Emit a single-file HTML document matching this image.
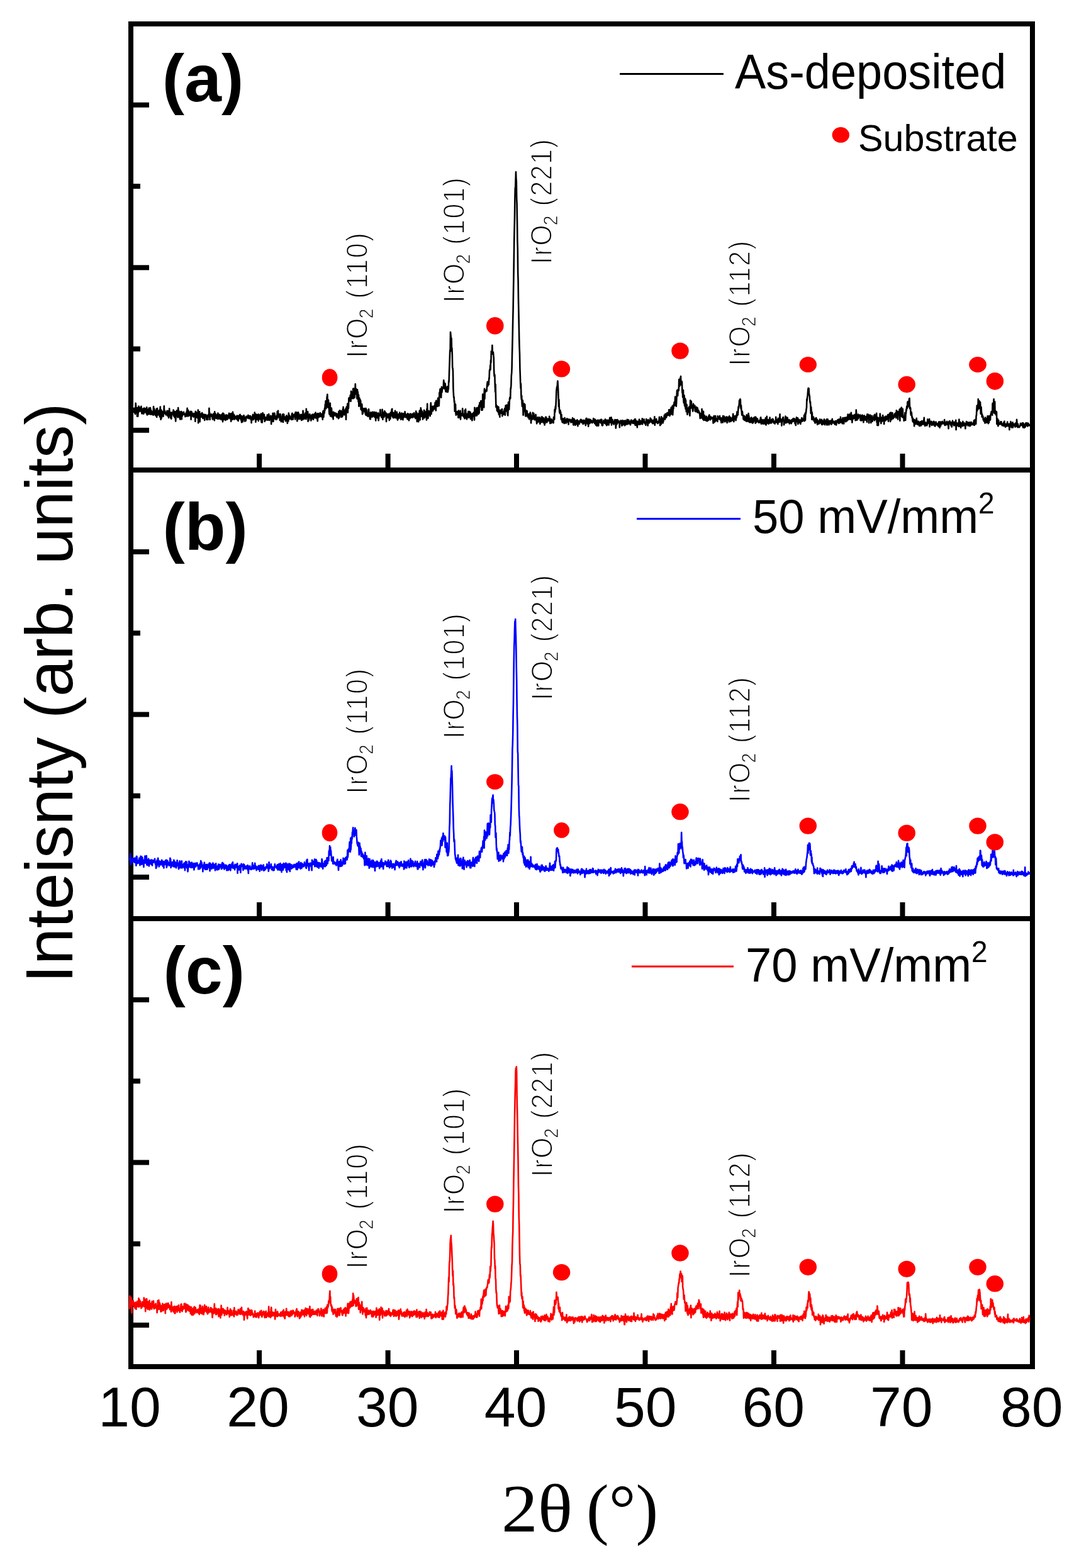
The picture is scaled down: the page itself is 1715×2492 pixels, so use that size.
<!DOCTYPE html>
<html><head><meta charset="utf-8"><title>XRD patterns</title>
<style>html,body{margin:0;padding:0;background:#fff;overflow:hidden;}svg{display:block;}</style>
</head><body>
<svg width="1715" height="2492" viewBox="0 0 1715 2492">
<rect width="100%" height="100%" fill="#fff"/>
<rect x="208" y="38" width="1433" height="2134" fill="none" stroke="#000" stroke-width="8"/>
<line x1="204" y1="747" x2="1645" y2="747" stroke="#000" stroke-width="8"/>
<line x1="204" y1="1460" x2="1645" y2="1460" stroke="#000" stroke-width="8"/>
<line x1="212" y1="166.8" x2="237" y2="166.8" stroke="#000" stroke-width="8"/>
<line x1="212" y1="425.3" x2="237" y2="425.3" stroke="#000" stroke-width="8"/>
<line x1="212" y1="683.8" x2="237" y2="683.8" stroke="#000" stroke-width="8"/>
<line x1="212" y1="296.0" x2="223" y2="296.0" stroke="#000" stroke-width="8"/>
<line x1="212" y1="554.5" x2="223" y2="554.5" stroke="#000" stroke-width="8"/>
<line x1="212" y1="877.0" x2="237" y2="877.0" stroke="#000" stroke-width="8"/>
<line x1="212" y1="1135.5" x2="237" y2="1135.5" stroke="#000" stroke-width="8"/>
<line x1="212" y1="1394.0" x2="237" y2="1394.0" stroke="#000" stroke-width="8"/>
<line x1="212" y1="1006.2" x2="223" y2="1006.2" stroke="#000" stroke-width="8"/>
<line x1="212" y1="1264.8" x2="223" y2="1264.8" stroke="#000" stroke-width="8"/>
<line x1="212" y1="1589.0" x2="237" y2="1589.0" stroke="#000" stroke-width="8"/>
<line x1="212" y1="1847.5" x2="237" y2="1847.5" stroke="#000" stroke-width="8"/>
<line x1="212" y1="2106.0" x2="237" y2="2106.0" stroke="#000" stroke-width="8"/>
<line x1="212" y1="1718.2" x2="223" y2="1718.2" stroke="#000" stroke-width="8"/>
<line x1="212" y1="1976.8" x2="223" y2="1976.8" stroke="#000" stroke-width="8"/>
<line x1="412.1" y1="721" x2="412.1" y2="743" stroke="#000" stroke-width="8"/>
<line x1="616.6" y1="721" x2="616.6" y2="743" stroke="#000" stroke-width="8"/>
<line x1="821.0" y1="721" x2="821.0" y2="743" stroke="#000" stroke-width="8"/>
<line x1="1025.5" y1="721" x2="1025.5" y2="743" stroke="#000" stroke-width="8"/>
<line x1="1230.0" y1="721" x2="1230.0" y2="743" stroke="#000" stroke-width="8"/>
<line x1="1434.5" y1="721" x2="1434.5" y2="743" stroke="#000" stroke-width="8"/>
<line x1="412.1" y1="1434" x2="412.1" y2="1456" stroke="#000" stroke-width="8"/>
<line x1="616.6" y1="1434" x2="616.6" y2="1456" stroke="#000" stroke-width="8"/>
<line x1="821.0" y1="1434" x2="821.0" y2="1456" stroke="#000" stroke-width="8"/>
<line x1="1025.5" y1="1434" x2="1025.5" y2="1456" stroke="#000" stroke-width="8"/>
<line x1="1230.0" y1="1434" x2="1230.0" y2="1456" stroke="#000" stroke-width="8"/>
<line x1="1434.5" y1="1434" x2="1434.5" y2="1456" stroke="#000" stroke-width="8"/>
<line x1="412.1" y1="2146" x2="412.1" y2="2168" stroke="#000" stroke-width="8"/>
<line x1="616.6" y1="2146" x2="616.6" y2="2168" stroke="#000" stroke-width="8"/>
<line x1="821.0" y1="2146" x2="821.0" y2="2168" stroke="#000" stroke-width="8"/>
<line x1="1025.5" y1="2146" x2="1025.5" y2="2168" stroke="#000" stroke-width="8"/>
<line x1="1230.0" y1="2146" x2="1230.0" y2="2168" stroke="#000" stroke-width="8"/>
<line x1="1434.5" y1="2146" x2="1434.5" y2="2168" stroke="#000" stroke-width="8"/>
<defs><filter id="bl" x="-1%" y="-5%" width="102%" height="110%"><feGaussianBlur stdDeviation="1"/></filter></defs>
<g>
<polyline points="206.0,653.2 206.4,655.3 206.8,657.8 207.2,646.0 207.6,655.7 208.0,653.7 208.4,649.5 208.8,654.4 209.2,653.5 209.6,653.2 210.0,652.1 210.4,654.4 210.8,648.8 211.2,651.4 211.6,650.0 212.0,654.7 212.4,652.4 212.8,651.0 213.2,648.9 213.6,651.2 214.0,655.8 214.4,651.2 214.8,658.0 215.2,656.8 215.6,640.8 216.0,644.4 216.4,651.8 216.8,650.8 217.2,653.6 217.6,653.6 218.0,661.8 218.4,648.0 218.8,651.2 219.2,661.6 219.6,655.7 220.0,655.8 220.4,645.5 220.8,646.0 221.2,653.8 221.6,653.6 222.0,647.9 222.4,650.3 222.8,652.9 223.2,649.3 223.6,652.9 224.0,653.8 224.4,645.7 224.8,651.3 225.2,656.0 225.6,657.3 226.0,654.9 226.4,650.1 226.8,656.7 227.2,651.6 227.6,657.4 228.0,649.2 228.4,657.7 228.8,653.7 229.2,648.6 229.6,652.6 230.0,654.2 230.4,655.1 230.8,649.9 231.2,649.4 231.6,655.0 232.0,652.2 232.4,655.2 232.8,657.4 233.2,647.4 233.6,655.4 234.0,659.5 234.4,653.2 234.8,651.0 235.2,657.6 235.6,655.6 236.0,658.3 236.4,653.2 236.8,648.5 237.2,654.2 237.6,652.9 238.0,658.0 238.4,655.6 238.8,648.1 239.2,649.9 239.6,658.6 240.0,657.8 240.4,652.3 240.8,655.0 241.2,656.9 241.6,657.0 242.0,658.8 242.4,656.3 242.8,654.8 243.2,654.2 243.6,659.7 244.0,646.1 244.4,654.8 244.8,655.6 245.2,649.6 245.6,656.9 246.0,652.9 246.4,659.1 246.8,655.1 247.2,658.4 247.6,660.7 248.0,657.3 248.4,652.2 248.8,649.7 249.2,663.0 249.6,655.5 250.0,649.0 250.4,656.6 250.8,655.3 251.2,659.5 251.6,656.3 252.0,656.2 252.4,653.3 252.8,658.1 253.2,652.1 253.6,659.0 254.0,662.5 254.4,650.2 254.8,646.5 255.2,659.0 255.6,666.8 256.0,652.5 256.4,651.6 256.8,664.5 257.2,653.3 257.6,654.7 258.0,655.4 258.4,658.9 258.8,655.2 259.2,658.0 259.6,661.8 260.0,653.6 260.4,655.7 260.8,645.3 261.2,657.1 261.6,652.6 262.0,652.7 262.4,655.8 262.8,656.9 263.2,657.0 263.6,659.2 264.0,655.6 264.4,656.3 264.8,659.0 265.2,658.4 265.6,652.7 266.0,660.7 266.4,655.1 266.8,653.2 267.2,653.9 267.6,655.9 268.0,663.9 268.4,652.9 268.8,658.2 269.2,649.2 269.6,657.6 270.0,661.2 270.4,656.7 270.8,655.2 271.2,664.3 271.6,660.5 272.0,660.4 272.4,665.6 272.8,658.7 273.2,655.5 273.6,657.4 274.0,657.6 274.4,658.4 274.8,657.8 275.2,658.7 275.6,651.5 276.0,661.3 276.4,655.8 276.8,653.5 277.2,660.6 277.6,663.3 278.0,660.1 278.4,664.2 278.8,654.6 279.2,669.4 279.6,661.7 280.0,653.9 280.4,655.3 280.8,658.7 281.2,652.4 281.6,659.1 282.0,656.7 282.4,663.2 282.8,662.2 283.2,648.0 283.6,658.7 284.0,652.3 284.4,662.9 284.8,659.3 285.2,660.8 285.6,654.6 286.0,665.8 286.4,666.5 286.8,654.7 287.2,660.2 287.6,656.2 288.0,658.8 288.4,654.0 288.8,666.1 289.2,655.2 289.6,657.8 290.0,660.9 290.4,656.5 290.8,658.1 291.2,656.9 291.6,658.6 292.0,654.7 292.4,657.5 292.8,658.4 293.2,657.9 293.6,659.5 294.0,658.2 294.4,662.2 294.8,658.1 295.2,658.8 295.6,656.9 296.0,657.4 296.4,654.6 296.8,661.4 297.2,655.2 297.6,648.8 298.0,660.9 298.4,661.1 298.8,658.1 299.2,652.0 299.6,661.2 300.0,660.7 300.4,654.4 300.8,654.7 301.2,657.1 301.6,655.5 302.0,660.2 302.4,659.2 302.8,660.6 303.2,653.9 303.6,666.8 304.0,657.7 304.4,654.2 304.8,655.0 305.2,658.7 305.6,661.3 306.0,658.8 306.4,659.9 306.8,661.1 307.2,657.4 307.6,662.7 308.0,658.5 308.4,657.0 308.8,660.6 309.2,662.0 309.6,659.5 310.0,657.1 310.4,669.7 310.8,653.9 311.2,656.6 311.6,660.6 312.0,655.4 312.4,660.6 312.8,660.4 313.2,663.9 313.6,657.2 314.0,658.3 314.4,661.9 314.8,651.6 315.2,672.2 315.6,658.2 316.0,658.1 316.4,664.0 316.8,660.7 317.2,654.3 317.6,670.3 318.0,664.1 318.4,659.3 318.8,659.9 319.2,662.8 319.6,657.7 320.0,662.7 320.4,661.8 320.8,658.6 321.2,656.0 321.6,660.3 322.0,658.0 322.4,664.9 322.8,661.8 323.2,664.1 323.6,661.8 324.0,662.3 324.4,658.5 324.8,663.8 325.2,667.9 325.6,660.3 326.0,659.3 326.4,660.9 326.8,659.8 327.2,659.0 327.6,662.1 328.0,660.5 328.4,666.8 328.8,661.6 329.2,662.8 329.6,665.2 330.0,660.6 330.4,667.0 330.8,659.5 331.2,658.9 331.6,660.5 332.0,661.5 332.4,648.9 332.8,661.8 333.2,655.9 333.6,667.0 334.0,661.7 334.4,659.7 334.8,658.8 335.2,660.7 335.6,661.3 336.0,658.4 336.4,658.9 336.8,661.5 337.2,660.4 337.6,665.6 338.0,666.3 338.4,662.4 338.8,664.0 339.2,657.6 339.6,664.7 340.0,662.3 340.4,664.1 340.8,668.1 341.2,654.3 341.6,663.4 342.0,658.5 342.4,664.5 342.8,657.8 343.2,660.7 343.6,663.2 344.0,664.6 344.4,662.7 344.8,659.6 345.2,660.5 345.6,665.6 346.0,662.5 346.4,656.5 346.8,665.5 347.2,664.0 347.6,665.6 348.0,661.3 348.4,665.4 348.8,658.7 349.2,664.5 349.6,660.8 350.0,664.9 350.4,666.1 350.8,659.9 351.2,662.3 351.6,662.7 352.0,666.8 352.4,665.1 352.8,658.2 353.2,664.2 353.6,665.2 354.0,670.1 354.4,656.6 354.8,660.7 355.2,667.3 355.6,657.8 356.0,658.3 356.4,664.4 356.8,666.2 357.2,660.2 357.6,664.5 358.0,663.0 358.4,668.0 358.8,662.6 359.2,666.1 359.6,659.4 360.0,662.0 360.4,662.3 360.8,666.7 361.2,664.7 361.6,660.0 362.0,665.1 362.4,665.4 362.8,662.3 363.2,661.7 363.6,662.0 364.0,656.7 364.4,663.3 364.8,663.5 365.2,659.6 365.6,665.3 366.0,657.8 366.4,660.7 366.8,661.0 367.2,669.7 367.6,657.0 368.0,664.7 368.4,666.1 368.8,664.1 369.2,666.9 369.6,659.2 370.0,654.7 370.4,665.5 370.8,658.5 371.2,661.6 371.6,658.6 372.0,666.5 372.4,665.8 372.8,660.2 373.2,666.0 373.6,663.2 374.0,662.3 374.4,663.0 374.8,662.1 375.2,665.0 375.6,663.9 376.0,661.6 376.4,666.4 376.8,660.6 377.2,663.8 377.6,664.3 378.0,668.0 378.4,661.0 378.8,669.0 379.2,663.5 379.6,662.2 380.0,660.5 380.4,664.9 380.8,663.0 381.2,659.0 381.6,658.9 382.0,660.9 382.4,660.5 382.8,666.7 383.2,667.7 383.6,665.9 384.0,671.1 384.4,661.4 384.8,663.1 385.2,666.0 385.6,670.4 386.0,666.1 386.4,661.9 386.8,663.0 387.2,661.2 387.6,660.2 388.0,662.3 388.4,663.6 388.8,669.4 389.2,663.1 389.6,667.7 390.0,669.2 390.4,663.2 390.8,668.6 391.2,665.5 391.6,661.5 392.0,663.9 392.4,663.1 392.8,662.2 393.2,662.3 393.6,663.5 394.0,664.5 394.4,659.9 394.8,663.0 395.2,661.0 395.6,663.9 396.0,665.2 396.4,663.6 396.8,664.0 397.2,665.1 397.6,660.7 398.0,662.2 398.4,664.8 398.8,666.6 399.2,664.4 399.6,672.0 400.0,662.7 400.4,666.6 400.8,667.5 401.2,662.6 401.6,660.2 402.0,658.9 402.4,663.6 402.8,667.0 403.2,664.0 403.6,663.7 404.0,661.8 404.4,665.1 404.8,655.6 405.2,663.9 405.6,663.2 406.0,658.3 406.4,670.8 406.8,658.3 407.2,659.4 407.6,658.9 408.0,667.0 408.4,660.0 408.8,665.5 409.2,665.2 409.6,664.1 410.0,658.6 410.4,661.0 410.8,669.0 411.2,658.6 411.6,660.3 412.0,662.6 412.4,666.0 412.8,664.1 413.2,665.8 413.6,659.5 414.0,666.5 414.4,665.2 414.8,657.6 415.2,668.6 415.6,671.2 416.0,660.5 416.4,663.4 416.8,671.4 417.2,658.0 417.6,656.3 418.0,658.7 418.4,661.3 418.8,661.2 419.2,665.4 419.6,664.2 420.0,658.9 420.4,665.2 420.8,669.8 421.2,667.5 421.6,666.7 422.0,663.3 422.4,666.7 422.8,667.4 423.2,665.9 423.6,663.0 424.0,667.2 424.4,664.9 424.8,659.5 425.2,663.8 425.6,667.6 426.0,659.4 426.4,661.4 426.8,660.6 427.2,658.1 427.6,666.7 428.0,667.9 428.4,666.1 428.8,664.2 429.2,663.2 429.6,664.2 430.0,660.8 430.4,666.5 430.8,667.0 431.2,673.9 431.6,661.5 432.0,663.7 432.4,662.8 432.8,669.6 433.2,664.0 433.6,656.8 434.0,664.8 434.4,670.0 434.8,665.8 435.2,666.5 435.6,663.5 436.0,656.6 436.4,657.1 436.8,659.1 437.2,663.0 437.6,664.5 438.0,665.8 438.4,662.3 438.8,666.8 439.2,662.5 439.6,661.0 440.0,666.4 440.4,660.3 440.8,654.0 441.2,659.8 441.6,663.8 442.0,652.8 442.4,662.2 442.8,662.3 443.2,658.5 443.6,658.3 444.0,661.9 444.4,661.6 444.8,667.9 445.2,664.8 445.6,658.0 446.0,660.5 446.4,665.9 446.8,670.1 447.2,664.8 447.6,664.5 448.0,669.9 448.4,663.3 448.8,662.3 449.2,658.5 449.6,661.6 450.0,671.0 450.4,658.4 450.8,663.4 451.2,658.5 451.6,663.8 452.0,666.4 452.4,662.5 452.8,665.9 453.2,665.8 453.6,664.9 454.0,669.3 454.4,666.0 454.8,662.2 455.2,660.9 455.6,660.3 456.0,664.9 456.4,662.1 456.8,672.8 457.2,669.7 457.6,662.5 458.0,662.1 458.4,669.1 458.8,656.6 459.2,661.6 459.6,666.5 460.0,660.0 460.4,661.5 460.8,661.9 461.2,665.5 461.6,663.6 462.0,664.5 462.4,665.2 462.8,663.2 463.2,667.0 463.6,660.5 464.0,658.0 464.4,656.8 464.8,657.4 465.2,661.1 465.6,666.7 466.0,663.6 466.4,660.9 466.8,659.2 467.2,661.1 467.6,661.6 468.0,661.0 468.4,657.9 468.8,661.3 469.2,666.5 469.6,655.3 470.0,662.1 470.4,655.4 470.8,663.6 471.2,660.3 471.6,655.5 472.0,663.2 472.4,669.3 472.8,663.2 473.2,667.0 473.6,662.6 474.0,655.2 474.4,664.6 474.8,661.3 475.2,657.6 475.6,665.6 476.0,663.8 476.4,660.9 476.8,665.8 477.2,659.7 477.6,665.0 478.0,659.4 478.4,664.6 478.8,658.8 479.2,668.0 479.6,663.6 480.0,667.8 480.4,659.8 480.8,661.0 481.2,665.6 481.6,652.9 482.0,658.8 482.4,666.3 482.8,664.3 483.2,666.1 483.6,661.5 484.0,664.6 484.4,660.0 484.8,657.7 485.2,656.5 485.6,660.6 486.0,660.6 486.4,666.2 486.8,649.9 487.2,655.4 487.6,660.6 488.0,663.5 488.4,660.4 488.8,659.3 489.2,654.2 489.6,669.6 490.0,658.5 490.4,668.4 490.8,667.9 491.2,663.3 491.6,660.3 492.0,662.8 492.4,658.2 492.8,663.2 493.2,662.3 493.6,664.2 494.0,665.7 494.4,668.5 494.8,660.8 495.2,666.0 495.6,659.4 496.0,659.0 496.4,660.0 496.8,658.6 497.2,665.7 497.6,665.4 498.0,666.7 498.4,662.0 498.8,663.1 499.2,660.0 499.6,657.9 500.0,663.6 500.4,663.0 500.8,658.0 501.2,664.1 501.6,655.6 502.0,661.3 502.4,659.6 502.8,659.9 503.2,657.9 503.6,665.2 504.0,663.8 504.4,666.0 504.8,669.3 505.2,657.0 505.6,660.3 506.0,657.3 506.4,663.2 506.8,658.2 507.2,662.6 507.6,659.2 508.0,660.0 508.4,662.0 508.8,656.0 509.2,661.7 509.6,661.9 510.0,659.1 510.4,659.5 510.8,661.5 511.2,657.8 511.6,657.7 512.0,663.5 512.4,661.3 512.8,666.6 513.2,656.5 513.6,653.2 514.0,663.2 514.4,662.8 514.8,655.8 515.2,652.1 515.6,656.7 516.0,648.5 516.4,652.6 516.8,642.7 517.2,648.7 517.6,637.4 518.0,643.3 518.4,649.1 518.8,637.4 519.2,640.6 519.6,631.5 520.0,629.6 520.4,626.7 520.8,647.0 521.2,637.1 521.6,647.8 522.0,635.9 522.4,643.0 522.8,646.8 523.2,655.0 523.6,658.6 524.0,649.5 524.4,649.0 524.8,640.7 525.2,661.4 525.6,656.5 526.0,654.9 526.4,657.8 526.8,648.5 527.2,652.0 527.6,662.4 528.0,660.5 528.4,659.7 528.8,655.4 529.2,661.5 529.6,666.1 530.0,654.7 530.4,659.5 530.8,657.8 531.2,660.8 531.6,659.5 532.0,658.9 532.4,656.1 532.8,659.4 533.2,657.1 533.6,658.8 534.0,659.1 534.4,661.8 534.8,657.1 535.2,658.0 535.6,663.3 536.0,658.4 536.4,658.1 536.8,662.4 537.2,660.1 537.6,659.3 538.0,665.2 538.4,654.1 538.8,660.5 539.2,663.8 539.6,660.8 540.0,652.4 540.4,659.5 540.8,654.7 541.2,657.2 541.6,658.5 542.0,653.1 542.4,662.9 542.8,657.2 543.2,660.4 543.6,659.6 544.0,662.2 544.4,661.3 544.8,650.3 545.2,656.1 545.6,646.9 546.0,653.4 546.4,657.8 546.8,658.3 547.2,659.4 547.6,651.9 548.0,654.4 548.4,652.9 548.8,657.4 549.2,658.2 549.6,649.0 550.0,666.8 550.4,649.1 550.8,646.6 551.2,650.3 551.6,650.2 552.0,648.3 552.4,641.6 552.8,655.8 553.2,643.0 553.6,649.4 554.0,647.6 554.4,633.0 554.8,633.3 555.2,631.9 555.6,637.3 556.0,635.1 556.4,635.0 556.8,628.1 557.2,633.5 557.6,637.6 558.0,621.8 558.4,626.8 558.8,628.0 559.2,625.0 559.6,623.7 560.0,633.3 560.4,629.9 560.8,626.9 561.2,617.7 561.6,633.2 562.0,622.8 562.4,617.6 562.8,618.7 563.2,617.9 563.6,632.0 564.0,622.0 564.4,621.6 564.8,610.3 565.2,626.3 565.6,617.5 566.0,617.9 566.4,623.1 566.8,621.1 567.2,631.2 567.6,633.8 568.0,619.4 568.4,629.4 568.8,622.9 569.2,632.1 569.6,638.5 570.0,627.6 570.4,645.6 570.8,635.6 571.2,632.2 571.6,638.9 572.0,644.6 572.4,634.8 572.8,642.7 573.2,637.1 573.6,650.5 574.0,646.4 574.4,644.6 574.8,652.2 575.2,642.4 575.6,647.3 576.0,658.1 576.4,649.9 576.8,657.1 577.2,652.6 577.6,649.3 578.0,651.9 578.4,653.8 578.8,652.2 579.2,650.9 579.6,651.5 580.0,649.0 580.4,655.9 580.8,657.4 581.2,659.1 581.6,649.1 582.0,659.9 582.4,656.8 582.8,651.4 583.2,657.7 583.6,660.7 584.0,659.7 584.4,660.7 584.8,661.7 585.2,661.6 585.6,658.1 586.0,650.2 586.4,655.5 586.8,659.9 587.2,656.8 587.6,661.3 588.0,666.0 588.4,659.0 588.8,666.1 589.2,655.2 589.6,662.6 590.0,657.3 590.4,656.2 590.8,661.4 591.2,656.9 591.6,662.6 592.0,654.9 592.4,659.5 592.8,656.2 593.2,658.6 593.6,658.1 594.0,655.2 594.4,662.0 594.8,654.9 595.2,655.9 595.6,663.0 596.0,663.4 596.4,662.2 596.8,661.0 597.2,668.4 597.6,655.2 598.0,657.0 598.4,656.1 598.8,663.2 599.2,661.0 599.6,664.1 600.0,663.6 600.4,659.1 600.8,656.9 601.2,656.3 601.6,668.3 602.0,663.7 602.4,662.3 602.8,658.8 603.2,659.3 603.6,658.8 604.0,658.9 604.4,651.1 604.8,659.9 605.2,658.7 605.6,661.2 606.0,661.0 606.4,663.4 606.8,660.2 607.2,663.2 607.6,650.7 608.0,656.1 608.4,666.7 608.8,655.7 609.2,659.2 609.6,662.9 610.0,657.0 610.4,663.0 610.8,655.0 611.2,653.2 611.6,655.4 612.0,654.2 612.4,660.3 612.8,659.2 613.2,661.6 613.6,656.5 614.0,669.9 614.4,660.1 614.8,660.2 615.2,662.1 615.6,659.5 616.0,658.1 616.4,660.8 616.8,663.9 617.2,662.9 617.6,664.0 618.0,658.4 618.4,657.6 618.8,667.9 619.2,659.6 619.6,662.3 620.0,663.3 620.4,665.8 620.8,655.5 621.2,658.7 621.6,658.9 622.0,659.4 622.4,651.6 622.8,660.2 623.2,649.8 623.6,661.7 624.0,662.6 624.4,662.8 624.8,656.1 625.2,664.1 625.6,657.4 626.0,656.0 626.4,657.0 626.8,657.5 627.2,661.3 627.6,663.7 628.0,652.8 628.4,658.6 628.8,664.0 629.2,661.4 629.6,662.5 630.0,655.1 630.4,664.2 630.8,654.9 631.2,661.4 631.6,665.7 632.0,667.6 632.4,662.6 632.8,663.9 633.2,658.4 633.6,658.9 634.0,665.0 634.4,660.7 634.8,660.2 635.2,655.5 635.6,661.3 636.0,663.1 636.4,657.8 636.8,658.8 637.2,666.6 637.6,661.4 638.0,659.6 638.4,656.5 638.8,658.4 639.2,659.8 639.6,665.8 640.0,658.4 640.4,667.3 640.8,657.3 641.2,659.4 641.6,663.8 642.0,659.8 642.4,657.6 642.8,660.2 643.2,662.4 643.6,654.3 644.0,659.8 644.4,660.3 644.8,659.2 645.2,663.4 645.6,658.6 646.0,659.3 646.4,660.8 646.8,663.4 647.2,659.9 647.6,666.3 648.0,657.3 648.4,665.4 648.8,657.5 649.2,660.1 649.6,662.0 650.0,668.3 650.4,664.0 650.8,659.1 651.2,665.4 651.6,659.8 652.0,657.6 652.4,658.5 652.8,660.8 653.2,664.0 653.6,658.4 654.0,661.8 654.4,662.7 654.8,661.4 655.2,660.2 655.6,657.7 656.0,663.6 656.4,660.7 656.8,662.0 657.2,658.8 657.6,660.2 658.0,656.2 658.4,660.4 658.8,662.9 659.2,660.3 659.6,663.2 660.0,661.1 660.4,665.0 660.8,659.1 661.2,653.6 661.6,661.4 662.0,659.1 662.4,656.0 662.8,669.9 663.2,660.7 663.6,661.3 664.0,658.3 664.4,660.3 664.8,660.5 665.2,670.2 665.6,656.8 666.0,659.3 666.4,660.7 666.8,652.7 667.2,653.1 667.6,667.5 668.0,652.4 668.4,661.3 668.8,648.4 669.2,656.1 669.6,651.4 670.0,655.5 670.4,661.9 670.8,653.5 671.2,661.1 671.6,659.9 672.0,666.5 672.4,656.8 672.8,663.5 673.2,661.9 673.6,657.3 674.0,651.9 674.4,664.2 674.8,652.9 675.2,656.3 675.6,661.5 676.0,662.3 676.4,654.6 676.8,657.7 677.2,656.7 677.6,658.3 678.0,667.4 678.4,650.1 678.8,660.9 679.2,641.9 679.6,657.0 680.0,652.4 680.4,664.6 680.8,657.1 681.2,653.3 681.6,654.1 682.0,653.6 682.4,656.5 682.8,654.8 683.2,657.9 683.6,661.3 684.0,657.6 684.4,644.2 684.8,640.3 685.2,650.6 685.6,657.9 686.0,651.6 686.4,649.8 686.8,652.9 687.2,645.7 687.6,646.4 688.0,653.2 688.4,649.1 688.8,647.8 689.2,650.8 689.6,646.1 690.0,645.0 690.4,645.4 690.8,649.7 691.2,646.5 691.6,639.9 692.0,643.4 692.4,647.3 692.8,652.5 693.2,636.9 693.6,643.5 694.0,639.6 694.4,644.3 694.8,641.5 695.2,645.9 695.6,640.0 696.0,633.5 696.4,632.5 696.8,636.6 697.2,635.5 697.6,645.2 698.0,640.3 698.4,624.0 698.8,631.1 699.2,621.1 699.6,618.3 700.0,630.1 700.4,628.1 700.8,618.5 701.2,631.8 701.6,616.9 702.0,614.9 702.4,623.6 702.8,620.4 703.2,617.5 703.6,617.1 704.0,617.9 704.4,615.2 704.8,614.3 705.2,604.4 705.6,606.7 706.0,616.6 706.4,609.0 706.8,615.2 707.2,618.5 707.6,609.6 708.0,612.7 708.4,622.2 708.8,615.5 709.2,622.7 709.6,622.6 710.0,620.1 710.4,617.2 710.8,614.8 711.2,614.4 711.6,623.2 712.0,622.4 712.4,616.9 712.8,618.7 713.2,605.5 713.6,607.3 714.0,592.3 714.4,581.1 714.8,569.3 715.2,556.5 715.6,558.9 716.0,527.8 716.4,531.8 716.8,536.7 717.2,537.1 717.6,538.0 718.0,557.8 718.4,553.2 718.8,563.3 719.2,584.7 719.6,585.0 720.0,590.4 720.4,617.2 720.8,624.7 721.2,631.6 721.6,630.9 722.0,639.3 722.4,637.5 722.8,653.6 723.2,651.4 723.6,653.0 724.0,642.6 724.4,655.8 724.8,659.6 725.2,659.1 725.6,657.8 726.0,655.0 726.4,654.1 726.8,658.3 727.2,657.7 727.6,657.4 728.0,655.5 728.4,663.7 728.8,652.6 729.2,657.3 729.6,655.3 730.0,661.8 730.4,663.5 730.8,662.9 731.2,661.1 731.6,652.9 732.0,666.5 732.4,660.5 732.8,658.2 733.2,658.8 733.6,657.5 734.0,660.5 734.4,660.2 734.8,657.7 735.2,649.3 735.6,659.0 736.0,661.1 736.4,661.3 736.8,658.8 737.2,661.1 737.6,663.3 738.0,657.7 738.4,665.1 738.8,652.1 739.2,654.8 739.6,656.2 740.0,650.4 740.4,655.9 740.8,664.4 741.2,664.4 741.6,660.1 742.0,666.3 742.4,660.7 742.8,657.9 743.2,660.7 743.6,659.3 744.0,662.6 744.4,654.1 744.8,663.6 745.2,658.1 745.6,663.0 746.0,654.0 746.4,658.2 746.8,660.1 747.2,663.2 747.6,655.1 748.0,666.0 748.4,661.5 748.8,657.6 749.2,664.2 749.6,659.9 750.0,663.9 750.4,668.3 750.8,662.3 751.2,657.3 751.6,657.6 752.0,661.3 752.4,660.1 752.8,655.6 753.2,656.1 753.6,661.1 754.0,667.5 754.4,647.9 754.8,660.8 755.2,656.9 755.6,660.6 756.0,660.7 756.4,657.2 756.8,652.6 757.2,650.6 757.6,648.3 758.0,660.5 758.4,654.2 758.8,652.4 759.2,653.0 759.6,647.9 760.0,654.3 760.4,658.1 760.8,656.7 761.2,644.2 761.6,656.4 762.0,646.2 762.4,640.1 762.8,642.3 763.2,642.6 763.6,646.2 764.0,640.3 764.4,637.0 764.8,641.9 765.2,651.7 765.6,637.6 766.0,642.4 766.4,639.3 766.8,651.6 767.2,626.5 767.6,641.2 768.0,627.2 768.4,629.7 768.8,631.1 769.2,647.4 769.6,625.1 770.0,617.8 770.4,633.6 770.8,621.0 771.2,623.0 771.6,622.9 772.0,622.4 772.4,619.7 772.8,620.8 773.2,620.2 773.6,621.4 774.0,613.2 774.4,610.0 774.8,606.8 775.2,613.8 775.6,608.5 776.0,609.4 776.4,607.1 776.8,611.1 777.2,601.1 777.6,601.9 778.0,589.2 778.4,587.4 778.8,588.6 779.2,580.6 779.6,587.3 780.0,572.6 780.4,576.0 780.8,558.4 781.2,561.5 781.6,561.9 782.0,559.2 782.4,548.8 782.8,557.9 783.2,562.8 783.6,563.0 784.0,559.8 784.4,565.5 784.8,568.8 785.2,589.9 785.6,597.8 786.0,595.0 786.4,596.3 786.8,613.7 787.2,623.0 787.6,610.8 788.0,631.4 788.4,646.9 788.8,643.6 789.2,645.5 789.6,647.5 790.0,652.8 790.4,645.5 790.8,647.5 791.2,654.2 791.6,650.4 792.0,655.2 792.4,646.7 792.8,658.3 793.2,659.0 793.6,656.0 794.0,656.7 794.4,662.7 794.8,651.9 795.2,652.7 795.6,652.1 796.0,654.8 796.4,652.4 796.8,656.7 797.2,653.9 797.6,650.6 798.0,650.1 798.4,661.2 798.8,655.9 799.2,655.1 799.6,656.0 800.0,655.4 800.4,658.6 800.8,657.6 801.2,652.6 801.6,651.4 802.0,650.0 802.4,649.0 802.8,659.8 803.2,649.6 803.6,644.5 804.0,649.0 804.4,648.7 804.8,653.1 805.2,643.9 805.6,652.8 806.0,643.8 806.4,654.7 806.8,658.0 807.2,660.4 807.6,652.4 808.0,639.3 808.4,641.5 808.8,643.1 809.2,650.6 809.6,641.4 810.0,634.0 810.4,631.5 810.8,632.0 811.2,633.5 811.6,617.1 812.0,617.6 812.4,612.0 812.8,597.0 813.2,593.4 813.6,585.2 814.0,563.4 814.4,547.9 814.8,529.1 815.2,508.5 815.6,491.7 816.0,466.1 816.4,442.6 816.8,415.0 817.2,385.3 817.6,363.1 818.0,345.4 818.4,315.1 818.8,299.1 819.2,296.9 819.6,285.4 820.0,273.3 820.4,284.3 820.8,288.0 821.2,315.8 821.6,324.0 822.0,350.5 822.4,382.3 822.8,396.1 823.2,433.2 823.6,446.8 824.0,476.2 824.4,495.6 824.8,517.3 825.2,537.2 825.6,552.7 826.0,562.4 826.4,585.4 826.8,595.9 827.2,608.6 827.6,617.3 828.0,609.7 828.4,629.6 828.8,634.6 829.2,629.0 829.6,640.9 830.0,645.9 830.4,638.1 830.8,636.2 831.2,643.1 831.6,659.6 832.0,648.9 832.4,643.6 832.8,649.1 833.2,641.5 833.6,650.5 834.0,653.5 834.4,643.1 834.8,656.1 835.2,661.1 835.6,655.1 836.0,655.0 836.4,661.4 836.8,652.6 837.2,653.2 837.6,653.1 838.0,658.4 838.4,660.9 838.8,659.4 839.2,662.2 839.6,663.6 840.0,662.6 840.4,658.1 840.8,660.4 841.2,666.2 841.6,658.2 842.0,661.3 842.4,661.0 842.8,655.5 843.2,659.1 843.6,658.4 844.0,672.3 844.4,666.8 844.8,661.3 845.2,663.7 845.6,666.4 846.0,663.1 846.4,666.5 846.8,655.8 847.2,663.6 847.6,664.6 848.0,663.5 848.4,657.0 848.8,665.4 849.2,666.3 849.6,667.2 850.0,662.5 850.4,666.9 850.8,666.6 851.2,660.2 851.6,658.9 852.0,667.7 852.4,663.1 852.8,669.5 853.2,673.3 853.6,664.6 854.0,664.3 854.4,666.5 854.8,668.8 855.2,663.1 855.6,670.7 856.0,670.0 856.4,669.0 856.8,665.2 857.2,669.9 857.6,669.7 858.0,663.3 858.4,673.7 858.8,666.2 859.2,668.3 859.6,665.6 860.0,668.5 860.4,670.9 860.8,671.0 861.2,662.2 861.6,666.0 862.0,663.4 862.4,665.1 862.8,667.1 863.2,667.3 863.6,671.6 864.0,664.4 864.4,668.7 864.8,666.1 865.2,671.9 865.6,675.5 866.0,668.6 866.4,672.9 866.8,666.1 867.2,662.8 867.6,663.8 868.0,662.9 868.4,664.8 868.8,667.0 869.2,671.3 869.6,670.0 870.0,669.2 870.4,666.5 870.8,665.6 871.2,667.9 871.6,668.2 872.0,668.6 872.4,668.9 872.8,667.4 873.2,661.8 873.6,664.2 874.0,665.1 874.4,672.9 874.8,666.2 875.2,669.6 875.6,672.0 876.0,668.4 876.4,672.3 876.8,666.3 877.2,669.5 877.6,667.9 878.0,670.4 878.4,668.4 878.8,668.9 879.2,668.4 879.6,672.2 880.0,663.0 880.4,664.9 880.8,665.7 881.2,666.4 881.6,650.8 882.0,655.4 882.4,653.5 882.8,646.0 883.2,650.1 883.6,642.1 884.0,633.4 884.4,621.1 884.8,617.4 885.2,614.6 885.6,619.3 886.0,609.2 886.4,605.6 886.8,611.4 887.2,619.8 887.6,632.0 888.0,645.9 888.4,635.1 888.8,647.2 889.2,653.5 889.6,656.7 890.0,653.9 890.4,652.1 890.8,657.8 891.2,654.7 891.6,663.8 892.0,666.8 892.4,658.7 892.8,665.5 893.2,667.1 893.6,670.6 894.0,671.3 894.4,669.7 894.8,665.2 895.2,666.4 895.6,671.4 896.0,666.0 896.4,667.8 896.8,672.9 897.2,668.6 897.6,664.1 898.0,667.4 898.4,670.4 898.8,667.9 899.2,672.1 899.6,672.5 900.0,666.7 900.4,667.2 900.8,668.5 901.2,665.2 901.6,670.0 902.0,668.4 902.4,671.3 902.8,667.2 903.2,666.4 903.6,674.5 904.0,666.5 904.4,667.4 904.8,667.0 905.2,668.3 905.6,666.5 906.0,669.1 906.4,667.2 906.8,668.1 907.2,670.4 907.6,671.4 908.0,670.7 908.4,667.2 908.8,670.6 909.2,669.1 909.6,669.1 910.0,664.4 910.4,671.4 910.8,669.1 911.2,674.5 911.6,675.5 912.0,666.3 912.4,665.6 912.8,672.9 913.2,667.0 913.6,671.6 914.0,668.7 914.4,675.8 914.8,669.9 915.2,674.1 915.6,673.6 916.0,668.4 916.4,668.8 916.8,674.0 917.2,669.7 917.6,667.2 918.0,673.3 918.4,677.2 918.8,669.7 919.2,673.9 919.6,669.4 920.0,673.8 920.4,669.2 920.8,673.8 921.2,671.5 921.6,669.4 922.0,670.7 922.4,668.4 922.8,666.8 923.2,667.0 923.6,669.9 924.0,667.0 924.4,671.3 924.8,671.6 925.2,671.5 925.6,668.7 926.0,670.3 926.4,670.1 926.8,674.0 927.2,667.9 927.6,669.1 928.0,669.5 928.4,669.8 928.8,668.1 929.2,668.4 929.6,673.2 930.0,668.4 930.4,672.9 930.8,676.1 931.2,673.9 931.6,665.1 932.0,672.5 932.4,664.7 932.8,671.9 933.2,665.7 933.6,672.5 934.0,667.2 934.4,674.0 934.8,673.4 935.2,677.6 935.6,669.3 936.0,666.0 936.4,673.4 936.8,672.9 937.2,669.3 937.6,668.2 938.0,672.4 938.4,666.7 938.8,669.4 939.2,669.2 939.6,670.1 940.0,671.0 940.4,668.5 940.8,669.9 941.2,672.1 941.6,670.3 942.0,669.7 942.4,669.6 942.8,670.2 943.2,665.1 943.6,671.0 944.0,667.6 944.4,670.8 944.8,666.3 945.2,673.1 945.6,671.2 946.0,666.7 946.4,671.2 946.8,668.4 947.2,675.7 947.6,672.0 948.0,668.3 948.4,671.2 948.8,676.9 949.2,674.0 949.6,671.6 950.0,672.1 950.4,667.5 950.8,672.9 951.2,676.6 951.6,672.5 952.0,670.5 952.4,671.1 952.8,668.0 953.2,671.2 953.6,667.6 954.0,670.8 954.4,669.6 954.8,668.4 955.2,672.4 955.6,666.5 956.0,670.6 956.4,667.0 956.8,675.9 957.2,676.3 957.6,673.1 958.0,676.1 958.4,672.4 958.8,672.3 959.2,669.6 959.6,668.3 960.0,671.2 960.4,669.3 960.8,669.6 961.2,672.9 961.6,670.5 962.0,666.4 962.4,670.2 962.8,668.7 963.2,674.3 963.6,667.8 964.0,674.2 964.4,676.2 964.8,667.7 965.2,672.7 965.6,672.5 966.0,667.9 966.4,671.2 966.8,674.8 967.2,673.3 967.6,675.4 968.0,667.6 968.4,668.8 968.8,671.7 969.2,663.9 969.6,671.0 970.0,669.8 970.4,669.8 970.8,669.2 971.2,672.2 971.6,663.2 972.0,675.4 972.4,669.5 972.8,666.9 973.2,672.5 973.6,667.0 974.0,672.0 974.4,669.8 974.8,672.6 975.2,673.1 975.6,674.5 976.0,669.6 976.4,670.1 976.8,670.9 977.2,667.0 977.6,672.6 978.0,671.3 978.4,667.2 978.8,680.4 979.2,674.7 979.6,667.2 980.0,672.5 980.4,674.4 980.8,673.2 981.2,668.2 981.6,667.0 982.0,670.6 982.4,669.5 982.8,670.9 983.2,670.6 983.6,672.3 984.0,669.3 984.4,670.4 984.8,679.1 985.2,670.5 985.6,672.9 986.0,671.7 986.4,671.5 986.8,668.3 987.2,672.3 987.6,670.7 988.0,673.1 988.4,676.6 988.8,671.3 989.2,672.9 989.6,668.0 990.0,671.1 990.4,675.1 990.8,670.6 991.2,669.0 991.6,671.4 992.0,670.3 992.4,670.1 992.8,669.7 993.2,676.3 993.6,668.3 994.0,669.6 994.4,669.2 994.8,674.2 995.2,670.0 995.6,674.4 996.0,671.2 996.4,670.7 996.8,666.7 997.2,674.1 997.6,672.3 998.0,671.9 998.4,670.4 998.8,669.6 999.2,667.2 999.6,673.4 1000.0,671.5 1000.4,669.7 1000.8,672.0 1001.2,671.1 1001.6,670.5 1002.0,675.3 1002.4,672.9 1002.8,669.0 1003.2,667.6 1003.6,670.0 1004.0,668.1 1004.4,670.9 1004.8,671.8 1005.2,672.5 1005.6,671.9 1006.0,670.2 1006.4,672.4 1006.8,668.2 1007.2,670.5 1007.6,673.0 1008.0,671.5 1008.4,667.1 1008.8,667.4 1009.2,666.1 1009.6,675.7 1010.0,666.3 1010.4,670.3 1010.8,675.8 1011.2,673.7 1011.6,674.4 1012.0,669.2 1012.4,672.7 1012.8,679.2 1013.2,670.5 1013.6,671.8 1014.0,669.7 1014.4,670.6 1014.8,671.7 1015.2,674.5 1015.6,674.2 1016.0,666.6 1016.4,670.7 1016.8,671.2 1017.2,674.6 1017.6,672.6 1018.0,668.8 1018.4,672.2 1018.8,673.7 1019.2,671.4 1019.6,669.6 1020.0,672.5 1020.4,669.5 1020.8,665.3 1021.2,674.3 1021.6,666.9 1022.0,669.6 1022.4,669.6 1022.8,669.5 1023.2,669.7 1023.6,666.4 1024.0,672.0 1024.4,670.5 1024.8,670.6 1025.2,673.5 1025.6,673.5 1026.0,674.2 1026.4,675.7 1026.8,671.7 1027.2,666.0 1027.6,671.0 1028.0,670.4 1028.4,670.6 1028.8,668.6 1029.2,667.8 1029.6,676.5 1030.0,673.1 1030.4,667.1 1030.8,671.8 1031.2,669.8 1031.6,669.2 1032.0,672.2 1032.4,670.1 1032.8,668.7 1033.2,670.4 1033.6,664.5 1034.0,668.5 1034.4,668.9 1034.8,666.1 1035.2,670.6 1035.6,670.9 1036.0,668.4 1036.4,669.6 1036.8,672.0 1037.2,673.1 1037.6,667.8 1038.0,671.0 1038.4,672.9 1038.8,669.8 1039.2,667.7 1039.6,667.7 1040.0,668.9 1040.4,662.2 1040.8,675.6 1041.2,668.1 1041.6,670.8 1042.0,670.2 1042.4,671.5 1042.8,668.4 1043.2,665.7 1043.6,669.2 1044.0,669.2 1044.4,669.7 1044.8,669.9 1045.2,673.0 1045.6,671.4 1046.0,672.6 1046.4,671.5 1046.8,669.4 1047.2,669.6 1047.6,666.6 1048.0,662.9 1048.4,667.9 1048.8,665.2 1049.2,676.2 1049.6,673.0 1050.0,671.7 1050.4,666.3 1050.8,674.1 1051.2,662.3 1051.6,663.7 1052.0,664.8 1052.4,664.0 1052.8,667.3 1053.2,667.2 1053.6,672.5 1054.0,666.2 1054.4,669.9 1054.8,667.0 1055.2,664.9 1055.6,662.8 1056.0,659.7 1056.4,661.6 1056.8,662.9 1057.2,666.5 1057.6,657.7 1058.0,658.5 1058.4,663.7 1058.8,658.8 1059.2,663.4 1059.6,660.3 1060.0,658.7 1060.4,656.1 1060.8,660.3 1061.2,657.5 1061.6,657.5 1062.0,657.0 1062.4,659.7 1062.8,659.1 1063.2,651.4 1063.6,657.0 1064.0,658.8 1064.4,660.9 1064.8,659.4 1065.2,656.6 1065.6,650.6 1066.0,651.6 1066.4,658.1 1066.8,647.6 1067.2,657.6 1067.6,658.2 1068.0,647.5 1068.4,653.5 1068.8,645.0 1069.2,659.3 1069.6,653.3 1070.0,646.4 1070.4,649.7 1070.8,642.7 1071.2,645.3 1071.6,639.3 1072.0,644.5 1072.4,644.1 1072.8,636.7 1073.2,630.6 1073.6,636.8 1074.0,632.6 1074.4,632.0 1074.8,645.6 1075.2,638.8 1075.6,629.9 1076.0,621.4 1076.4,620.2 1076.8,627.1 1077.2,628.9 1077.6,619.6 1078.0,619.8 1078.4,618.4 1078.8,620.7 1079.2,603.1 1079.6,612.2 1080.0,611.9 1080.4,613.5 1080.8,609.4 1081.2,600.7 1081.6,603.1 1082.0,598.0 1082.4,607.6 1082.8,608.6 1083.2,611.9 1083.6,606.0 1084.0,607.4 1084.4,624.3 1084.8,619.9 1085.2,631.2 1085.6,627.2 1086.0,620.1 1086.4,635.1 1086.8,640.1 1087.2,633.8 1087.6,628.6 1088.0,644.2 1088.4,642.2 1088.8,646.0 1089.2,633.5 1089.6,649.7 1090.0,636.1 1090.4,645.7 1090.8,654.3 1091.2,642.8 1091.6,643.0 1092.0,649.5 1092.4,658.7 1092.8,658.6 1093.2,648.7 1093.6,655.6 1094.0,653.4 1094.4,651.7 1094.8,651.7 1095.2,646.5 1095.6,652.9 1096.0,653.7 1096.4,660.8 1096.8,652.3 1097.2,636.3 1097.6,641.7 1098.0,648.6 1098.4,647.1 1098.8,637.8 1099.2,645.8 1099.6,644.7 1100.0,646.2 1100.4,645.9 1100.8,650.9 1101.2,653.6 1101.6,650.1 1102.0,641.9 1102.4,643.2 1102.8,644.4 1103.2,647.5 1103.6,646.1 1104.0,646.8 1104.4,644.5 1104.8,653.4 1105.2,653.3 1105.6,654.1 1106.0,649.9 1106.4,652.7 1106.8,647.1 1107.2,647.1 1107.6,649.6 1108.0,655.0 1108.4,652.3 1108.8,648.5 1109.2,654.2 1109.6,656.0 1110.0,655.4 1110.4,652.4 1110.8,655.9 1111.2,654.3 1111.6,655.2 1112.0,656.6 1112.4,660.3 1112.8,664.9 1113.2,664.2 1113.6,661.0 1114.0,657.4 1114.4,658.1 1114.8,658.6 1115.2,664.3 1115.6,650.0 1116.0,661.6 1116.4,653.6 1116.8,661.2 1117.2,666.3 1117.6,658.5 1118.0,653.8 1118.4,666.9 1118.8,667.9 1119.2,664.5 1119.6,667.4 1120.0,660.3 1120.4,667.4 1120.8,663.8 1121.2,665.9 1121.6,664.8 1122.0,668.4 1122.4,668.0 1122.8,661.7 1123.2,669.0 1123.6,667.0 1124.0,665.1 1124.4,669.1 1124.8,667.9 1125.2,667.3 1125.6,663.2 1126.0,667.8 1126.4,661.3 1126.8,664.7 1127.2,659.5 1127.6,659.5 1128.0,666.7 1128.4,665.0 1128.8,665.6 1129.2,667.3 1129.6,662.6 1130.0,662.5 1130.4,665.7 1130.8,665.3 1131.2,663.8 1131.6,665.2 1132.0,664.4 1132.4,663.5 1132.8,664.6 1133.2,666.5 1133.6,672.5 1134.0,663.1 1134.4,667.5 1134.8,661.1 1135.2,671.1 1135.6,664.8 1136.0,666.4 1136.4,670.1 1136.8,669.2 1137.2,661.1 1137.6,667.8 1138.0,665.3 1138.4,668.1 1138.8,666.6 1139.2,668.5 1139.6,667.1 1140.0,665.7 1140.4,670.0 1140.8,661.2 1141.2,664.8 1141.6,663.1 1142.0,665.8 1142.4,664.9 1142.8,665.8 1143.2,664.7 1143.6,664.8 1144.0,661.0 1144.4,666.2 1144.8,667.3 1145.2,664.4 1145.6,664.2 1146.0,664.3 1146.4,671.8 1146.8,667.0 1147.2,667.7 1147.6,668.7 1148.0,664.8 1148.4,663.6 1148.8,671.4 1149.2,661.0 1149.6,667.4 1150.0,666.4 1150.4,665.7 1150.8,661.5 1151.2,662.6 1151.6,669.7 1152.0,670.4 1152.4,669.4 1152.8,668.7 1153.2,668.4 1153.6,669.0 1154.0,662.7 1154.4,665.1 1154.8,668.8 1155.2,662.5 1155.6,671.9 1156.0,664.8 1156.4,666.4 1156.8,663.3 1157.2,667.8 1157.6,664.2 1158.0,665.8 1158.4,662.9 1158.8,670.4 1159.2,661.4 1159.6,668.0 1160.0,667.3 1160.4,668.0 1160.8,663.3 1161.2,669.9 1161.6,669.6 1162.0,667.0 1162.4,667.5 1162.8,666.0 1163.2,668.5 1163.6,663.8 1164.0,668.2 1164.4,667.7 1164.8,661.8 1165.2,657.8 1165.6,665.9 1166.0,665.7 1166.4,670.1 1166.8,666.2 1167.2,664.3 1167.6,661.4 1168.0,665.4 1168.4,663.6 1168.8,661.6 1169.2,664.5 1169.6,668.1 1170.0,664.3 1170.4,659.7 1170.8,663.6 1171.2,657.4 1171.6,654.2 1172.0,660.5 1172.4,654.5 1172.8,659.3 1173.2,653.8 1173.6,646.5 1174.0,648.7 1174.4,645.5 1174.8,642.3 1175.2,636.2 1175.6,637.0 1176.0,635.9 1176.4,634.3 1176.8,634.6 1177.2,644.5 1177.6,649.5 1178.0,644.4 1178.4,651.7 1178.8,654.3 1179.2,659.6 1179.6,653.5 1180.0,654.7 1180.4,659.4 1180.8,659.6 1181.2,661.6 1181.6,666.3 1182.0,661.1 1182.4,664.1 1182.8,660.7 1183.2,667.9 1183.6,662.7 1184.0,662.8 1184.4,664.9 1184.8,664.4 1185.2,667.3 1185.6,668.8 1186.0,661.5 1186.4,669.7 1186.8,659.4 1187.2,667.4 1187.6,669.0 1188.0,664.7 1188.4,666.1 1188.8,664.4 1189.2,669.8 1189.6,657.0 1190.0,664.0 1190.4,661.0 1190.8,667.7 1191.2,671.2 1191.6,670.9 1192.0,669.3 1192.4,668.0 1192.8,664.9 1193.2,671.1 1193.6,669.3 1194.0,664.7 1194.4,663.4 1194.8,665.5 1195.2,670.8 1195.6,671.4 1196.0,672.5 1196.4,665.1 1196.8,666.4 1197.2,671.8 1197.6,668.2 1198.0,670.0 1198.4,663.5 1198.8,666.5 1199.2,667.6 1199.6,666.5 1200.0,666.4 1200.4,662.6 1200.8,672.7 1201.2,668.2 1201.6,663.2 1202.0,671.1 1202.4,668.0 1202.8,670.0 1203.2,667.2 1203.6,665.4 1204.0,665.5 1204.4,668.9 1204.8,670.3 1205.2,669.4 1205.6,669.9 1206.0,671.6 1206.4,668.8 1206.8,671.0 1207.2,671.4 1207.6,668.9 1208.0,667.8 1208.4,666.7 1208.8,664.3 1209.2,663.3 1209.6,672.1 1210.0,673.8 1210.4,666.4 1210.8,673.0 1211.2,671.1 1211.6,668.3 1212.0,671.2 1212.4,667.6 1212.8,669.3 1213.2,673.8 1213.6,671.5 1214.0,667.4 1214.4,670.4 1214.8,671.9 1215.2,667.9 1215.6,667.0 1216.0,674.0 1216.4,667.4 1216.8,664.3 1217.2,668.8 1217.6,675.4 1218.0,670.3 1218.4,671.4 1218.8,661.9 1219.2,666.8 1219.6,672.2 1220.0,667.3 1220.4,672.6 1220.8,670.0 1221.2,669.8 1221.6,673.7 1222.0,667.1 1222.4,667.2 1222.8,669.0 1223.2,669.4 1223.6,663.5 1224.0,672.4 1224.4,669.4 1224.8,668.2 1225.2,670.6 1225.6,667.5 1226.0,672.4 1226.4,669.0 1226.8,671.0 1227.2,666.1 1227.6,667.9 1228.0,669.9 1228.4,665.9 1228.8,666.8 1229.2,668.6 1229.6,672.2 1230.0,671.1 1230.4,671.6 1230.8,669.7 1231.2,671.6 1231.6,673.5 1232.0,669.4 1232.4,670.2 1232.8,670.6 1233.2,662.8 1233.6,668.6 1234.0,670.1 1234.4,671.2 1234.8,667.9 1235.2,671.8 1235.6,667.0 1236.0,668.4 1236.4,674.0 1236.8,664.8 1237.2,668.7 1237.6,668.5 1238.0,668.6 1238.4,667.3 1238.8,670.9 1239.2,665.7 1239.6,658.3 1240.0,670.3 1240.4,665.3 1240.8,670.0 1241.2,669.0 1241.6,666.8 1242.0,667.9 1242.4,676.5 1242.8,670.2 1243.2,667.0 1243.6,668.3 1244.0,664.6 1244.4,668.1 1244.8,663.1 1245.2,668.8 1245.6,667.5 1246.0,675.2 1246.4,672.7 1246.8,668.4 1247.2,671.7 1247.6,669.7 1248.0,665.4 1248.4,661.6 1248.8,672.2 1249.2,670.0 1249.6,663.0 1250.0,663.4 1250.4,671.6 1250.8,666.8 1251.2,671.3 1251.6,663.8 1252.0,668.3 1252.4,669.0 1252.8,671.3 1253.2,670.1 1253.6,669.6 1254.0,670.6 1254.4,667.0 1254.8,673.4 1255.2,668.0 1255.6,671.4 1256.0,669.0 1256.4,668.3 1256.8,670.8 1257.2,670.4 1257.6,673.1 1258.0,672.3 1258.4,667.4 1258.8,670.6 1259.2,669.4 1259.6,666.8 1260.0,665.9 1260.4,669.9 1260.8,667.6 1261.2,665.1 1261.6,668.9 1262.0,666.3 1262.4,669.5 1262.8,665.6 1263.2,667.5 1263.6,673.2 1264.0,666.9 1264.4,668.2 1264.8,676.0 1265.2,670.2 1265.6,667.7 1266.0,663.4 1266.4,670.1 1266.8,665.1 1267.2,669.1 1267.6,666.6 1268.0,664.2 1268.4,674.0 1268.8,668.8 1269.2,671.8 1269.6,671.3 1270.0,666.9 1270.4,669.3 1270.8,667.9 1271.2,671.8 1271.6,670.2 1272.0,667.8 1272.4,673.8 1272.8,670.3 1273.2,670.1 1273.6,666.3 1274.0,669.8 1274.4,664.1 1274.8,669.8 1275.2,665.5 1275.6,668.7 1276.0,667.2 1276.4,668.5 1276.8,668.7 1277.2,667.1 1277.6,666.7 1278.0,661.6 1278.4,659.5 1278.8,669.1 1279.2,665.7 1279.6,657.1 1280.0,667.7 1280.4,655.7 1280.8,657.9 1281.2,654.6 1281.6,649.8 1282.0,648.3 1282.4,634.2 1282.8,636.6 1283.2,631.0 1283.6,628.7 1284.0,623.2 1284.4,618.7 1284.8,616.8 1285.2,625.4 1285.6,617.2 1286.0,625.7 1286.4,628.4 1286.8,629.3 1287.2,635.7 1287.6,640.1 1288.0,638.4 1288.4,646.4 1288.8,657.0 1289.2,646.7 1289.6,653.0 1290.0,653.8 1290.4,666.7 1290.8,655.8 1291.2,662.5 1291.6,667.0 1292.0,662.0 1292.4,665.3 1292.8,664.2 1293.2,662.9 1293.6,667.3 1294.0,669.4 1294.4,667.0 1294.8,669.0 1295.2,670.8 1295.6,672.5 1296.0,665.4 1296.4,671.0 1296.8,667.5 1297.2,664.0 1297.6,667.3 1298.0,671.5 1298.4,670.7 1298.8,666.7 1299.2,674.6 1299.6,671.2 1300.0,669.9 1300.4,668.6 1300.8,671.4 1301.2,669.2 1301.6,673.6 1302.0,671.3 1302.4,672.2 1302.8,669.6 1303.2,666.4 1303.6,672.1 1304.0,667.8 1304.4,670.4 1304.8,670.7 1305.2,668.6 1305.6,673.3 1306.0,666.9 1306.4,675.0 1306.8,669.3 1307.2,673.6 1307.6,674.6 1308.0,668.7 1308.4,669.0 1308.8,673.7 1309.2,671.6 1309.6,671.4 1310.0,666.2 1310.4,666.7 1310.8,672.7 1311.2,675.2 1311.6,669.4 1312.0,669.0 1312.4,671.9 1312.8,672.6 1313.2,672.9 1313.6,670.2 1314.0,666.2 1314.4,675.4 1314.8,670.2 1315.2,674.9 1315.6,666.2 1316.0,672.6 1316.4,670.3 1316.8,668.7 1317.2,674.3 1317.6,675.1 1318.0,670.1 1318.4,673.4 1318.8,668.9 1319.2,670.1 1319.6,671.1 1320.0,670.9 1320.4,673.5 1320.8,668.6 1321.2,674.4 1321.6,674.5 1322.0,671.3 1322.4,668.8 1322.8,665.7 1323.2,671.8 1323.6,670.1 1324.0,672.3 1324.4,669.3 1324.8,672.1 1325.2,671.9 1325.6,672.0 1326.0,672.7 1326.4,672.6 1326.8,674.4 1327.2,669.6 1327.6,673.6 1328.0,672.0 1328.4,670.4 1328.8,668.8 1329.2,675.4 1329.6,672.0 1330.0,669.9 1330.4,671.4 1330.8,671.0 1331.2,669.5 1331.6,667.0 1332.0,671.1 1332.4,670.0 1332.8,669.6 1333.2,673.0 1333.6,666.4 1334.0,667.2 1334.4,670.3 1334.8,672.1 1335.2,671.3 1335.6,671.5 1336.0,662.9 1336.4,670.6 1336.8,670.2 1337.2,670.9 1337.6,666.7 1338.0,670.1 1338.4,671.5 1338.8,673.2 1339.2,669.0 1339.6,664.1 1340.0,668.1 1340.4,669.8 1340.8,669.3 1341.2,673.4 1341.6,666.8 1342.0,664.1 1342.4,665.2 1342.8,669.1 1343.2,664.4 1343.6,663.5 1344.0,664.0 1344.4,670.3 1344.8,667.1 1345.2,665.1 1345.6,668.8 1346.0,668.1 1346.4,662.6 1346.8,668.4 1347.2,666.3 1347.6,658.6 1348.0,661.4 1348.4,666.0 1348.8,666.6 1349.2,663.9 1349.6,661.4 1350.0,665.4 1350.4,658.3 1350.8,666.2 1351.2,663.7 1351.6,663.9 1352.0,661.7 1352.4,666.6 1352.8,655.7 1353.2,660.5 1353.6,665.4 1354.0,660.8 1354.4,671.5 1354.8,664.4 1355.2,660.2 1355.6,666.6 1356.0,662.3 1356.4,664.5 1356.8,660.1 1357.2,660.1 1357.6,664.7 1358.0,662.5 1358.4,659.4 1358.8,658.9 1359.2,664.3 1359.6,668.2 1360.0,658.8 1360.4,664.3 1360.8,651.6 1361.2,657.0 1361.6,664.5 1362.0,667.8 1362.4,662.4 1362.8,664.1 1363.2,663.2 1363.6,665.9 1364.0,658.5 1364.4,664.6 1364.8,660.9 1365.2,661.3 1365.6,662.5 1366.0,661.9 1366.4,659.9 1366.8,661.8 1367.2,659.4 1367.6,668.0 1368.0,665.3 1368.4,661.4 1368.8,668.5 1369.2,667.4 1369.6,664.7 1370.0,661.2 1370.4,659.5 1370.8,665.1 1371.2,668.0 1371.6,662.6 1372.0,661.3 1372.4,671.3 1372.8,668.2 1373.2,664.5 1373.6,660.3 1374.0,665.2 1374.4,667.4 1374.8,666.2 1375.2,666.5 1375.6,663.8 1376.0,667.6 1376.4,661.7 1376.8,662.3 1377.2,662.1 1377.6,661.7 1378.0,670.6 1378.4,658.2 1378.8,664.8 1379.2,660.7 1379.6,659.9 1380.0,664.5 1380.4,658.9 1380.8,663.9 1381.2,672.1 1381.6,663.9 1382.0,665.9 1382.4,661.5 1382.8,666.1 1383.2,659.5 1383.6,665.2 1384.0,664.1 1384.4,671.9 1384.8,664.3 1385.2,663.4 1385.6,662.8 1386.0,660.7 1386.4,667.3 1386.8,669.7 1387.2,663.6 1387.6,667.2 1388.0,663.7 1388.4,666.3 1388.8,666.5 1389.2,660.3 1389.6,662.5 1390.0,668.2 1390.4,658.8 1390.8,665.2 1391.2,664.1 1391.6,662.2 1392.0,665.4 1392.4,666.3 1392.8,667.1 1393.2,656.7 1393.6,670.9 1394.0,663.9 1394.4,675.9 1394.8,665.1 1395.2,663.6 1395.6,665.3 1396.0,676.0 1396.4,670.7 1396.8,664.5 1397.2,666.4 1397.6,669.3 1398.0,667.6 1398.4,665.9 1398.8,657.5 1399.2,662.2 1399.6,668.2 1400.0,669.3 1400.4,673.0 1400.8,663.9 1401.2,667.8 1401.6,665.5 1402.0,669.8 1402.4,665.3 1402.8,663.5 1403.2,660.0 1403.6,667.9 1404.0,666.0 1404.4,669.2 1404.8,663.6 1405.2,674.0 1405.6,663.0 1406.0,667.0 1406.4,666.6 1406.8,668.8 1407.2,664.5 1407.6,661.9 1408.0,661.6 1408.4,667.6 1408.8,665.1 1409.2,665.8 1409.6,661.8 1410.0,664.9 1410.4,665.1 1410.8,666.4 1411.2,659.1 1411.6,661.4 1412.0,669.8 1412.4,662.4 1412.8,663.3 1413.2,662.1 1413.6,658.1 1414.0,659.4 1414.4,656.6 1414.8,660.5 1415.2,669.9 1415.6,657.2 1416.0,655.5 1416.4,660.8 1416.8,657.7 1417.2,666.9 1417.6,660.1 1418.0,663.4 1418.4,656.1 1418.8,663.6 1419.2,663.3 1419.6,665.3 1420.0,661.4 1420.4,662.3 1420.8,660.8 1421.2,663.4 1421.6,658.2 1422.0,661.6 1422.4,657.2 1422.8,661.9 1423.2,658.0 1423.6,656.4 1424.0,656.1 1424.4,664.2 1424.8,652.3 1425.2,652.4 1425.6,660.5 1426.0,654.0 1426.4,655.9 1426.8,655.7 1427.2,666.5 1427.6,654.7 1428.0,654.4 1428.4,655.6 1428.8,658.0 1429.2,659.0 1429.6,651.0 1430.0,658.6 1430.4,668.7 1430.8,649.6 1431.2,659.0 1431.6,659.8 1432.0,657.3 1432.4,656.0 1432.8,647.5 1433.2,661.9 1433.6,656.2 1434.0,657.1 1434.4,663.1 1434.8,649.9 1435.2,659.2 1435.6,662.2 1436.0,663.1 1436.4,663.2 1436.8,668.8 1437.2,662.6 1437.6,665.4 1438.0,664.5 1438.4,656.1 1438.8,658.2 1439.2,668.0 1439.6,658.1 1440.0,657.4 1440.4,650.6 1440.8,652.4 1441.2,645.8 1441.6,646.2 1442.0,649.0 1442.4,639.7 1442.8,638.4 1443.2,646.4 1443.6,640.9 1444.0,640.8 1444.4,643.7 1444.8,636.7 1445.2,633.6 1445.6,633.1 1446.0,649.0 1446.4,647.0 1446.8,650.4 1447.2,648.2 1447.6,657.8 1448.0,659.9 1448.4,660.1 1448.8,655.3 1449.2,659.7 1449.6,663.9 1450.0,662.4 1450.4,667.4 1450.8,670.1 1451.2,665.2 1451.6,667.6 1452.0,666.5 1452.4,672.0 1452.8,671.9 1453.2,677.3 1453.6,669.7 1454.0,667.2 1454.4,671.2 1454.8,669.5 1455.2,670.8 1455.6,673.9 1456.0,669.7 1456.4,672.6 1456.8,664.8 1457.2,673.7 1457.6,671.3 1458.0,670.3 1458.4,669.7 1458.8,675.0 1459.2,669.8 1459.6,674.7 1460.0,669.9 1460.4,671.5 1460.8,672.4 1461.2,677.0 1461.6,672.3 1462.0,672.3 1462.4,671.5 1462.8,671.0 1463.2,670.2 1463.6,676.7 1464.0,675.9 1464.4,670.1 1464.8,672.5 1465.2,669.0 1465.6,674.6 1466.0,674.0 1466.4,672.5 1466.8,670.2 1467.2,674.3 1467.6,674.0 1468.0,667.9 1468.4,674.4 1468.8,663.8 1469.2,671.0 1469.6,670.1 1470.0,672.9 1470.4,677.0 1470.8,672.8 1471.2,675.6 1471.6,672.6 1472.0,671.7 1472.4,675.3 1472.8,674.1 1473.2,676.4 1473.6,675.3 1474.0,670.7 1474.4,666.2 1474.8,673.2 1475.2,669.8 1475.6,669.2 1476.0,669.0 1476.4,671.2 1476.8,672.4 1477.2,666.1 1477.6,678.1 1478.0,669.8 1478.4,672.9 1478.8,669.8 1479.2,670.4 1479.6,673.1 1480.0,674.0 1480.4,669.7 1480.8,675.9 1481.2,670.6 1481.6,675.5 1482.0,672.9 1482.4,675.3 1482.8,674.5 1483.2,672.3 1483.6,674.3 1484.0,669.7 1484.4,669.8 1484.8,672.2 1485.2,676.6 1485.6,671.2 1486.0,671.6 1486.4,677.4 1486.8,673.3 1487.2,673.2 1487.6,670.5 1488.0,673.3 1488.4,674.7 1488.8,673.1 1489.2,675.1 1489.6,674.1 1490.0,675.9 1490.4,675.3 1490.8,672.9 1491.2,675.5 1491.6,677.8 1492.0,674.1 1492.4,670.2 1492.8,673.8 1493.2,672.8 1493.6,679.8 1494.0,675.2 1494.4,670.6 1494.8,672.9 1495.2,677.0 1495.6,670.5 1496.0,672.1 1496.4,673.4 1496.8,673.0 1497.2,671.9 1497.6,673.7 1498.0,669.9 1498.4,672.0 1498.8,671.9 1499.2,672.7 1499.6,672.7 1500.0,673.4 1500.4,672.6 1500.8,672.4 1501.2,667.1 1501.6,675.7 1502.0,675.9 1502.4,670.6 1502.8,674.1 1503.2,675.3 1503.6,672.8 1504.0,674.7 1504.4,673.0 1504.8,674.4 1505.2,669.7 1505.6,674.7 1506.0,672.3 1506.4,671.7 1506.8,672.8 1507.2,676.0 1507.6,681.1 1508.0,674.2 1508.4,669.8 1508.8,672.6 1509.2,670.5 1509.6,669.0 1510.0,673.5 1510.4,673.2 1510.8,673.7 1511.2,673.8 1511.6,676.6 1512.0,671.4 1512.4,671.7 1512.8,678.4 1513.2,675.5 1513.6,672.9 1514.0,668.6 1514.4,671.6 1514.8,672.8 1515.2,673.5 1515.6,674.1 1516.0,673.1 1516.4,676.5 1516.8,670.8 1517.2,673.0 1517.6,672.0 1518.0,675.6 1518.4,674.1 1518.8,675.6 1519.2,667.9 1519.6,682.9 1520.0,675.5 1520.4,671.9 1520.8,673.7 1521.2,672.8 1521.6,675.6 1522.0,676.1 1522.4,674.7 1522.8,673.3 1523.2,672.1 1523.6,677.7 1524.0,676.5 1524.4,666.6 1524.8,674.0 1525.2,671.8 1525.6,672.9 1526.0,678.0 1526.4,671.0 1526.8,671.3 1527.2,679.8 1527.6,672.7 1528.0,673.3 1528.4,676.6 1528.8,672.6 1529.2,673.9 1529.6,674.4 1530.0,677.3 1530.4,669.9 1530.8,671.8 1531.2,673.5 1531.6,676.1 1532.0,672.3 1532.4,675.0 1532.8,672.6 1533.2,672.9 1533.6,676.9 1534.0,673.2 1534.4,681.1 1534.8,674.7 1535.2,676.6 1535.6,675.6 1536.0,670.0 1536.4,670.0 1536.8,674.9 1537.2,671.0 1537.6,672.4 1538.0,672.9 1538.4,671.4 1538.8,676.6 1539.2,675.5 1539.6,674.0 1540.0,675.0 1540.4,671.3 1540.8,675.7 1541.2,671.3 1541.6,677.3 1542.0,671.7 1542.4,671.9 1542.8,676.2 1543.2,674.8 1543.6,670.7 1544.0,674.6 1544.4,672.9 1544.8,672.9 1545.2,674.3 1545.6,674.1 1546.0,675.0 1546.4,673.4 1546.8,672.7 1547.2,671.2 1547.6,675.2 1548.0,668.3 1548.4,675.4 1548.8,675.7 1549.2,675.0 1549.6,667.0 1550.0,673.1 1550.4,668.8 1550.8,667.2 1551.2,673.7 1551.6,660.8 1552.0,660.3 1552.4,650.9 1552.8,644.5 1553.2,653.0 1553.6,651.5 1554.0,650.8 1554.4,647.0 1554.8,634.3 1555.2,644.6 1555.6,647.5 1556.0,649.4 1556.4,637.0 1556.8,638.0 1557.2,640.1 1557.6,641.9 1558.0,639.1 1558.4,645.5 1558.8,657.7 1559.2,648.1 1559.6,646.9 1560.0,655.5 1560.4,656.4 1560.8,662.6 1561.2,658.9 1561.6,662.3 1562.0,661.2 1562.4,661.9 1562.8,667.2 1563.2,667.1 1563.6,667.2 1564.0,669.4 1564.4,665.7 1564.8,668.6 1565.2,669.4 1565.6,672.5 1566.0,663.6 1566.4,668.3 1566.8,670.7 1567.2,667.8 1567.6,669.8 1568.0,671.6 1568.4,671.0 1568.8,664.6 1569.2,666.1 1569.6,661.4 1570.0,671.4 1570.4,670.0 1570.8,673.2 1571.2,661.4 1571.6,665.3 1572.0,671.5 1572.4,663.6 1572.8,667.0 1573.2,661.0 1573.6,667.7 1574.0,666.9 1574.4,660.8 1574.8,657.9 1575.2,658.5 1575.6,654.3 1576.0,658.4 1576.4,653.7 1576.8,656.0 1577.2,659.7 1577.6,641.4 1578.0,640.9 1578.4,645.1 1578.8,644.1 1579.2,640.5 1579.6,634.3 1580.0,656.3 1580.4,645.7 1580.8,641.6 1581.2,638.2 1581.6,657.4 1582.0,654.8 1582.4,655.6 1582.8,653.6 1583.2,659.4 1583.6,660.2 1584.0,654.6 1584.4,674.0 1584.8,667.8 1585.2,666.5 1585.6,665.7 1586.0,667.8 1586.4,677.3 1586.8,672.2 1587.2,668.0 1587.6,674.5 1588.0,673.8 1588.4,674.2 1588.8,672.8 1589.2,672.9 1589.6,674.1 1590.0,673.2 1590.4,670.4 1590.8,671.5 1591.2,674.1 1591.6,670.3 1592.0,673.9 1592.4,673.6 1592.8,676.2 1593.2,674.9 1593.6,673.8 1594.0,673.9 1594.4,675.7 1594.8,676.9 1595.2,672.2 1595.6,671.2 1596.0,673.1 1596.4,669.5 1596.8,673.1 1597.2,676.9 1597.6,677.3 1598.0,678.6 1598.4,675.2 1598.8,675.5 1599.2,673.8 1599.6,674.0 1600.0,675.8 1600.4,677.3 1600.8,676.2 1601.2,670.6 1601.6,676.4 1602.0,675.3 1602.4,674.0 1602.8,675.7 1603.2,677.4 1603.6,675.7 1604.0,673.8 1604.4,683.0 1604.8,674.0 1605.2,676.5 1605.6,678.3 1606.0,673.6 1606.4,670.1 1606.8,673.6 1607.2,675.0 1607.6,673.9 1608.0,679.5 1608.4,672.5 1608.8,676.8 1609.2,675.7 1609.6,671.2 1610.0,679.5 1610.4,674.4 1610.8,675.1 1611.2,676.2 1611.6,673.7 1612.0,674.0 1612.4,675.7 1612.8,673.8 1613.2,676.0 1613.6,678.6 1614.0,673.6 1614.4,672.3 1614.8,675.6 1615.2,676.7 1615.6,677.3 1616.0,666.9 1616.4,670.7 1616.8,677.8 1617.2,677.5 1617.6,679.2 1618.0,673.8 1618.4,677.2 1618.8,678.2 1619.2,677.4 1619.6,678.3 1620.0,679.1 1620.4,677.3 1620.8,677.2 1621.2,677.6 1621.6,675.5 1622.0,672.9 1622.4,674.0 1622.8,675.7 1623.2,674.2 1623.6,674.7 1624.0,675.2 1624.4,675.8 1624.8,672.2 1625.2,676.9 1625.6,674.5 1626.0,679.3 1626.4,672.4 1626.8,676.8 1627.2,675.2 1627.6,675.3 1628.0,679.8 1628.4,678.2 1628.8,674.3 1629.2,679.1 1629.6,674.7 1630.0,677.8 1630.4,672.4 1630.8,675.4 1631.2,675.5 1631.6,675.4 1632.0,672.7 1632.4,672.1 1632.8,676.1 1633.2,677.5 1633.6,676.2 1634.0,675.4 1634.4,672.9 1634.8,675.6 1635.2,675.0 1635.6,674.6 1636.0,676.6 1636.4,676.6 1636.8,677.1" fill="none" stroke="#000" stroke-width="2.6" stroke-linejoin="round"/>
<polyline points="206.0,1367.4 206.4,1364.6 206.8,1365.0 207.2,1356.9 207.6,1373.9 208.0,1366.6 208.4,1365.5 208.8,1369.9 209.2,1368.0 209.6,1364.7 210.0,1370.8 210.4,1365.7 210.8,1365.7 211.2,1363.9 211.6,1368.9 212.0,1366.7 212.4,1369.3 212.8,1364.8 213.2,1367.8 213.6,1363.8 214.0,1370.7 214.4,1368.1 214.8,1368.7 215.2,1369.1 215.6,1363.5 216.0,1370.6 216.4,1375.7 216.8,1361.2 217.2,1360.9 217.6,1361.8 218.0,1371.1 218.4,1368.3 218.8,1372.1 219.2,1370.7 219.6,1368.7 220.0,1369.1 220.4,1367.3 220.8,1371.4 221.2,1363.7 221.6,1366.5 222.0,1369.1 222.4,1375.2 222.8,1365.3 223.2,1364.1 223.6,1360.7 224.0,1372.1 224.4,1367.5 224.8,1373.6 225.2,1361.2 225.6,1372.9 226.0,1372.6 226.4,1363.1 226.8,1369.2 227.2,1373.4 227.6,1369.1 228.0,1372.6 228.4,1378.0 228.8,1369.9 229.2,1367.8 229.6,1366.0 230.0,1371.5 230.4,1360.6 230.8,1368.4 231.2,1368.7 231.6,1371.6 232.0,1365.1 232.4,1363.4 232.8,1360.0 233.2,1373.9 233.6,1369.6 234.0,1375.1 234.4,1369.4 234.8,1366.6 235.2,1371.3 235.6,1369.3 236.0,1364.8 236.4,1366.3 236.8,1376.4 237.2,1367.8 237.6,1371.3 238.0,1368.7 238.4,1367.2 238.8,1373.2 239.2,1369.5 239.6,1367.1 240.0,1369.5 240.4,1366.6 240.8,1370.8 241.2,1374.4 241.6,1367.0 242.0,1375.5 242.4,1367.7 242.8,1370.9 243.2,1367.2 243.6,1369.5 244.0,1370.6 244.4,1368.8 244.8,1367.9 245.2,1368.0 245.6,1367.5 246.0,1364.8 246.4,1369.7 246.8,1372.2 247.2,1374.1 247.6,1373.2 248.0,1379.9 248.4,1372.0 248.8,1369.2 249.2,1377.8 249.6,1367.1 250.0,1374.6 250.4,1367.5 250.8,1366.1 251.2,1363.9 251.6,1374.5 252.0,1370.6 252.4,1367.7 252.8,1377.4 253.2,1374.1 253.6,1371.5 254.0,1368.7 254.4,1371.3 254.8,1370.9 255.2,1374.2 255.6,1374.5 256.0,1369.2 256.4,1369.7 256.8,1369.8 257.2,1366.9 257.6,1369.7 258.0,1371.5 258.4,1374.4 258.8,1376.7 259.2,1369.0 259.6,1374.0 260.0,1370.4 260.4,1379.5 260.8,1371.9 261.2,1374.0 261.6,1368.8 262.0,1369.3 262.4,1373.0 262.8,1370.9 263.2,1373.6 263.6,1366.8 264.0,1374.8 264.4,1369.3 264.8,1378.7 265.2,1367.0 265.6,1376.5 266.0,1367.7 266.4,1374.2 266.8,1369.6 267.2,1371.0 267.6,1372.9 268.0,1371.7 268.4,1373.8 268.8,1375.6 269.2,1375.3 269.6,1372.7 270.0,1368.3 270.4,1363.9 270.8,1372.5 271.2,1365.7 271.6,1378.9 272.0,1372.4 272.4,1372.4 272.8,1376.7 273.2,1375.7 273.6,1374.2 274.0,1370.0 274.4,1374.6 274.8,1374.7 275.2,1370.5 275.6,1377.2 276.0,1375.4 276.4,1366.9 276.8,1374.2 277.2,1369.4 277.6,1377.7 278.0,1376.7 278.4,1370.1 278.8,1370.9 279.2,1374.3 279.6,1373.2 280.0,1379.3 280.4,1376.7 280.8,1373.2 281.2,1376.2 281.6,1367.3 282.0,1375.3 282.4,1372.1 282.8,1373.8 283.2,1372.0 283.6,1376.4 284.0,1381.1 284.4,1375.2 284.8,1370.8 285.2,1379.5 285.6,1368.3 286.0,1376.4 286.4,1372.8 286.8,1377.9 287.2,1372.0 287.6,1379.3 288.0,1375.9 288.4,1369.1 288.8,1368.4 289.2,1374.0 289.6,1379.4 290.0,1375.5 290.4,1375.4 290.8,1374.4 291.2,1377.7 291.6,1376.5 292.0,1376.2 292.4,1372.1 292.8,1379.3 293.2,1379.9 293.6,1371.2 294.0,1383.1 294.4,1377.9 294.8,1374.0 295.2,1369.4 295.6,1377.8 296.0,1377.5 296.4,1373.8 296.8,1369.9 297.2,1379.5 297.6,1374.0 298.0,1374.4 298.4,1385.2 298.8,1382.9 299.2,1379.1 299.6,1374.6 300.0,1378.2 300.4,1368.7 300.8,1376.5 301.2,1373.7 301.6,1372.0 302.0,1371.0 302.4,1377.9 302.8,1376.5 303.2,1376.7 303.6,1378.9 304.0,1373.5 304.4,1372.2 304.8,1370.5 305.2,1375.2 305.6,1378.7 306.0,1375.8 306.4,1378.4 306.8,1372.5 307.2,1374.8 307.6,1373.9 308.0,1372.3 308.4,1382.4 308.8,1379.1 309.2,1373.9 309.6,1373.9 310.0,1376.2 310.4,1371.8 310.8,1377.8 311.2,1372.3 311.6,1375.3 312.0,1373.2 312.4,1374.9 312.8,1375.8 313.2,1371.4 313.6,1373.4 314.0,1374.3 314.4,1375.6 314.8,1376.8 315.2,1381.4 315.6,1376.0 316.0,1375.8 316.4,1378.9 316.8,1374.4 317.2,1381.2 317.6,1378.4 318.0,1372.3 318.4,1379.1 318.8,1379.3 319.2,1368.1 319.6,1374.3 320.0,1375.2 320.4,1370.5 320.8,1373.3 321.2,1373.7 321.6,1378.3 322.0,1377.7 322.4,1385.1 322.8,1375.5 323.2,1380.4 323.6,1377.0 324.0,1377.7 324.4,1373.1 324.8,1370.7 325.2,1374.4 325.6,1379.3 326.0,1381.9 326.4,1378.8 326.8,1378.5 327.2,1374.2 327.6,1381.8 328.0,1381.2 328.4,1375.2 328.8,1376.8 329.2,1373.8 329.6,1381.6 330.0,1378.3 330.4,1376.7 330.8,1378.3 331.2,1378.4 331.6,1375.7 332.0,1373.1 332.4,1373.0 332.8,1371.5 333.2,1378.5 333.6,1384.1 334.0,1371.7 334.4,1377.5 334.8,1378.4 335.2,1374.0 335.6,1377.8 336.0,1373.7 336.4,1380.9 336.8,1375.3 337.2,1377.5 337.6,1379.3 338.0,1375.8 338.4,1371.6 338.8,1375.5 339.2,1379.6 339.6,1377.0 340.0,1378.0 340.4,1373.9 340.8,1377.7 341.2,1379.6 341.6,1377.4 342.0,1383.3 342.4,1376.7 342.8,1374.1 343.2,1372.3 343.6,1381.0 344.0,1377.2 344.4,1380.5 344.8,1378.8 345.2,1382.5 345.6,1381.4 346.0,1376.2 346.4,1378.3 346.8,1380.8 347.2,1373.6 347.6,1382.0 348.0,1381.2 348.4,1380.5 348.8,1376.9 349.2,1378.4 349.6,1374.0 350.0,1377.7 350.4,1375.7 350.8,1377.8 351.2,1376.0 351.6,1378.5 352.0,1381.2 352.4,1373.5 352.8,1380.5 353.2,1371.4 353.6,1370.9 354.0,1377.3 354.4,1377.7 354.8,1379.0 355.2,1372.6 355.6,1377.5 356.0,1378.1 356.4,1381.6 356.8,1377.4 357.2,1379.4 357.6,1374.7 358.0,1377.2 358.4,1376.4 358.8,1379.9 359.2,1374.7 359.6,1375.2 360.0,1379.6 360.4,1383.3 360.8,1379.0 361.2,1378.8 361.6,1376.8 362.0,1381.2 362.4,1379.5 362.8,1383.2 363.2,1378.9 363.6,1375.0 364.0,1376.2 364.4,1374.9 364.8,1374.1 365.2,1381.8 365.6,1380.4 366.0,1374.2 366.4,1383.5 366.8,1378.7 367.2,1375.1 367.6,1379.2 368.0,1377.8 368.4,1375.7 368.8,1372.1 369.2,1378.2 369.6,1372.6 370.0,1370.2 370.4,1379.8 370.8,1380.0 371.2,1376.7 371.6,1378.5 372.0,1377.3 372.4,1375.6 372.8,1377.1 373.2,1382.3 373.6,1373.8 374.0,1378.9 374.4,1378.8 374.8,1376.1 375.2,1376.9 375.6,1374.0 376.0,1375.7 376.4,1378.3 376.8,1379.3 377.2,1372.4 377.6,1387.6 378.0,1376.6 378.4,1378.7 378.8,1377.6 379.2,1377.1 379.6,1382.3 380.0,1376.9 380.4,1382.4 380.8,1381.8 381.2,1375.2 381.6,1381.5 382.0,1376.4 382.4,1386.7 382.8,1377.3 383.2,1375.6 383.6,1372.7 384.0,1374.6 384.4,1376.7 384.8,1375.5 385.2,1374.8 385.6,1376.4 386.0,1377.9 386.4,1382.9 386.8,1373.4 387.2,1376.9 387.6,1375.7 388.0,1374.0 388.4,1374.8 388.8,1375.9 389.2,1380.8 389.6,1378.0 390.0,1377.0 390.4,1380.5 390.8,1379.5 391.2,1378.0 391.6,1379.8 392.0,1376.2 392.4,1380.6 392.8,1380.1 393.2,1377.5 393.6,1375.1 394.0,1383.3 394.4,1379.0 394.8,1387.9 395.2,1376.8 395.6,1381.3 396.0,1377.5 396.4,1379.6 396.8,1381.3 397.2,1376.4 397.6,1378.5 398.0,1379.3 398.4,1379.2 398.8,1380.7 399.2,1382.0 399.6,1381.4 400.0,1379.7 400.4,1377.9 400.8,1375.6 401.2,1371.4 401.6,1377.4 402.0,1381.0 402.4,1377.9 402.8,1375.3 403.2,1380.9 403.6,1376.6 404.0,1376.8 404.4,1378.4 404.8,1380.5 405.2,1371.9 405.6,1375.7 406.0,1379.6 406.4,1378.0 406.8,1376.5 407.2,1377.5 407.6,1383.2 408.0,1377.8 408.4,1381.3 408.8,1381.5 409.2,1377.8 409.6,1380.5 410.0,1377.9 410.4,1377.4 410.8,1375.9 411.2,1381.8 411.6,1378.1 412.0,1377.6 412.4,1375.9 412.8,1384.6 413.2,1381.5 413.6,1378.9 414.0,1377.3 414.4,1374.8 414.8,1380.2 415.2,1380.2 415.6,1375.2 416.0,1382.8 416.4,1381.6 416.8,1376.6 417.2,1377.8 417.6,1378.1 418.0,1379.9 418.4,1379.0 418.8,1374.6 419.2,1383.8 419.6,1380.4 420.0,1383.2 420.4,1383.1 420.8,1378.8 421.2,1380.4 421.6,1381.5 422.0,1381.6 422.4,1378.8 422.8,1377.5 423.2,1379.4 423.6,1376.9 424.0,1377.6 424.4,1373.2 424.8,1379.4 425.2,1376.1 425.6,1377.5 426.0,1378.9 426.4,1380.0 426.8,1384.7 427.2,1379.6 427.6,1370.2 428.0,1379.4 428.4,1377.2 428.8,1380.1 429.2,1376.9 429.6,1376.8 430.0,1377.3 430.4,1377.0 430.8,1373.4 431.2,1376.8 431.6,1378.7 432.0,1382.3 432.4,1377.8 432.8,1377.6 433.2,1380.4 433.6,1380.3 434.0,1383.4 434.4,1380.4 434.8,1378.5 435.2,1382.6 435.6,1383.1 436.0,1377.1 436.4,1379.0 436.8,1373.4 437.2,1377.3 437.6,1375.7 438.0,1377.7 438.4,1376.9 438.8,1377.8 439.2,1378.0 439.6,1379.8 440.0,1379.0 440.4,1376.5 440.8,1374.3 441.2,1382.0 441.6,1382.5 442.0,1376.7 442.4,1379.8 442.8,1373.4 443.2,1373.3 443.6,1377.2 444.0,1382.5 444.4,1374.8 444.8,1375.4 445.2,1382.9 445.6,1372.1 446.0,1379.9 446.4,1379.4 446.8,1377.2 447.2,1378.4 447.6,1385.9 448.0,1374.3 448.4,1376.8 448.8,1377.0 449.2,1375.6 449.6,1373.5 450.0,1382.6 450.4,1378.3 450.8,1372.1 451.2,1375.4 451.6,1378.8 452.0,1378.8 452.4,1373.0 452.8,1377.1 453.2,1378.2 453.6,1378.6 454.0,1378.6 454.4,1371.6 454.8,1383.1 455.2,1377.9 455.6,1382.9 456.0,1386.2 456.4,1376.6 456.8,1373.2 457.2,1379.8 457.6,1376.5 458.0,1375.6 458.4,1373.7 458.8,1382.3 459.2,1375.5 459.6,1372.5 460.0,1375.4 460.4,1373.2 460.8,1385.0 461.2,1375.4 461.6,1373.4 462.0,1378.6 462.4,1374.6 462.8,1379.0 463.2,1380.7 463.6,1375.4 464.0,1374.5 464.4,1377.2 464.8,1379.4 465.2,1376.5 465.6,1376.9 466.0,1376.3 466.4,1377.4 466.8,1378.4 467.2,1374.0 467.6,1374.7 468.0,1376.4 468.4,1374.1 468.8,1376.6 469.2,1377.9 469.6,1376.0 470.0,1374.1 470.4,1373.5 470.8,1381.7 471.2,1378.8 471.6,1372.3 472.0,1373.2 472.4,1382.0 472.8,1380.8 473.2,1376.2 473.6,1379.6 474.0,1370.9 474.4,1375.7 474.8,1378.1 475.2,1369.6 475.6,1373.1 476.0,1378.2 476.4,1379.3 476.8,1373.6 477.2,1372.8 477.6,1380.8 478.0,1374.2 478.4,1371.0 478.8,1375.2 479.2,1374.0 479.6,1379.6 480.0,1375.8 480.4,1372.6 480.8,1376.0 481.2,1373.5 481.6,1376.7 482.0,1377.4 482.4,1374.3 482.8,1375.6 483.2,1377.0 483.6,1374.8 484.0,1370.2 484.4,1374.2 484.8,1374.2 485.2,1374.3 485.6,1375.3 486.0,1372.7 486.4,1379.2 486.8,1380.0 487.2,1367.3 487.6,1374.7 488.0,1372.2 488.4,1365.8 488.8,1375.9 489.2,1372.4 489.6,1373.2 490.0,1372.2 490.4,1378.1 490.8,1378.6 491.2,1383.2 491.6,1376.7 492.0,1373.9 492.4,1374.7 492.8,1371.7 493.2,1374.3 493.6,1371.7 494.0,1375.4 494.4,1376.9 494.8,1375.1 495.2,1378.1 495.6,1383.2 496.0,1366.7 496.4,1374.0 496.8,1371.9 497.2,1372.3 497.6,1369.1 498.0,1374.0 498.4,1372.8 498.8,1371.5 499.2,1372.8 499.6,1371.6 500.0,1365.5 500.4,1377.3 500.8,1372.5 501.2,1370.3 501.6,1374.6 502.0,1371.3 502.4,1366.0 502.8,1376.6 503.2,1367.7 503.6,1372.8 504.0,1374.0 504.4,1378.2 504.8,1377.7 505.2,1374.1 505.6,1370.9 506.0,1372.1 506.4,1377.3 506.8,1379.7 507.2,1375.4 507.6,1371.3 508.0,1377.1 508.4,1372.2 508.8,1372.0 509.2,1372.5 509.6,1375.5 510.0,1374.4 510.4,1376.9 510.8,1377.9 511.2,1375.2 511.6,1365.2 512.0,1367.4 512.4,1373.9 512.8,1373.1 513.2,1380.8 513.6,1373.1 514.0,1372.7 514.4,1376.5 514.8,1376.9 515.2,1372.3 515.6,1374.7 516.0,1369.0 516.4,1369.6 516.8,1377.2 517.2,1367.8 517.6,1375.9 518.0,1374.9 518.4,1375.1 518.8,1375.3 519.2,1373.7 519.6,1363.4 520.0,1366.9 520.4,1367.5 520.8,1372.3 521.2,1363.0 521.6,1363.0 522.0,1362.5 522.4,1367.7 522.8,1353.5 523.2,1351.6 523.6,1358.9 524.0,1344.2 524.4,1355.3 524.8,1351.4 525.2,1346.5 525.6,1358.7 526.0,1351.9 526.4,1359.0 526.8,1361.6 527.2,1368.2 527.6,1363.4 528.0,1365.4 528.4,1364.0 528.8,1367.5 529.2,1372.6 529.6,1362.1 530.0,1372.6 530.4,1368.7 530.8,1371.4 531.2,1372.6 531.6,1370.4 532.0,1372.7 532.4,1370.6 532.8,1373.2 533.2,1372.2 533.6,1371.5 534.0,1373.0 534.4,1375.4 534.8,1372.8 535.2,1372.9 535.6,1367.8 536.0,1371.9 536.4,1365.7 536.8,1374.9 537.2,1369.0 537.6,1376.9 538.0,1383.0 538.4,1370.8 538.8,1377.0 539.2,1373.6 539.6,1370.1 540.0,1369.1 540.4,1374.1 540.8,1377.0 541.2,1373.2 541.6,1366.4 542.0,1368.0 542.4,1370.8 542.8,1376.5 543.2,1372.5 543.6,1372.5 544.0,1375.6 544.4,1370.3 544.8,1370.5 545.2,1370.0 545.6,1363.8 546.0,1371.9 546.4,1371.4 546.8,1373.3 547.2,1364.7 547.6,1365.7 548.0,1372.0 548.4,1369.2 548.8,1372.8 549.2,1363.3 549.6,1366.9 550.0,1362.6 550.4,1365.9 550.8,1361.7 551.2,1365.0 551.6,1366.4 552.0,1363.6 552.4,1351.2 552.8,1362.4 553.2,1358.8 553.6,1350.2 554.0,1349.4 554.4,1352.1 554.8,1353.2 555.2,1346.2 555.6,1338.2 556.0,1346.3 556.4,1343.8 556.8,1354.0 557.2,1332.1 557.6,1350.5 558.0,1344.4 558.4,1330.7 558.8,1340.3 559.2,1330.3 559.6,1333.4 560.0,1322.8 560.4,1325.9 560.8,1319.1 561.2,1315.3 561.6,1321.7 562.0,1319.4 562.4,1326.0 562.8,1329.8 563.2,1322.4 563.6,1324.0 564.0,1325.2 564.4,1315.9 564.8,1327.1 565.2,1326.5 565.6,1327.2 566.0,1322.6 566.4,1319.0 566.8,1329.4 567.2,1333.7 567.6,1340.4 568.0,1340.6 568.4,1343.7 568.8,1339.2 569.2,1344.8 569.6,1338.9 570.0,1344.7 570.4,1347.7 570.8,1358.5 571.2,1346.8 571.6,1340.1 572.0,1355.3 572.4,1345.3 572.8,1350.3 573.2,1350.4 573.6,1348.5 574.0,1360.6 574.4,1358.1 574.8,1353.4 575.2,1357.6 575.6,1356.3 576.0,1362.0 576.4,1358.4 576.8,1357.5 577.2,1358.9 577.6,1360.6 578.0,1364.4 578.4,1360.0 578.8,1364.1 579.2,1366.9 579.6,1375.2 580.0,1369.7 580.4,1354.7 580.8,1365.1 581.2,1366.0 581.6,1369.2 582.0,1374.5 582.4,1371.6 582.8,1360.2 583.2,1370.5 583.6,1370.0 584.0,1371.4 584.4,1375.2 584.8,1366.3 585.2,1374.7 585.6,1364.6 586.0,1371.1 586.4,1372.5 586.8,1379.6 587.2,1368.8 587.6,1365.4 588.0,1374.1 588.4,1369.4 588.8,1377.5 589.2,1369.4 589.6,1368.9 590.0,1376.6 590.4,1372.5 590.8,1375.9 591.2,1367.3 591.6,1378.3 592.0,1370.4 592.4,1375.5 592.8,1369.1 593.2,1367.2 593.6,1371.9 594.0,1369.4 594.4,1378.4 594.8,1374.1 595.2,1375.5 595.6,1375.3 596.0,1384.0 596.4,1370.2 596.8,1377.5 597.2,1372.6 597.6,1374.1 598.0,1371.3 598.4,1377.3 598.8,1368.9 599.2,1368.7 599.6,1372.6 600.0,1369.4 600.4,1375.9 600.8,1376.7 601.2,1370.9 601.6,1376.2 602.0,1371.2 602.4,1373.4 602.8,1373.6 603.2,1380.1 603.6,1373.6 604.0,1370.5 604.4,1370.5 604.8,1377.8 605.2,1367.9 605.6,1372.1 606.0,1372.4 606.4,1365.3 606.8,1372.2 607.2,1377.3 607.6,1374.6 608.0,1370.8 608.4,1376.3 608.8,1375.7 609.2,1380.9 609.6,1371.4 610.0,1372.6 610.4,1374.1 610.8,1373.5 611.2,1374.3 611.6,1373.6 612.0,1371.6 612.4,1368.5 612.8,1372.1 613.2,1369.3 613.6,1370.5 614.0,1372.2 614.4,1375.8 614.8,1377.0 615.2,1370.6 615.6,1375.2 616.0,1376.9 616.4,1374.0 616.8,1368.5 617.2,1366.8 617.6,1376.9 618.0,1377.3 618.4,1375.1 618.8,1370.6 619.2,1379.1 619.6,1378.3 620.0,1374.0 620.4,1373.4 620.8,1367.5 621.2,1376.8 621.6,1368.7 622.0,1376.5 622.4,1376.7 622.8,1374.6 623.2,1379.6 623.6,1373.2 624.0,1376.3 624.4,1377.0 624.8,1375.1 625.2,1372.9 625.6,1378.5 626.0,1375.7 626.4,1373.7 626.8,1373.8 627.2,1374.8 627.6,1382.1 628.0,1374.7 628.4,1373.5 628.8,1370.7 629.2,1370.2 629.6,1367.9 630.0,1375.2 630.4,1374.5 630.8,1370.9 631.2,1369.4 631.6,1373.3 632.0,1372.6 632.4,1369.9 632.8,1375.4 633.2,1374.9 633.6,1374.3 634.0,1377.0 634.4,1372.2 634.8,1379.0 635.2,1371.0 635.6,1376.2 636.0,1376.6 636.4,1373.6 636.8,1375.6 637.2,1370.1 637.6,1369.4 638.0,1373.8 638.4,1372.0 638.8,1376.5 639.2,1374.6 639.6,1376.6 640.0,1375.6 640.4,1375.2 640.8,1374.8 641.2,1373.2 641.6,1372.9 642.0,1381.4 642.4,1368.6 642.8,1373.9 643.2,1377.9 643.6,1375.9 644.0,1379.3 644.4,1376.4 644.8,1370.3 645.2,1373.4 645.6,1369.8 646.0,1377.8 646.4,1379.4 646.8,1373.0 647.2,1376.3 647.6,1373.1 648.0,1369.6 648.4,1373.0 648.8,1369.1 649.2,1367.2 649.6,1375.2 650.0,1376.9 650.4,1378.8 650.8,1373.3 651.2,1375.2 651.6,1375.9 652.0,1376.3 652.4,1364.8 652.8,1371.8 653.2,1377.1 653.6,1370.6 654.0,1375.2 654.4,1377.2 654.8,1367.9 655.2,1373.7 655.6,1375.2 656.0,1374.4 656.4,1369.2 656.8,1375.5 657.2,1372.4 657.6,1377.1 658.0,1375.8 658.4,1372.4 658.8,1374.9 659.2,1371.9 659.6,1371.9 660.0,1368.9 660.4,1373.4 660.8,1376.9 661.2,1374.6 661.6,1374.1 662.0,1372.0 662.4,1372.3 662.8,1376.6 663.2,1369.0 663.6,1381.1 664.0,1373.8 664.4,1381.4 664.8,1378.0 665.2,1372.6 665.6,1376.5 666.0,1374.9 666.4,1375.5 666.8,1376.6 667.2,1378.6 667.6,1371.8 668.0,1372.5 668.4,1369.2 668.8,1372.9 669.2,1374.6 669.6,1369.2 670.0,1374.4 670.4,1372.4 670.8,1376.4 671.2,1366.7 671.6,1372.3 672.0,1372.5 672.4,1382.1 672.8,1375.9 673.2,1376.3 673.6,1373.6 674.0,1376.8 674.4,1370.1 674.8,1369.2 675.2,1366.2 675.6,1379.3 676.0,1378.9 676.4,1371.3 676.8,1370.4 677.2,1366.0 677.6,1368.0 678.0,1373.6 678.4,1372.6 678.8,1368.0 679.2,1371.4 679.6,1370.8 680.0,1374.7 680.4,1375.5 680.8,1372.2 681.2,1373.3 681.6,1372.8 682.0,1365.5 682.4,1373.4 682.8,1372.5 683.2,1375.3 683.6,1366.1 684.0,1375.2 684.4,1370.1 684.8,1373.2 685.2,1376.5 685.6,1366.8 686.0,1367.3 686.4,1375.4 686.8,1367.6 687.2,1368.0 687.6,1373.5 688.0,1370.4 688.4,1373.7 688.8,1371.7 689.2,1370.3 689.6,1373.7 690.0,1377.9 690.4,1369.0 690.8,1374.6 691.2,1372.8 691.6,1368.4 692.0,1369.2 692.4,1363.2 692.8,1363.8 693.2,1366.7 693.6,1364.6 694.0,1369.5 694.4,1357.7 694.8,1361.1 695.2,1358.6 695.6,1359.7 696.0,1364.5 696.4,1352.7 696.8,1361.0 697.2,1353.1 697.6,1353.0 698.0,1358.1 698.4,1350.6 698.8,1354.0 699.2,1349.8 699.6,1346.9 700.0,1344.5 700.4,1335.8 700.8,1339.6 701.2,1336.9 701.6,1342.0 702.0,1331.7 702.4,1343.8 702.8,1340.3 703.2,1329.2 703.6,1329.6 704.0,1337.0 704.4,1324.2 704.8,1329.0 705.2,1332.2 705.6,1331.4 706.0,1331.6 706.4,1334.1 706.8,1328.5 707.2,1331.5 707.6,1346.7 708.0,1330.3 708.4,1337.7 708.8,1343.0 709.2,1341.3 709.6,1353.5 710.0,1349.6 710.4,1354.9 710.8,1339.9 711.2,1359.6 711.6,1359.9 712.0,1350.5 712.4,1359.3 712.8,1351.7 713.2,1354.6 713.6,1349.7 714.0,1332.1 714.4,1315.2 714.8,1307.1 715.2,1279.8 715.6,1270.3 716.0,1253.3 716.4,1237.7 716.8,1235.3 717.2,1226.7 717.6,1217.2 718.0,1232.3 718.4,1225.2 718.8,1241.4 719.2,1256.7 719.6,1277.3 720.0,1288.3 720.4,1299.9 720.8,1316.6 721.2,1324.4 721.6,1337.4 722.0,1334.0 722.4,1335.9 722.8,1348.3 723.2,1358.8 723.6,1359.4 724.0,1364.8 724.4,1366.0 724.8,1366.7 725.2,1369.1 725.6,1363.8 726.0,1371.7 726.4,1364.1 726.8,1368.1 727.2,1363.5 727.6,1371.2 728.0,1358.9 728.4,1375.1 728.8,1365.1 729.2,1371.3 729.6,1370.0 730.0,1367.4 730.4,1375.4 730.8,1369.4 731.2,1376.5 731.6,1364.1 732.0,1368.4 732.4,1364.2 732.8,1373.5 733.2,1374.9 733.6,1372.5 734.0,1371.2 734.4,1368.5 734.8,1380.3 735.2,1374.6 735.6,1365.4 736.0,1370.9 736.4,1362.8 736.8,1377.8 737.2,1379.2 737.6,1381.7 738.0,1372.0 738.4,1370.1 738.8,1367.3 739.2,1374.2 739.6,1369.7 740.0,1371.0 740.4,1370.1 740.8,1371.2 741.2,1375.5 741.6,1378.4 742.0,1372.9 742.4,1372.4 742.8,1368.4 743.2,1368.0 743.6,1368.5 744.0,1375.5 744.4,1373.2 744.8,1375.7 745.2,1373.8 745.6,1370.8 746.0,1367.8 746.4,1370.9 746.8,1367.0 747.2,1379.3 747.6,1373.0 748.0,1370.7 748.4,1379.2 748.8,1370.5 749.2,1373.9 749.6,1371.2 750.0,1373.0 750.4,1370.3 750.8,1373.3 751.2,1376.6 751.6,1366.7 752.0,1363.0 752.4,1376.0 752.8,1371.5 753.2,1373.9 753.6,1369.4 754.0,1376.1 754.4,1376.9 754.8,1365.4 755.2,1372.1 755.6,1366.9 756.0,1362.7 756.4,1367.4 756.8,1370.4 757.2,1362.4 757.6,1362.2 758.0,1371.8 758.4,1366.5 758.8,1367.5 759.2,1360.5 759.6,1361.9 760.0,1364.5 760.4,1364.1 760.8,1363.1 761.2,1368.7 761.6,1361.6 762.0,1353.1 762.4,1355.0 762.8,1357.8 763.2,1363.0 763.6,1352.7 764.0,1353.0 764.4,1353.6 764.8,1349.1 765.2,1347.2 765.6,1348.9 766.0,1354.0 766.4,1350.1 766.8,1344.7 767.2,1347.0 767.6,1336.6 768.0,1347.5 768.4,1344.8 768.8,1341.0 769.2,1329.3 769.6,1347.7 770.0,1319.6 770.4,1328.7 770.8,1327.8 771.2,1335.2 771.6,1322.1 772.0,1330.3 772.4,1327.1 772.8,1325.2 773.2,1330.3 773.6,1332.3 774.0,1325.8 774.4,1321.1 774.8,1309.3 775.2,1328.5 775.6,1317.8 776.0,1308.2 776.4,1318.0 776.8,1324.1 777.2,1314.9 777.6,1308.8 778.0,1326.5 778.4,1316.6 778.8,1313.7 779.2,1315.2 779.6,1295.2 780.0,1303.0 780.4,1298.3 780.8,1306.6 781.2,1286.0 781.6,1280.5 782.0,1270.4 782.4,1268.4 782.8,1267.6 783.2,1267.2 783.6,1263.6 784.0,1276.3 784.4,1270.9 784.8,1276.2 785.2,1286.1 785.6,1289.2 786.0,1290.5 786.4,1292.9 786.8,1311.0 787.2,1312.1 787.6,1330.8 788.0,1326.0 788.4,1323.9 788.8,1341.3 789.2,1351.2 789.6,1348.2 790.0,1353.3 790.4,1355.7 790.8,1365.2 791.2,1360.1 791.6,1359.9 792.0,1358.4 792.4,1354.7 792.8,1368.7 793.2,1368.0 793.6,1359.3 794.0,1366.3 794.4,1365.2 794.8,1362.4 795.2,1362.8 795.6,1367.3 796.0,1359.1 796.4,1361.9 796.8,1363.8 797.2,1364.0 797.6,1363.0 798.0,1364.7 798.4,1362.3 798.8,1359.7 799.2,1363.6 799.6,1360.8 800.0,1369.3 800.4,1356.5 800.8,1361.4 801.2,1365.2 801.6,1360.6 802.0,1360.1 802.4,1354.3 802.8,1362.2 803.2,1355.1 803.6,1359.5 804.0,1358.9 804.4,1352.0 804.8,1359.4 805.2,1355.2 805.6,1358.1 806.0,1359.8 806.4,1356.4 806.8,1347.7 807.2,1353.8 807.6,1342.6 808.0,1345.0 808.4,1355.8 808.8,1344.5 809.2,1350.0 809.6,1337.1 810.0,1334.0 810.4,1323.0 810.8,1328.3 811.2,1315.1 811.6,1311.3 812.0,1300.5 812.4,1289.7 812.8,1275.5 813.2,1258.6 813.6,1241.9 814.0,1219.4 814.4,1190.9 814.8,1182.6 815.2,1167.3 815.6,1136.9 816.0,1118.0 816.4,1082.4 816.8,1050.0 817.2,1027.2 817.6,1017.2 818.0,1000.0 818.4,987.8 818.8,989.5 819.2,984.1 819.6,1001.3 820.0,1012.2 820.4,1034.1 820.8,1062.5 821.2,1080.2 821.6,1114.1 822.0,1139.7 822.4,1153.6 822.8,1194.4 823.2,1197.7 823.6,1224.8 824.0,1248.3 824.4,1249.0 824.8,1282.1 825.2,1295.9 825.6,1300.7 826.0,1312.7 826.4,1320.8 826.8,1325.7 827.2,1338.7 827.6,1336.0 828.0,1342.0 828.4,1347.9 828.8,1353.4 829.2,1353.8 829.6,1346.5 830.0,1346.0 830.4,1356.8 830.8,1358.7 831.2,1355.4 831.6,1362.8 832.0,1361.7 832.4,1365.2 832.8,1371.4 833.2,1360.9 833.6,1366.1 834.0,1374.6 834.4,1370.2 834.8,1363.6 835.2,1369.5 835.6,1373.8 836.0,1377.7 836.4,1372.8 836.8,1375.1 837.2,1367.0 837.6,1370.7 838.0,1376.4 838.4,1368.9 838.8,1372.5 839.2,1366.5 839.6,1378.7 840.0,1373.3 840.4,1376.0 840.8,1369.1 841.2,1370.0 841.6,1381.0 842.0,1373.8 842.4,1373.4 842.8,1377.1 843.2,1377.5 843.6,1361.7 844.0,1372.8 844.4,1376.4 844.8,1376.4 845.2,1372.3 845.6,1375.3 846.0,1375.9 846.4,1377.7 846.8,1374.9 847.2,1374.6 847.6,1375.7 848.0,1377.6 848.4,1377.2 848.8,1376.3 849.2,1377.1 849.6,1377.9 850.0,1379.1 850.4,1379.4 850.8,1374.4 851.2,1381.4 851.6,1373.7 852.0,1380.3 852.4,1376.6 852.8,1380.6 853.2,1382.1 853.6,1373.4 854.0,1380.9 854.4,1380.0 854.8,1377.9 855.2,1380.5 855.6,1378.0 856.0,1379.9 856.4,1376.5 856.8,1382.0 857.2,1381.5 857.6,1382.0 858.0,1378.0 858.4,1385.3 858.8,1385.7 859.2,1379.8 859.6,1379.0 860.0,1379.0 860.4,1375.4 860.8,1383.3 861.2,1378.3 861.6,1374.7 862.0,1381.8 862.4,1380.5 862.8,1381.1 863.2,1382.2 863.6,1377.6 864.0,1381.0 864.4,1380.0 864.8,1381.9 865.2,1384.4 865.6,1381.0 866.0,1378.7 866.4,1384.5 866.8,1383.1 867.2,1380.6 867.6,1376.2 868.0,1378.8 868.4,1381.7 868.8,1382.8 869.2,1379.9 869.6,1382.6 870.0,1379.7 870.4,1380.3 870.8,1382.9 871.2,1380.8 871.6,1381.9 872.0,1383.9 872.4,1384.6 872.8,1380.0 873.2,1380.9 873.6,1378.0 874.0,1371.8 874.4,1382.4 874.8,1380.2 875.2,1376.6 875.6,1383.0 876.0,1379.3 876.4,1380.7 876.8,1382.6 877.2,1382.5 877.6,1381.2 878.0,1375.8 878.4,1382.7 878.8,1379.3 879.2,1376.8 879.6,1374.2 880.0,1383.8 880.4,1379.9 880.8,1379.0 881.2,1379.4 881.6,1375.8 882.0,1369.1 882.4,1379.0 882.8,1372.7 883.2,1367.7 883.6,1368.6 884.0,1366.8 884.4,1350.3 884.8,1348.4 885.2,1352.6 885.6,1347.5 886.0,1347.7 886.4,1352.5 886.8,1353.4 887.2,1350.1 887.6,1356.0 888.0,1355.5 888.4,1361.2 888.8,1360.7 889.2,1360.6 889.6,1369.1 890.0,1371.2 890.4,1375.0 890.8,1374.1 891.2,1378.3 891.6,1380.7 892.0,1378.4 892.4,1378.3 892.8,1380.7 893.2,1381.1 893.6,1383.0 894.0,1382.8 894.4,1387.0 894.8,1382.4 895.2,1378.9 895.6,1383.6 896.0,1381.7 896.4,1384.0 896.8,1386.4 897.2,1382.2 897.6,1383.6 898.0,1385.2 898.4,1381.7 898.8,1384.6 899.2,1385.5 899.6,1386.2 900.0,1386.9 900.4,1385.7 900.8,1385.3 901.2,1381.2 901.6,1378.1 902.0,1382.2 902.4,1387.9 902.8,1384.8 903.2,1379.3 903.6,1383.6 904.0,1385.5 904.4,1380.3 904.8,1386.0 905.2,1382.0 905.6,1387.1 906.0,1384.8 906.4,1392.0 906.8,1381.7 907.2,1385.4 907.6,1381.4 908.0,1387.5 908.4,1385.1 908.8,1387.0 909.2,1385.1 909.6,1382.1 910.0,1383.4 910.4,1382.0 910.8,1382.5 911.2,1385.2 911.6,1387.4 912.0,1386.9 912.4,1386.1 912.8,1383.6 913.2,1386.1 913.6,1383.0 914.0,1385.4 914.4,1386.9 914.8,1384.5 915.2,1383.9 915.6,1384.0 916.0,1386.4 916.4,1384.3 916.8,1381.7 917.2,1384.0 917.6,1382.6 918.0,1388.4 918.4,1385.0 918.8,1381.6 919.2,1385.6 919.6,1386.7 920.0,1385.9 920.4,1384.2 920.8,1385.4 921.2,1385.7 921.6,1387.3 922.0,1385.9 922.4,1390.2 922.8,1384.6 923.2,1388.5 923.6,1385.1 924.0,1381.2 924.4,1382.4 924.8,1380.9 925.2,1381.1 925.6,1387.8 926.0,1383.6 926.4,1386.5 926.8,1383.0 927.2,1385.1 927.6,1382.7 928.0,1387.1 928.4,1384.5 928.8,1384.1 929.2,1384.7 929.6,1394.1 930.0,1386.1 930.4,1387.0 930.8,1389.3 931.2,1383.6 931.6,1385.8 932.0,1380.9 932.4,1388.1 932.8,1385.7 933.2,1385.1 933.6,1384.7 934.0,1384.6 934.4,1384.0 934.8,1388.3 935.2,1386.7 935.6,1387.9 936.0,1384.4 936.4,1383.1 936.8,1388.2 937.2,1382.4 937.6,1383.7 938.0,1386.7 938.4,1387.6 938.8,1382.1 939.2,1384.5 939.6,1385.2 940.0,1384.8 940.4,1383.2 940.8,1386.7 941.2,1383.9 941.6,1384.6 942.0,1380.0 942.4,1384.9 942.8,1380.7 943.2,1386.7 943.6,1386.2 944.0,1384.0 944.4,1385.5 944.8,1385.4 945.2,1384.8 945.6,1386.0 946.0,1384.8 946.4,1384.0 946.8,1383.3 947.2,1388.9 947.6,1385.6 948.0,1385.1 948.4,1386.8 948.8,1384.2 949.2,1384.3 949.6,1391.2 950.0,1387.5 950.4,1386.7 950.8,1381.8 951.2,1385.3 951.6,1385.1 952.0,1386.2 952.4,1383.1 952.8,1382.8 953.2,1384.9 953.6,1383.1 954.0,1382.7 954.4,1385.0 954.8,1387.2 955.2,1385.4 955.6,1387.7 956.0,1382.9 956.4,1386.7 956.8,1385.1 957.2,1383.1 957.6,1384.2 958.0,1383.2 958.4,1384.6 958.8,1383.4 959.2,1388.0 959.6,1384.3 960.0,1381.9 960.4,1384.7 960.8,1386.0 961.2,1384.4 961.6,1387.1 962.0,1383.1 962.4,1383.2 962.8,1388.8 963.2,1385.1 963.6,1386.3 964.0,1386.2 964.4,1386.4 964.8,1385.2 965.2,1384.7 965.6,1387.6 966.0,1384.0 966.4,1385.4 966.8,1386.7 967.2,1384.2 967.6,1381.7 968.0,1392.0 968.4,1387.5 968.8,1385.7 969.2,1381.3 969.6,1386.6 970.0,1389.5 970.4,1381.6 970.8,1379.0 971.2,1384.6 971.6,1385.3 972.0,1386.9 972.4,1387.0 972.8,1385.3 973.2,1386.3 973.6,1385.9 974.0,1385.4 974.4,1385.0 974.8,1388.6 975.2,1386.7 975.6,1386.0 976.0,1384.1 976.4,1387.6 976.8,1383.5 977.2,1384.6 977.6,1385.4 978.0,1380.8 978.4,1384.3 978.8,1387.0 979.2,1386.9 979.6,1382.4 980.0,1383.2 980.4,1382.7 980.8,1384.6 981.2,1384.9 981.6,1381.5 982.0,1385.8 982.4,1385.2 982.8,1384.9 983.2,1383.6 983.6,1381.2 984.0,1381.1 984.4,1385.6 984.8,1385.5 985.2,1384.8 985.6,1382.4 986.0,1387.9 986.4,1387.6 986.8,1380.9 987.2,1386.0 987.6,1385.4 988.0,1379.3 988.4,1386.2 988.8,1386.5 989.2,1381.7 989.6,1385.4 990.0,1383.6 990.4,1383.9 990.8,1392.1 991.2,1387.7 991.6,1383.9 992.0,1384.4 992.4,1386.6 992.8,1380.2 993.2,1386.0 993.6,1384.5 994.0,1380.1 994.4,1386.7 994.8,1383.0 995.2,1386.8 995.6,1388.1 996.0,1382.2 996.4,1382.3 996.8,1385.0 997.2,1381.1 997.6,1386.6 998.0,1385.4 998.4,1387.2 998.8,1380.9 999.2,1385.5 999.6,1386.0 1000.0,1381.0 1000.4,1387.0 1000.8,1381.9 1001.2,1385.4 1001.6,1382.0 1002.0,1382.0 1002.4,1388.8 1002.8,1385.1 1003.2,1385.1 1003.6,1387.9 1004.0,1384.0 1004.4,1385.1 1004.8,1386.8 1005.2,1386.0 1005.6,1388.6 1006.0,1387.7 1006.4,1389.4 1006.8,1385.0 1007.2,1387.6 1007.6,1383.2 1008.0,1387.1 1008.4,1389.0 1008.8,1390.4 1009.2,1382.3 1009.6,1384.7 1010.0,1386.7 1010.4,1383.1 1010.8,1386.3 1011.2,1386.3 1011.6,1384.0 1012.0,1383.9 1012.4,1383.0 1012.8,1385.8 1013.2,1387.9 1013.6,1385.7 1014.0,1391.4 1014.4,1381.7 1014.8,1383.7 1015.2,1382.3 1015.6,1382.5 1016.0,1385.8 1016.4,1386.9 1016.8,1385.4 1017.2,1384.5 1017.6,1387.2 1018.0,1386.0 1018.4,1386.7 1018.8,1386.3 1019.2,1383.5 1019.6,1382.5 1020.0,1384.1 1020.4,1385.4 1020.8,1384.6 1021.2,1387.1 1021.6,1385.6 1022.0,1387.2 1022.4,1385.2 1022.8,1383.3 1023.2,1386.9 1023.6,1386.1 1024.0,1383.0 1024.4,1384.0 1024.8,1391.3 1025.2,1377.1 1025.6,1387.5 1026.0,1385.0 1026.4,1384.7 1026.8,1384.2 1027.2,1383.7 1027.6,1390.3 1028.0,1383.8 1028.4,1384.1 1028.8,1386.6 1029.2,1385.7 1029.6,1384.3 1030.0,1384.1 1030.4,1381.7 1030.8,1387.2 1031.2,1382.3 1031.6,1379.1 1032.0,1387.1 1032.4,1386.4 1032.8,1385.4 1033.2,1383.4 1033.6,1387.4 1034.0,1382.1 1034.4,1379.5 1034.8,1385.0 1035.2,1386.5 1035.6,1386.0 1036.0,1389.4 1036.4,1386.5 1036.8,1384.0 1037.2,1384.0 1037.6,1381.2 1038.0,1384.3 1038.4,1384.1 1038.8,1385.4 1039.2,1390.7 1039.6,1381.3 1040.0,1384.9 1040.4,1384.7 1040.8,1386.0 1041.2,1388.5 1041.6,1383.8 1042.0,1387.7 1042.4,1381.5 1042.8,1384.6 1043.2,1386.4 1043.6,1381.4 1044.0,1381.4 1044.4,1383.4 1044.8,1384.3 1045.2,1383.7 1045.6,1381.6 1046.0,1379.9 1046.4,1380.8 1046.8,1383.5 1047.2,1380.4 1047.6,1388.0 1048.0,1386.6 1048.4,1372.5 1048.8,1382.2 1049.2,1386.6 1049.6,1386.9 1050.0,1386.0 1050.4,1379.4 1050.8,1382.0 1051.2,1386.1 1051.6,1383.0 1052.0,1381.4 1052.4,1383.8 1052.8,1384.9 1053.2,1382.5 1053.6,1382.7 1054.0,1384.7 1054.4,1380.2 1054.8,1379.0 1055.2,1383.4 1055.6,1377.8 1056.0,1382.3 1056.4,1378.7 1056.8,1382.9 1057.2,1376.9 1057.6,1383.4 1058.0,1374.2 1058.4,1378.8 1058.8,1376.9 1059.2,1378.7 1059.6,1376.1 1060.0,1375.0 1060.4,1381.6 1060.8,1379.9 1061.2,1381.6 1061.6,1373.3 1062.0,1371.1 1062.4,1372.0 1062.8,1378.8 1063.2,1379.0 1063.6,1370.1 1064.0,1379.1 1064.4,1374.0 1064.8,1371.2 1065.2,1374.6 1065.6,1376.5 1066.0,1373.5 1066.4,1373.3 1066.8,1370.7 1067.2,1368.3 1067.6,1371.6 1068.0,1366.8 1068.4,1374.4 1068.8,1368.8 1069.2,1376.2 1069.6,1365.2 1070.0,1375.8 1070.4,1366.8 1070.8,1366.2 1071.2,1370.2 1071.6,1372.0 1072.0,1367.7 1072.4,1365.8 1072.8,1374.6 1073.2,1367.9 1073.6,1360.2 1074.0,1367.5 1074.4,1370.8 1074.8,1364.2 1075.2,1365.5 1075.6,1370.0 1076.0,1361.8 1076.4,1360.6 1076.8,1354.7 1077.2,1356.6 1077.6,1358.0 1078.0,1341.4 1078.4,1353.7 1078.8,1352.4 1079.2,1355.8 1079.6,1346.2 1080.0,1341.5 1080.4,1349.2 1080.8,1340.3 1081.2,1346.6 1081.6,1348.1 1082.0,1340.1 1082.4,1344.1 1082.8,1339.4 1083.2,1323.1 1083.6,1339.0 1084.0,1337.2 1084.4,1349.9 1084.8,1346.4 1085.2,1353.1 1085.6,1355.7 1086.0,1362.9 1086.4,1358.5 1086.8,1360.3 1087.2,1366.1 1087.6,1372.3 1088.0,1366.9 1088.4,1369.9 1088.8,1369.1 1089.2,1368.3 1089.6,1366.1 1090.0,1372.1 1090.4,1372.0 1090.8,1372.4 1091.2,1380.4 1091.6,1372.5 1092.0,1374.9 1092.4,1372.4 1092.8,1377.6 1093.2,1372.3 1093.6,1379.7 1094.0,1371.9 1094.4,1375.3 1094.8,1375.9 1095.2,1371.2 1095.6,1374.9 1096.0,1371.8 1096.4,1368.5 1096.8,1368.7 1097.2,1372.2 1097.6,1377.5 1098.0,1365.7 1098.4,1372.9 1098.8,1367.9 1099.2,1371.8 1099.6,1366.1 1100.0,1368.1 1100.4,1371.1 1100.8,1368.4 1101.2,1370.2 1101.6,1374.9 1102.0,1370.8 1102.4,1368.6 1102.8,1366.7 1103.2,1369.2 1103.6,1375.4 1104.0,1370.7 1104.4,1370.4 1104.8,1373.5 1105.2,1373.7 1105.6,1374.2 1106.0,1368.9 1106.4,1366.6 1106.8,1363.5 1107.2,1367.0 1107.6,1368.0 1108.0,1372.0 1108.4,1370.3 1108.8,1366.8 1109.2,1372.3 1109.6,1364.0 1110.0,1364.7 1110.4,1364.3 1110.8,1364.7 1111.2,1368.1 1111.6,1366.0 1112.0,1366.5 1112.4,1374.8 1112.8,1364.5 1113.2,1366.5 1113.6,1369.8 1114.0,1372.7 1114.4,1373.3 1114.8,1371.0 1115.2,1371.1 1115.6,1372.0 1116.0,1380.7 1116.4,1370.7 1116.8,1366.3 1117.2,1375.4 1117.6,1371.4 1118.0,1375.5 1118.4,1380.7 1118.8,1376.9 1119.2,1382.8 1119.6,1372.5 1120.0,1378.6 1120.4,1379.4 1120.8,1381.1 1121.2,1376.7 1121.6,1379.7 1122.0,1379.9 1122.4,1380.0 1122.8,1376.1 1123.2,1375.4 1123.6,1382.0 1124.0,1381.7 1124.4,1381.0 1124.8,1382.9 1125.2,1384.2 1125.6,1378.2 1126.0,1390.2 1126.4,1385.7 1126.8,1384.5 1127.2,1383.5 1127.6,1383.9 1128.0,1378.3 1128.4,1380.9 1128.8,1385.0 1129.2,1386.2 1129.6,1383.6 1130.0,1381.2 1130.4,1382.1 1130.8,1384.8 1131.2,1387.9 1131.6,1384.7 1132.0,1381.3 1132.4,1384.4 1132.8,1383.9 1133.2,1389.0 1133.6,1384.4 1134.0,1383.0 1134.4,1382.7 1134.8,1379.8 1135.2,1380.3 1135.6,1381.8 1136.0,1381.0 1136.4,1383.6 1136.8,1383.4 1137.2,1385.5 1137.6,1387.0 1138.0,1383.6 1138.4,1382.7 1138.8,1378.6 1139.2,1384.2 1139.6,1385.0 1140.0,1381.4 1140.4,1382.4 1140.8,1387.0 1141.2,1386.1 1141.6,1380.5 1142.0,1386.5 1142.4,1380.4 1142.8,1390.1 1143.2,1381.4 1143.6,1380.9 1144.0,1384.0 1144.4,1382.2 1144.8,1388.1 1145.2,1382.5 1145.6,1381.9 1146.0,1386.0 1146.4,1386.6 1146.8,1386.8 1147.2,1385.9 1147.6,1382.8 1148.0,1383.3 1148.4,1387.9 1148.8,1386.8 1149.2,1386.3 1149.6,1380.0 1150.0,1383.8 1150.4,1385.9 1150.8,1383.6 1151.2,1381.9 1151.6,1387.9 1152.0,1379.4 1152.4,1383.8 1152.8,1382.4 1153.2,1379.7 1153.6,1382.8 1154.0,1384.0 1154.4,1384.9 1154.8,1381.8 1155.2,1385.6 1155.6,1384.5 1156.0,1385.8 1156.4,1379.1 1156.8,1382.7 1157.2,1382.3 1157.6,1385.2 1158.0,1382.0 1158.4,1382.5 1158.8,1381.0 1159.2,1380.8 1159.6,1381.5 1160.0,1386.1 1160.4,1381.1 1160.8,1377.7 1161.2,1384.4 1161.6,1382.6 1162.0,1385.0 1162.4,1385.0 1162.8,1382.8 1163.2,1382.5 1163.6,1382.2 1164.0,1383.5 1164.4,1381.5 1164.8,1383.9 1165.2,1386.8 1165.6,1381.5 1166.0,1381.5 1166.4,1381.3 1166.8,1384.3 1167.2,1384.2 1167.6,1386.0 1168.0,1383.8 1168.4,1381.9 1168.8,1382.3 1169.2,1376.8 1169.6,1381.5 1170.0,1379.6 1170.4,1384.6 1170.8,1381.6 1171.2,1373.6 1171.6,1373.2 1172.0,1376.9 1172.4,1365.3 1172.8,1368.0 1173.2,1371.4 1173.6,1371.3 1174.0,1368.4 1174.4,1371.3 1174.8,1364.8 1175.2,1365.7 1175.6,1364.3 1176.0,1360.7 1176.4,1365.8 1176.8,1364.1 1177.2,1367.6 1177.6,1358.2 1178.0,1370.0 1178.4,1368.9 1178.8,1370.0 1179.2,1373.7 1179.6,1373.2 1180.0,1379.0 1180.4,1381.1 1180.8,1380.9 1181.2,1375.1 1181.6,1381.0 1182.0,1380.7 1182.4,1377.8 1182.8,1380.8 1183.2,1385.5 1183.6,1384.7 1184.0,1381.8 1184.4,1383.6 1184.8,1386.1 1185.2,1383.3 1185.6,1387.8 1186.0,1382.2 1186.4,1386.0 1186.8,1385.9 1187.2,1384.7 1187.6,1385.1 1188.0,1385.7 1188.4,1379.2 1188.8,1385.7 1189.2,1387.3 1189.6,1385.6 1190.0,1387.4 1190.4,1382.0 1190.8,1384.7 1191.2,1385.6 1191.6,1384.3 1192.0,1387.7 1192.4,1386.1 1192.8,1383.8 1193.2,1380.9 1193.6,1386.9 1194.0,1384.1 1194.4,1386.5 1194.8,1386.0 1195.2,1386.0 1195.6,1382.3 1196.0,1388.1 1196.4,1386.7 1196.8,1385.2 1197.2,1386.1 1197.6,1386.0 1198.0,1384.6 1198.4,1384.0 1198.8,1385.6 1199.2,1384.0 1199.6,1384.3 1200.0,1382.8 1200.4,1384.8 1200.8,1387.7 1201.2,1385.9 1201.6,1385.6 1202.0,1384.8 1202.4,1384.6 1202.8,1382.2 1203.2,1389.2 1203.6,1383.9 1204.0,1382.2 1204.4,1386.5 1204.8,1386.2 1205.2,1384.5 1205.6,1382.4 1206.0,1382.6 1206.4,1389.1 1206.8,1385.4 1207.2,1384.3 1207.6,1389.8 1208.0,1384.5 1208.4,1383.7 1208.8,1387.0 1209.2,1386.6 1209.6,1389.2 1210.0,1382.4 1210.4,1386.5 1210.8,1382.1 1211.2,1386.9 1211.6,1384.4 1212.0,1384.9 1212.4,1384.3 1212.8,1387.7 1213.2,1389.5 1213.6,1385.8 1214.0,1385.4 1214.4,1384.9 1214.8,1387.1 1215.2,1379.2 1215.6,1393.7 1216.0,1385.5 1216.4,1389.7 1216.8,1386.4 1217.2,1383.1 1217.6,1382.7 1218.0,1385.2 1218.4,1384.5 1218.8,1385.6 1219.2,1383.6 1219.6,1391.2 1220.0,1390.7 1220.4,1382.3 1220.8,1387.2 1221.2,1388.7 1221.6,1385.5 1222.0,1385.7 1222.4,1388.5 1222.8,1380.3 1223.2,1383.6 1223.6,1388.9 1224.0,1385.2 1224.4,1390.2 1224.8,1384.2 1225.2,1381.4 1225.6,1386.5 1226.0,1388.9 1226.4,1387.4 1226.8,1386.7 1227.2,1384.4 1227.6,1388.3 1228.0,1382.4 1228.4,1388.0 1228.8,1383.8 1229.2,1385.1 1229.6,1383.6 1230.0,1384.5 1230.4,1389.5 1230.8,1383.9 1231.2,1379.2 1231.6,1384.7 1232.0,1388.6 1232.4,1383.6 1232.8,1386.5 1233.2,1388.4 1233.6,1391.2 1234.0,1384.0 1234.4,1384.6 1234.8,1386.4 1235.2,1389.6 1235.6,1384.3 1236.0,1388.2 1236.4,1385.2 1236.8,1384.3 1237.2,1383.1 1237.6,1386.7 1238.0,1388.5 1238.4,1386.2 1238.8,1381.9 1239.2,1385.2 1239.6,1388.5 1240.0,1388.3 1240.4,1387.0 1240.8,1389.5 1241.2,1383.7 1241.6,1383.8 1242.0,1391.4 1242.4,1387.8 1242.8,1385.9 1243.2,1385.3 1243.6,1380.9 1244.0,1388.1 1244.4,1381.9 1244.8,1382.1 1245.2,1386.2 1245.6,1389.5 1246.0,1385.5 1246.4,1387.1 1246.8,1385.4 1247.2,1387.1 1247.6,1382.7 1248.0,1390.8 1248.4,1384.2 1248.8,1387.5 1249.2,1381.9 1249.6,1390.1 1250.0,1387.2 1250.4,1390.6 1250.8,1384.8 1251.2,1388.5 1251.6,1385.9 1252.0,1386.1 1252.4,1389.0 1252.8,1384.3 1253.2,1387.8 1253.6,1390.4 1254.0,1390.0 1254.4,1388.5 1254.8,1386.9 1255.2,1384.1 1255.6,1389.3 1256.0,1384.7 1256.4,1388.8 1256.8,1385.5 1257.2,1386.2 1257.6,1386.2 1258.0,1387.5 1258.4,1385.2 1258.8,1386.5 1259.2,1385.0 1259.6,1387.3 1260.0,1386.7 1260.4,1387.0 1260.8,1384.2 1261.2,1386.8 1261.6,1386.2 1262.0,1387.3 1262.4,1386.1 1262.8,1383.9 1263.2,1387.6 1263.6,1384.5 1264.0,1386.6 1264.4,1381.4 1264.8,1387.0 1265.2,1387.4 1265.6,1383.8 1266.0,1387.1 1266.4,1385.0 1266.8,1388.9 1267.2,1387.2 1267.6,1383.0 1268.0,1385.3 1268.4,1381.7 1268.8,1384.9 1269.2,1386.8 1269.6,1387.4 1270.0,1385.3 1270.4,1385.0 1270.8,1385.8 1271.2,1384.0 1271.6,1386.1 1272.0,1387.9 1272.4,1385.7 1272.8,1387.2 1273.2,1383.3 1273.6,1383.9 1274.0,1385.7 1274.4,1389.6 1274.8,1387.1 1275.2,1388.7 1275.6,1384.6 1276.0,1387.3 1276.4,1380.0 1276.8,1385.2 1277.2,1378.3 1277.6,1386.3 1278.0,1384.0 1278.4,1385.3 1278.8,1382.6 1279.2,1379.2 1279.6,1377.3 1280.0,1378.8 1280.4,1381.5 1280.8,1377.0 1281.2,1370.7 1281.6,1368.1 1282.0,1364.6 1282.4,1363.5 1282.8,1360.8 1283.2,1355.5 1283.6,1354.3 1284.0,1342.8 1284.4,1356.0 1284.8,1346.2 1285.2,1351.0 1285.6,1342.9 1286.0,1339.8 1286.4,1341.7 1286.8,1343.5 1287.2,1340.5 1287.6,1344.2 1288.0,1358.8 1288.4,1356.5 1288.8,1352.2 1289.2,1360.2 1289.6,1357.0 1290.0,1369.7 1290.4,1362.2 1290.8,1372.4 1291.2,1371.3 1291.6,1373.4 1292.0,1372.3 1292.4,1375.8 1292.8,1375.7 1293.2,1376.6 1293.6,1381.5 1294.0,1388.1 1294.4,1380.8 1294.8,1385.0 1295.2,1382.8 1295.6,1381.4 1296.0,1386.9 1296.4,1385.4 1296.8,1386.8 1297.2,1384.5 1297.6,1384.7 1298.0,1382.5 1298.4,1384.0 1298.8,1388.7 1299.2,1379.5 1299.6,1385.8 1300.0,1388.4 1300.4,1386.9 1300.8,1387.2 1301.2,1384.6 1301.6,1387.8 1302.0,1387.9 1302.4,1385.3 1302.8,1389.2 1303.2,1384.3 1303.6,1379.8 1304.0,1385.5 1304.4,1385.3 1304.8,1383.6 1305.2,1384.6 1305.6,1384.4 1306.0,1381.5 1306.4,1388.4 1306.8,1385.7 1307.2,1391.7 1307.6,1385.7 1308.0,1392.9 1308.4,1382.4 1308.8,1388.0 1309.2,1383.4 1309.6,1387.0 1310.0,1387.9 1310.4,1387.5 1310.8,1384.0 1311.2,1384.1 1311.6,1387.5 1312.0,1388.5 1312.4,1389.1 1312.8,1385.8 1313.2,1385.7 1313.6,1389.9 1314.0,1384.6 1314.4,1387.6 1314.8,1385.2 1315.2,1382.8 1315.6,1383.5 1316.0,1386.9 1316.4,1386.4 1316.8,1387.0 1317.2,1385.2 1317.6,1384.8 1318.0,1386.6 1318.4,1385.6 1318.8,1382.4 1319.2,1385.0 1319.6,1389.7 1320.0,1384.3 1320.4,1387.2 1320.8,1385.8 1321.2,1387.6 1321.6,1384.1 1322.0,1383.2 1322.4,1386.9 1322.8,1384.4 1323.2,1385.9 1323.6,1385.3 1324.0,1388.1 1324.4,1386.5 1324.8,1386.3 1325.2,1383.8 1325.6,1382.5 1326.0,1384.1 1326.4,1387.8 1326.8,1387.5 1327.2,1387.3 1327.6,1385.1 1328.0,1383.8 1328.4,1388.5 1328.8,1386.4 1329.2,1387.2 1329.6,1384.0 1330.0,1384.5 1330.4,1387.4 1330.8,1387.6 1331.2,1383.9 1331.6,1386.6 1332.0,1383.5 1332.4,1388.7 1332.8,1387.5 1333.2,1391.0 1333.6,1389.3 1334.0,1384.6 1334.4,1386.5 1334.8,1385.0 1335.2,1386.3 1335.6,1387.7 1336.0,1386.0 1336.4,1386.2 1336.8,1383.1 1337.2,1387.3 1337.6,1386.0 1338.0,1387.4 1338.4,1388.3 1338.8,1386.1 1339.2,1387.5 1339.6,1384.7 1340.0,1388.1 1340.4,1386.0 1340.8,1384.7 1341.2,1385.5 1341.6,1382.9 1342.0,1384.6 1342.4,1385.1 1342.8,1386.1 1343.2,1385.8 1343.6,1384.6 1344.0,1385.6 1344.4,1381.3 1344.8,1386.2 1345.2,1387.2 1345.6,1387.6 1346.0,1388.3 1346.4,1390.2 1346.8,1385.7 1347.2,1384.8 1347.6,1384.8 1348.0,1386.1 1348.4,1388.7 1348.8,1382.0 1349.2,1384.6 1349.6,1386.2 1350.0,1383.3 1350.4,1386.3 1350.8,1382.1 1351.2,1384.2 1351.6,1380.8 1352.0,1385.0 1352.4,1381.9 1352.8,1384.9 1353.2,1381.8 1353.6,1379.2 1354.0,1376.3 1354.4,1380.2 1354.8,1378.8 1355.2,1376.9 1355.6,1375.6 1356.0,1375.7 1356.4,1377.7 1356.8,1372.4 1357.2,1375.6 1357.6,1369.7 1358.0,1377.7 1358.4,1376.5 1358.8,1375.0 1359.2,1376.2 1359.6,1373.2 1360.0,1379.6 1360.4,1379.7 1360.8,1377.6 1361.2,1381.0 1361.6,1384.4 1362.0,1384.0 1362.4,1384.7 1362.8,1383.2 1363.2,1386.8 1363.6,1385.0 1364.0,1387.2 1364.4,1390.4 1364.8,1381.2 1365.2,1384.5 1365.6,1385.7 1366.0,1384.2 1366.4,1388.0 1366.8,1385.1 1367.2,1384.5 1367.6,1387.5 1368.0,1386.8 1368.4,1378.9 1368.8,1387.8 1369.2,1387.0 1369.6,1389.1 1370.0,1386.9 1370.4,1388.2 1370.8,1386.9 1371.2,1386.8 1371.6,1382.7 1372.0,1386.1 1372.4,1386.9 1372.8,1383.6 1373.2,1383.1 1373.6,1385.4 1374.0,1386.7 1374.4,1382.5 1374.8,1386.8 1375.2,1388.2 1375.6,1385.6 1376.0,1386.6 1376.4,1394.1 1376.8,1384.7 1377.2,1387.4 1377.6,1387.1 1378.0,1383.5 1378.4,1387.2 1378.8,1388.0 1379.2,1383.8 1379.6,1387.9 1380.0,1385.5 1380.4,1383.2 1380.8,1383.9 1381.2,1384.2 1381.6,1387.2 1382.0,1381.7 1382.4,1385.2 1382.8,1383.3 1383.2,1386.1 1383.6,1383.3 1384.0,1384.5 1384.4,1387.3 1384.8,1387.4 1385.2,1384.8 1385.6,1385.8 1386.0,1387.0 1386.4,1388.8 1386.8,1388.4 1387.2,1388.6 1387.6,1385.4 1388.0,1382.8 1388.4,1385.0 1388.8,1388.2 1389.2,1387.5 1389.6,1387.4 1390.0,1386.9 1390.4,1382.5 1390.8,1383.9 1391.2,1385.3 1391.6,1382.4 1392.0,1383.3 1392.4,1377.1 1392.8,1375.5 1393.2,1384.3 1393.6,1379.8 1394.0,1378.7 1394.4,1381.0 1394.8,1383.3 1395.2,1385.4 1395.6,1368.7 1396.0,1378.2 1396.4,1380.9 1396.8,1372.7 1397.2,1374.1 1397.6,1379.7 1398.0,1386.3 1398.4,1384.4 1398.8,1388.1 1399.2,1383.8 1399.6,1386.2 1400.0,1387.7 1400.4,1385.4 1400.8,1384.5 1401.2,1385.0 1401.6,1376.2 1402.0,1382.1 1402.4,1380.6 1402.8,1383.0 1403.2,1386.5 1403.6,1385.8 1404.0,1380.2 1404.4,1386.0 1404.8,1386.5 1405.2,1385.1 1405.6,1386.2 1406.0,1385.9 1406.4,1380.4 1406.8,1383.8 1407.2,1383.5 1407.6,1381.2 1408.0,1383.9 1408.4,1381.9 1408.8,1383.6 1409.2,1381.6 1409.6,1386.2 1410.0,1389.0 1410.4,1381.9 1410.8,1383.3 1411.2,1383.1 1411.6,1384.0 1412.0,1382.3 1412.4,1376.7 1412.8,1383.3 1413.2,1381.9 1413.6,1379.2 1414.0,1381.3 1414.4,1380.3 1414.8,1382.1 1415.2,1380.4 1415.6,1377.1 1416.0,1381.1 1416.4,1381.3 1416.8,1380.5 1417.2,1383.6 1417.6,1374.6 1418.0,1377.6 1418.4,1384.6 1418.8,1379.7 1419.2,1383.7 1419.6,1375.7 1420.0,1380.3 1420.4,1383.6 1420.8,1382.1 1421.2,1378.3 1421.6,1375.9 1422.0,1375.6 1422.4,1376.7 1422.8,1374.0 1423.2,1374.5 1423.6,1373.4 1424.0,1373.2 1424.4,1377.0 1424.8,1370.2 1425.2,1376.3 1425.6,1377.9 1426.0,1372.3 1426.4,1372.2 1426.8,1375.1 1427.2,1374.7 1427.6,1377.9 1428.0,1367.8 1428.4,1374.2 1428.8,1379.0 1429.2,1374.4 1429.6,1380.1 1430.0,1381.4 1430.4,1371.9 1430.8,1378.8 1431.2,1375.3 1431.6,1373.4 1432.0,1372.4 1432.4,1372.5 1432.8,1370.2 1433.2,1372.9 1433.6,1377.0 1434.0,1378.3 1434.4,1373.0 1434.8,1376.4 1435.2,1376.4 1435.6,1367.1 1436.0,1377.4 1436.4,1370.7 1436.8,1370.6 1437.2,1376.7 1437.6,1378.7 1438.0,1367.3 1438.4,1366.2 1438.8,1363.5 1439.2,1362.4 1439.6,1359.8 1440.0,1354.3 1440.4,1346.7 1440.8,1360.0 1441.2,1345.2 1441.6,1341.0 1442.0,1348.0 1442.4,1340.5 1442.8,1348.6 1443.2,1353.7 1443.6,1351.3 1444.0,1346.6 1444.4,1354.8 1444.8,1347.5 1445.2,1351.9 1445.6,1361.9 1446.0,1363.5 1446.4,1373.0 1446.8,1369.4 1447.2,1366.6 1447.6,1375.2 1448.0,1375.9 1448.4,1379.0 1448.8,1376.3 1449.2,1372.5 1449.6,1381.9 1450.0,1384.4 1450.4,1384.1 1450.8,1385.4 1451.2,1380.3 1451.6,1383.7 1452.0,1385.0 1452.4,1386.9 1452.8,1385.4 1453.2,1384.4 1453.6,1384.8 1454.0,1385.0 1454.4,1382.1 1454.8,1385.5 1455.2,1387.3 1455.6,1380.1 1456.0,1381.5 1456.4,1385.7 1456.8,1382.5 1457.2,1388.2 1457.6,1387.1 1458.0,1387.5 1458.4,1384.5 1458.8,1381.8 1459.2,1383.8 1459.6,1385.3 1460.0,1382.9 1460.4,1384.0 1460.8,1390.0 1461.2,1383.4 1461.6,1387.4 1462.0,1382.3 1462.4,1386.9 1462.8,1388.1 1463.2,1387.3 1463.6,1388.9 1464.0,1390.2 1464.4,1383.5 1464.8,1387.0 1465.2,1387.6 1465.6,1387.4 1466.0,1389.9 1466.4,1387.1 1466.8,1389.1 1467.2,1389.0 1467.6,1386.9 1468.0,1387.8 1468.4,1385.0 1468.8,1387.3 1469.2,1387.1 1469.6,1386.4 1470.0,1385.7 1470.4,1388.7 1470.8,1386.5 1471.2,1391.5 1471.6,1389.5 1472.0,1388.3 1472.4,1385.6 1472.8,1388.7 1473.2,1387.1 1473.6,1387.0 1474.0,1384.6 1474.4,1388.0 1474.8,1387.4 1475.2,1385.9 1475.6,1385.5 1476.0,1386.3 1476.4,1384.2 1476.8,1385.8 1477.2,1389.7 1477.6,1385.6 1478.0,1391.7 1478.4,1384.2 1478.8,1389.2 1479.2,1389.2 1479.6,1389.3 1480.0,1388.1 1480.4,1383.6 1480.8,1389.3 1481.2,1389.2 1481.6,1387.0 1482.0,1382.1 1482.4,1389.2 1482.8,1385.1 1483.2,1386.4 1483.6,1389.5 1484.0,1389.7 1484.4,1387.8 1484.8,1385.9 1485.2,1390.5 1485.6,1389.4 1486.0,1386.7 1486.4,1385.0 1486.8,1387.6 1487.2,1384.3 1487.6,1390.6 1488.0,1388.1 1488.4,1386.3 1488.8,1387.9 1489.2,1383.6 1489.6,1386.9 1490.0,1385.7 1490.4,1383.8 1490.8,1385.7 1491.2,1387.7 1491.6,1384.1 1492.0,1386.6 1492.4,1384.0 1492.8,1387.4 1493.2,1383.4 1493.6,1388.5 1494.0,1388.4 1494.4,1388.7 1494.8,1390.7 1495.2,1387.4 1495.6,1380.1 1496.0,1388.2 1496.4,1386.0 1496.8,1383.1 1497.2,1384.5 1497.6,1384.5 1498.0,1387.4 1498.4,1385.7 1498.8,1386.2 1499.2,1388.1 1499.6,1387.3 1500.0,1391.0 1500.4,1386.8 1500.8,1385.0 1501.2,1389.5 1501.6,1386.0 1502.0,1386.7 1502.4,1388.9 1502.8,1387.2 1503.2,1388.2 1503.6,1385.5 1504.0,1386.1 1504.4,1388.0 1504.8,1385.4 1505.2,1385.6 1505.6,1386.3 1506.0,1389.7 1506.4,1389.3 1506.8,1386.5 1507.2,1386.0 1507.6,1384.0 1508.0,1388.4 1508.4,1386.1 1508.8,1387.1 1509.2,1381.2 1509.6,1386.2 1510.0,1384.3 1510.4,1385.5 1510.8,1385.8 1511.2,1382.9 1511.6,1381.5 1512.0,1384.0 1512.4,1378.5 1512.8,1385.4 1513.2,1382.1 1513.6,1377.8 1514.0,1384.4 1514.4,1383.4 1514.8,1384.9 1515.2,1383.4 1515.6,1382.1 1516.0,1380.7 1516.4,1378.0 1516.8,1383.4 1517.2,1383.2 1517.6,1380.8 1518.0,1383.8 1518.4,1380.3 1518.8,1385.7 1519.2,1383.8 1519.6,1384.4 1520.0,1376.0 1520.4,1386.7 1520.8,1385.2 1521.2,1383.7 1521.6,1386.2 1522.0,1385.1 1522.4,1388.2 1522.8,1382.7 1523.2,1383.7 1523.6,1390.7 1524.0,1385.5 1524.4,1387.7 1524.8,1381.1 1525.2,1387.3 1525.6,1392.4 1526.0,1382.9 1526.4,1388.2 1526.8,1387.2 1527.2,1387.2 1527.6,1385.5 1528.0,1385.2 1528.4,1390.0 1528.8,1388.2 1529.2,1384.8 1529.6,1387.2 1530.0,1384.5 1530.4,1393.1 1530.8,1388.0 1531.2,1383.6 1531.6,1389.1 1532.0,1388.5 1532.4,1387.9 1532.8,1387.6 1533.2,1386.1 1533.6,1386.9 1534.0,1383.2 1534.4,1389.9 1534.8,1391.3 1535.2,1388.2 1535.6,1388.5 1536.0,1384.4 1536.4,1386.3 1536.8,1384.3 1537.2,1384.5 1537.6,1388.3 1538.0,1390.0 1538.4,1387.0 1538.8,1392.2 1539.2,1388.8 1539.6,1382.4 1540.0,1386.2 1540.4,1389.7 1540.8,1387.3 1541.2,1389.1 1541.6,1383.4 1542.0,1389.5 1542.4,1384.3 1542.8,1387.5 1543.2,1391.1 1543.6,1382.6 1544.0,1386.1 1544.4,1388.1 1544.8,1384.6 1545.2,1384.2 1545.6,1388.3 1546.0,1382.7 1546.4,1383.1 1546.8,1389.6 1547.2,1382.5 1547.6,1386.1 1548.0,1387.4 1548.4,1384.2 1548.8,1381.3 1549.2,1385.4 1549.6,1380.2 1550.0,1387.6 1550.4,1387.2 1550.8,1377.1 1551.2,1380.7 1551.6,1375.6 1552.0,1377.7 1552.4,1374.2 1552.8,1370.1 1553.2,1373.9 1553.6,1364.2 1554.0,1370.1 1554.4,1366.7 1554.8,1362.8 1555.2,1368.5 1555.6,1363.9 1556.0,1361.5 1556.4,1361.9 1556.8,1361.6 1557.2,1366.8 1557.6,1362.0 1558.0,1351.7 1558.4,1351.8 1558.8,1361.4 1559.2,1361.7 1559.6,1366.6 1560.0,1359.6 1560.4,1366.5 1560.8,1375.4 1561.2,1366.2 1561.6,1374.9 1562.0,1371.9 1562.4,1377.4 1562.8,1376.3 1563.2,1373.6 1563.6,1377.4 1564.0,1374.6 1564.4,1370.0 1564.8,1375.7 1565.2,1375.8 1565.6,1373.7 1566.0,1375.0 1566.4,1372.7 1566.8,1375.3 1567.2,1373.3 1567.6,1369.0 1568.0,1373.4 1568.4,1379.9 1568.8,1377.3 1569.2,1379.7 1569.6,1374.7 1570.0,1373.4 1570.4,1371.2 1570.8,1375.4 1571.2,1378.3 1571.6,1377.5 1572.0,1377.0 1572.4,1372.4 1572.8,1374.1 1573.2,1370.3 1573.6,1375.2 1574.0,1373.4 1574.4,1367.6 1574.8,1369.0 1575.2,1357.7 1575.6,1367.9 1576.0,1359.5 1576.4,1359.2 1576.8,1361.5 1577.2,1359.9 1577.6,1351.7 1578.0,1361.3 1578.4,1362.6 1578.8,1359.4 1579.2,1358.9 1579.6,1353.4 1580.0,1361.2 1580.4,1351.9 1580.8,1352.9 1581.2,1360.9 1581.6,1363.6 1582.0,1361.2 1582.4,1374.3 1582.8,1363.8 1583.2,1363.9 1583.6,1372.1 1584.0,1380.8 1584.4,1379.4 1584.8,1379.5 1585.2,1380.2 1585.6,1382.5 1586.0,1382.8 1586.4,1383.0 1586.8,1383.2 1587.2,1380.2 1587.6,1386.9 1588.0,1384.0 1588.4,1386.2 1588.8,1386.8 1589.2,1388.2 1589.6,1384.4 1590.0,1388.1 1590.4,1388.3 1590.8,1386.4 1591.2,1386.6 1591.6,1387.2 1592.0,1384.8 1592.4,1386.1 1592.8,1384.8 1593.2,1389.6 1593.6,1385.7 1594.0,1385.2 1594.4,1387.7 1594.8,1388.5 1595.2,1386.7 1595.6,1385.6 1596.0,1384.1 1596.4,1389.3 1596.8,1384.4 1597.2,1389.4 1597.6,1384.3 1598.0,1389.0 1598.4,1386.9 1598.8,1387.3 1599.2,1389.2 1599.6,1390.6 1600.0,1391.9 1600.4,1390.5 1600.8,1389.2 1601.2,1385.4 1601.6,1387.2 1602.0,1388.3 1602.4,1386.9 1602.8,1389.1 1603.2,1387.6 1603.6,1391.4 1604.0,1387.8 1604.4,1385.8 1604.8,1387.2 1605.2,1386.8 1605.6,1389.5 1606.0,1390.8 1606.4,1390.1 1606.8,1390.1 1607.2,1387.0 1607.6,1386.2 1608.0,1386.8 1608.4,1388.3 1608.8,1387.7 1609.2,1388.8 1609.6,1390.2 1610.0,1388.5 1610.4,1391.5 1610.8,1382.9 1611.2,1389.6 1611.6,1388.3 1612.0,1390.3 1612.4,1388.4 1612.8,1387.5 1613.2,1388.2 1613.6,1386.9 1614.0,1386.5 1614.4,1389.9 1614.8,1387.4 1615.2,1390.7 1615.6,1393.1 1616.0,1387.8 1616.4,1390.1 1616.8,1388.4 1617.2,1385.1 1617.6,1388.4 1618.0,1391.2 1618.4,1386.4 1618.8,1388.3 1619.2,1388.3 1619.6,1386.0 1620.0,1389.2 1620.4,1388.3 1620.8,1389.6 1621.2,1388.7 1621.6,1386.1 1622.0,1388.9 1622.4,1389.7 1622.8,1388.2 1623.2,1389.6 1623.6,1389.6 1624.0,1384.8 1624.4,1389.8 1624.8,1385.0 1625.2,1386.3 1625.6,1388.4 1626.0,1386.9 1626.4,1387.2 1626.8,1390.6 1627.2,1386.7 1627.6,1390.7 1628.0,1391.9 1628.4,1391.1 1628.8,1386.7 1629.2,1378.2 1629.6,1388.8 1630.0,1392.4 1630.4,1388.3 1630.8,1387.7 1631.2,1388.5 1631.6,1390.0 1632.0,1390.8 1632.4,1388.7 1632.8,1388.5 1633.2,1389.6 1633.6,1388.8 1634.0,1388.0 1634.4,1385.6 1634.8,1388.9 1635.2,1387.7 1635.6,1388.3 1636.0,1388.2 1636.4,1387.2 1636.8,1389.7" fill="none" stroke="#0000ff" stroke-width="2.6" stroke-linejoin="round"/>
<polyline points="206.0,2080.5 206.4,2059.7 206.8,2073.1 207.2,2068.7 207.6,2069.2 208.0,2070.4 208.4,2062.2 208.8,2076.7 209.2,2067.5 209.6,2086.5 210.0,2072.5 210.4,2069.9 210.8,2070.3 211.2,2068.6 211.6,2066.9 212.0,2069.9 212.4,2073.9 212.8,2070.7 213.2,2076.1 213.6,2070.9 214.0,2072.0 214.4,2078.8 214.8,2074.4 215.2,2069.7 215.6,2071.2 216.0,2074.5 216.4,2080.8 216.8,2071.0 217.2,2071.1 217.6,2076.7 218.0,2068.3 218.4,2071.0 218.8,2076.3 219.2,2075.0 219.6,2072.9 220.0,2075.5 220.4,2063.3 220.8,2077.1 221.2,2068.4 221.6,2065.3 222.0,2073.9 222.4,2075.8 222.8,2070.8 223.2,2068.1 223.6,2073.0 224.0,2072.7 224.4,2079.1 224.8,2076.3 225.2,2073.9 225.6,2078.0 226.0,2072.2 226.4,2069.1 226.8,2075.8 227.2,2075.8 227.6,2072.3 228.0,2069.9 228.4,2074.4 228.8,2062.5 229.2,2076.5 229.6,2075.6 230.0,2066.3 230.4,2073.8 230.8,2069.4 231.2,2084.3 231.6,2064.8 232.0,2069.7 232.4,2076.9 232.8,2078.8 233.2,2064.4 233.6,2071.7 234.0,2075.3 234.4,2071.3 234.8,2080.9 235.2,2068.9 235.6,2075.6 236.0,2069.6 236.4,2080.3 236.8,2074.1 237.2,2072.6 237.6,2066.9 238.0,2081.6 238.4,2077.6 238.8,2077.7 239.2,2079.4 239.6,2076.0 240.0,2071.8 240.4,2071.1 240.8,2071.2 241.2,2080.5 241.6,2068.4 242.0,2072.2 242.4,2073.4 242.8,2075.8 243.2,2077.3 243.6,2069.6 244.0,2067.5 244.4,2075.0 244.8,2080.2 245.2,2078.3 245.6,2076.0 246.0,2073.8 246.4,2076.4 246.8,2074.2 247.2,2078.8 247.6,2071.9 248.0,2075.9 248.4,2074.9 248.8,2077.7 249.2,2076.4 249.6,2086.3 250.0,2081.9 250.4,2081.9 250.8,2067.0 251.2,2074.2 251.6,2073.2 252.0,2078.0 252.4,2066.2 252.8,2080.8 253.2,2080.4 253.6,2070.4 254.0,2071.9 254.4,2072.6 254.8,2076.2 255.2,2078.8 255.6,2084.7 256.0,2075.3 256.4,2079.4 256.8,2076.9 257.2,2083.7 257.6,2079.4 258.0,2082.1 258.4,2071.9 258.8,2075.7 259.2,2073.1 259.6,2082.8 260.0,2079.3 260.4,2075.4 260.8,2074.8 261.2,2078.7 261.6,2073.8 262.0,2072.9 262.4,2078.8 262.8,2087.1 263.2,2075.9 263.6,2074.7 264.0,2072.2 264.4,2071.5 264.8,2079.2 265.2,2080.6 265.6,2077.2 266.0,2078.6 266.4,2077.7 266.8,2077.9 267.2,2071.0 267.6,2075.5 268.0,2077.9 268.4,2074.2 268.8,2075.5 269.2,2074.2 269.6,2076.2 270.0,2081.1 270.4,2076.0 270.8,2077.1 271.2,2081.1 271.6,2080.4 272.0,2084.7 272.4,2069.3 272.8,2081.4 273.2,2076.0 273.6,2078.5 274.0,2081.4 274.4,2082.5 274.8,2082.3 275.2,2078.8 275.6,2084.7 276.0,2077.1 276.4,2077.7 276.8,2081.5 277.2,2076.1 277.6,2087.1 278.0,2082.5 278.4,2087.2 278.8,2078.4 279.2,2077.0 279.6,2079.3 280.0,2081.6 280.4,2076.3 280.8,2080.2 281.2,2078.7 281.6,2085.3 282.0,2076.2 282.4,2083.1 282.8,2076.3 283.2,2075.1 283.6,2076.2 284.0,2074.3 284.4,2079.7 284.8,2083.2 285.2,2079.8 285.6,2081.7 286.0,2085.7 286.4,2080.4 286.8,2080.1 287.2,2078.3 287.6,2073.0 288.0,2082.5 288.4,2072.6 288.8,2082.1 289.2,2079.5 289.6,2084.1 290.0,2079.4 290.4,2076.5 290.8,2081.1 291.2,2077.6 291.6,2079.1 292.0,2080.0 292.4,2079.4 292.8,2072.0 293.2,2076.7 293.6,2079.3 294.0,2071.7 294.4,2079.5 294.8,2075.5 295.2,2084.6 295.6,2085.2 296.0,2072.7 296.4,2076.0 296.8,2079.9 297.2,2076.3 297.6,2082.5 298.0,2078.7 298.4,2073.7 298.8,2079.5 299.2,2080.0 299.6,2081.1 300.0,2075.9 300.4,2083.1 300.8,2083.6 301.2,2076.3 301.6,2078.2 302.0,2080.5 302.4,2078.7 302.8,2087.6 303.2,2081.7 303.6,2077.0 304.0,2077.9 304.4,2080.8 304.8,2089.8 305.2,2080.3 305.6,2081.5 306.0,2083.0 306.4,2081.0 306.8,2089.9 307.2,2079.1 307.6,2084.0 308.0,2081.8 308.4,2083.6 308.8,2076.8 309.2,2088.0 309.6,2080.9 310.0,2081.5 310.4,2077.8 310.8,2078.6 311.2,2083.6 311.6,2085.2 312.0,2084.3 312.4,2086.1 312.8,2084.2 313.2,2081.7 313.6,2084.8 314.0,2083.9 314.4,2081.3 314.8,2084.4 315.2,2086.6 315.6,2082.6 316.0,2080.4 316.4,2084.5 316.8,2089.0 317.2,2081.0 317.6,2074.4 318.0,2081.4 318.4,2086.5 318.8,2075.0 319.2,2083.3 319.6,2086.5 320.0,2079.0 320.4,2087.6 320.8,2084.1 321.2,2085.7 321.6,2082.9 322.0,2076.4 322.4,2080.1 322.8,2089.0 323.2,2078.9 323.6,2089.1 324.0,2082.0 324.4,2086.0 324.8,2082.5 325.2,2074.0 325.6,2080.2 326.0,2083.1 326.4,2078.1 326.8,2077.4 327.2,2083.9 327.6,2080.1 328.0,2076.2 328.4,2080.0 328.8,2085.8 329.2,2080.9 329.6,2086.1 330.0,2088.3 330.4,2082.8 330.8,2083.3 331.2,2077.9 331.6,2082.7 332.0,2086.1 332.4,2083.8 332.8,2084.9 333.2,2081.3 333.6,2084.0 334.0,2081.2 334.4,2081.8 334.8,2078.2 335.2,2085.1 335.6,2081.3 336.0,2079.0 336.4,2079.6 336.8,2085.6 337.2,2088.1 337.6,2093.9 338.0,2086.6 338.4,2080.9 338.8,2086.1 339.2,2084.6 339.6,2080.8 340.0,2087.4 340.4,2080.5 340.8,2072.2 341.2,2086.3 341.6,2081.2 342.0,2083.6 342.4,2081.1 342.8,2079.2 343.2,2089.2 343.6,2079.7 344.0,2084.3 344.4,2088.9 344.8,2084.1 345.2,2083.4 345.6,2084.1 346.0,2086.8 346.4,2080.8 346.8,2080.0 347.2,2085.9 347.6,2092.3 348.0,2082.7 348.4,2080.6 348.8,2086.6 349.2,2082.5 349.6,2085.0 350.0,2084.5 350.4,2094.5 350.8,2081.7 351.2,2083.8 351.6,2074.9 352.0,2080.9 352.4,2089.7 352.8,2081.7 353.2,2081.7 353.6,2079.9 354.0,2086.3 354.4,2084.9 354.8,2080.1 355.2,2086.7 355.6,2085.3 356.0,2087.1 356.4,2082.1 356.8,2090.6 357.2,2085.9 357.6,2084.1 358.0,2082.7 358.4,2083.7 358.8,2087.6 359.2,2083.7 359.6,2088.5 360.0,2086.7 360.4,2089.5 360.8,2087.6 361.2,2084.5 361.6,2078.0 362.0,2085.9 362.4,2087.6 362.8,2085.4 363.2,2086.8 363.6,2083.2 364.0,2083.6 364.4,2088.7 364.8,2092.9 365.2,2085.6 365.6,2083.3 366.0,2080.4 366.4,2084.6 366.8,2090.2 367.2,2086.8 367.6,2082.6 368.0,2090.2 368.4,2090.2 368.8,2088.7 369.2,2088.0 369.6,2089.3 370.0,2087.2 370.4,2088.1 370.8,2082.7 371.2,2090.6 371.6,2086.2 372.0,2092.5 372.4,2078.4 372.8,2088.0 373.2,2089.0 373.6,2084.4 374.0,2087.2 374.4,2088.2 374.8,2087.6 375.2,2083.8 375.6,2085.2 376.0,2089.3 376.4,2090.2 376.8,2086.1 377.2,2086.1 377.6,2086.5 378.0,2089.4 378.4,2082.3 378.8,2081.3 379.2,2086.4 379.6,2082.2 380.0,2084.0 380.4,2086.3 380.8,2087.7 381.2,2082.4 381.6,2088.8 382.0,2080.1 382.4,2081.4 382.8,2080.8 383.2,2081.9 383.6,2088.4 384.0,2077.8 384.4,2083.6 384.8,2084.8 385.2,2087.9 385.6,2086.2 386.0,2086.3 386.4,2090.0 386.8,2084.0 387.2,2084.9 387.6,2084.7 388.0,2097.7 388.4,2089.9 388.8,2090.9 389.2,2086.5 389.6,2086.1 390.0,2089.5 390.4,2085.4 390.8,2089.5 391.2,2089.2 391.6,2084.4 392.0,2086.5 392.4,2086.4 392.8,2092.7 393.2,2095.6 393.6,2086.6 394.0,2087.0 394.4,2079.3 394.8,2087.7 395.2,2087.0 395.6,2083.4 396.0,2089.7 396.4,2081.9 396.8,2086.4 397.2,2087.6 397.6,2083.0 398.0,2090.0 398.4,2090.7 398.8,2082.6 399.2,2082.6 399.6,2089.3 400.0,2082.3 400.4,2083.3 400.8,2086.4 401.2,2087.0 401.6,2087.0 402.0,2090.2 402.4,2088.7 402.8,2093.3 403.2,2092.1 403.6,2089.8 404.0,2091.1 404.4,2092.0 404.8,2090.0 405.2,2083.6 405.6,2090.5 406.0,2088.0 406.4,2093.1 406.8,2088.1 407.2,2089.5 407.6,2088.9 408.0,2093.3 408.4,2088.5 408.8,2087.0 409.2,2088.9 409.6,2086.5 410.0,2088.5 410.4,2091.1 410.8,2088.9 411.2,2094.3 411.6,2086.8 412.0,2088.2 412.4,2087.5 412.8,2090.3 413.2,2084.4 413.6,2086.0 414.0,2088.1 414.4,2090.0 414.8,2088.1 415.2,2082.8 415.6,2085.6 416.0,2090.0 416.4,2093.0 416.8,2089.5 417.2,2089.1 417.6,2089.9 418.0,2085.5 418.4,2087.5 418.8,2084.1 419.2,2089.5 419.6,2088.5 420.0,2084.8 420.4,2092.2 420.8,2094.1 421.2,2087.8 421.6,2089.9 422.0,2089.5 422.4,2091.2 422.8,2083.9 423.2,2093.8 423.6,2087.2 424.0,2092.7 424.4,2088.9 424.8,2087.4 425.2,2088.2 425.6,2091.5 426.0,2085.9 426.4,2087.4 426.8,2087.0 427.2,2076.5 427.6,2092.7 428.0,2090.4 428.4,2088.5 428.8,2092.3 429.2,2085.4 429.6,2088.3 430.0,2094.0 430.4,2091.6 430.8,2081.3 431.2,2077.7 431.6,2085.1 432.0,2091.8 432.4,2086.9 432.8,2087.7 433.2,2090.3 433.6,2085.5 434.0,2089.0 434.4,2090.9 434.8,2089.8 435.2,2089.6 435.6,2086.3 436.0,2089.9 436.4,2086.9 436.8,2092.5 437.2,2096.5 437.6,2085.8 438.0,2081.1 438.4,2086.8 438.8,2089.4 439.2,2091.6 439.6,2091.6 440.0,2085.6 440.4,2085.5 440.8,2092.2 441.2,2084.5 441.6,2091.6 442.0,2087.3 442.4,2090.5 442.8,2090.3 443.2,2090.5 443.6,2090.7 444.0,2089.8 444.4,2088.9 444.8,2088.0 445.2,2088.9 445.6,2091.9 446.0,2087.0 446.4,2085.6 446.8,2085.5 447.2,2086.8 447.6,2090.3 448.0,2085.2 448.4,2091.6 448.8,2088.8 449.2,2087.0 449.6,2083.4 450.0,2088.6 450.4,2090.0 450.8,2081.9 451.2,2091.6 451.6,2093.1 452.0,2088.8 452.4,2089.3 452.8,2095.6 453.2,2091.7 453.6,2084.7 454.0,2087.6 454.4,2087.1 454.8,2087.1 455.2,2079.8 455.6,2090.0 456.0,2085.4 456.4,2088.1 456.8,2087.1 457.2,2090.4 457.6,2086.5 458.0,2084.8 458.4,2089.2 458.8,2092.1 459.2,2086.4 459.6,2091.9 460.0,2088.3 460.4,2085.6 460.8,2092.4 461.2,2084.6 461.6,2090.7 462.0,2085.7 462.4,2088.8 462.8,2083.2 463.2,2084.5 463.6,2090.8 464.0,2087.9 464.4,2087.4 464.8,2085.8 465.2,2088.7 465.6,2082.5 466.0,2083.4 466.4,2086.6 466.8,2084.4 467.2,2084.8 467.6,2086.9 468.0,2086.6 468.4,2086.3 468.8,2092.6 469.2,2090.4 469.6,2091.1 470.0,2086.9 470.4,2085.3 470.8,2082.1 471.2,2085.8 471.6,2080.0 472.0,2085.0 472.4,2089.5 472.8,2092.4 473.2,2090.1 473.6,2084.0 474.0,2088.5 474.4,2084.2 474.8,2089.6 475.2,2086.5 475.6,2089.7 476.0,2095.5 476.4,2089.9 476.8,2094.6 477.2,2087.4 477.6,2085.6 478.0,2091.2 478.4,2092.5 478.8,2084.8 479.2,2086.9 479.6,2081.8 480.0,2086.0 480.4,2089.6 480.8,2082.5 481.2,2084.7 481.6,2086.7 482.0,2087.8 482.4,2089.3 482.8,2088.6 483.2,2083.0 483.6,2082.2 484.0,2092.5 484.4,2086.3 484.8,2086.0 485.2,2088.9 485.6,2079.1 486.0,2086.2 486.4,2085.9 486.8,2087.6 487.2,2090.9 487.6,2088.0 488.0,2080.1 488.4,2085.2 488.8,2087.0 489.2,2086.8 489.6,2081.9 490.0,2080.6 490.4,2088.1 490.8,2087.4 491.2,2086.1 491.6,2080.3 492.0,2092.2 492.4,2076.2 492.8,2084.9 493.2,2093.3 493.6,2085.6 494.0,2086.9 494.4,2082.0 494.8,2090.7 495.2,2081.6 495.6,2086.9 496.0,2086.5 496.4,2082.4 496.8,2089.0 497.2,2081.1 497.6,2083.6 498.0,2085.8 498.4,2084.5 498.8,2087.5 499.2,2089.0 499.6,2084.8 500.0,2084.0 500.4,2084.0 500.8,2084.6 501.2,2088.6 501.6,2085.1 502.0,2087.2 502.4,2085.5 502.8,2082.9 503.2,2088.8 503.6,2082.2 504.0,2085.8 504.4,2090.9 504.8,2082.0 505.2,2085.6 505.6,2080.3 506.0,2084.0 506.4,2080.6 506.8,2084.5 507.2,2083.9 507.6,2086.2 508.0,2091.2 508.4,2086.7 508.8,2088.0 509.2,2085.6 509.6,2084.9 510.0,2082.8 510.4,2079.5 510.8,2085.9 511.2,2091.3 511.6,2087.3 512.0,2083.8 512.4,2091.3 512.8,2084.1 513.2,2083.4 513.6,2081.3 514.0,2082.2 514.4,2084.6 514.8,2092.4 515.2,2084.7 515.6,2081.7 516.0,2083.1 516.4,2084.4 516.8,2079.0 517.2,2085.3 517.6,2087.2 518.0,2085.6 518.4,2086.3 518.8,2078.9 519.2,2076.7 519.6,2087.0 520.0,2085.3 520.4,2073.7 520.8,2079.0 521.2,2076.4 521.6,2076.6 522.0,2073.0 522.4,2067.6 522.8,2068.9 523.2,2067.2 523.6,2065.4 524.0,2056.6 524.4,2051.7 524.8,2070.6 525.2,2061.1 525.6,2071.6 526.0,2075.4 526.4,2075.2 526.8,2074.2 527.2,2077.7 527.6,2083.5 528.0,2077.2 528.4,2084.7 528.8,2084.7 529.2,2083.7 529.6,2088.7 530.0,2081.2 530.4,2087.5 530.8,2081.1 531.2,2081.9 531.6,2081.1 532.0,2086.5 532.4,2081.7 532.8,2085.3 533.2,2081.2 533.6,2089.0 534.0,2091.7 534.4,2086.1 534.8,2091.1 535.2,2087.3 535.6,2092.9 536.0,2085.8 536.4,2080.0 536.8,2090.6 537.2,2085.0 537.6,2081.8 538.0,2083.2 538.4,2079.8 538.8,2084.9 539.2,2081.7 539.6,2090.6 540.0,2087.7 540.4,2079.6 540.8,2080.1 541.2,2083.4 541.6,2078.6 542.0,2084.9 542.4,2085.1 542.8,2082.5 543.2,2083.3 543.6,2086.9 544.0,2090.1 544.4,2090.3 544.8,2085.1 545.2,2087.9 545.6,2082.1 546.0,2086.1 546.4,2081.1 546.8,2087.0 547.2,2079.8 547.6,2080.7 548.0,2083.9 548.4,2085.8 548.8,2078.3 549.2,2081.4 549.6,2091.5 550.0,2083.7 550.4,2079.4 550.8,2082.6 551.2,2080.9 551.6,2086.8 552.0,2083.2 552.4,2075.6 552.8,2071.7 553.2,2080.2 553.6,2084.0 554.0,2087.1 554.4,2081.8 554.8,2075.7 555.2,2071.5 555.6,2075.2 556.0,2076.3 556.4,2078.2 556.8,2068.7 557.2,2074.8 557.6,2070.6 558.0,2076.2 558.4,2069.4 558.8,2068.7 559.2,2068.1 559.6,2076.0 560.0,2069.8 560.4,2065.6 560.8,2063.8 561.2,2055.5 561.6,2074.8 562.0,2058.9 562.4,2063.3 562.8,2070.2 563.2,2068.7 563.6,2066.4 564.0,2070.9 564.4,2070.9 564.8,2072.2 565.2,2068.0 565.6,2075.9 566.0,2069.4 566.4,2076.0 566.8,2064.2 567.2,2074.2 567.6,2064.5 568.0,2064.0 568.4,2073.7 568.8,2068.3 569.2,2074.6 569.6,2062.1 570.0,2080.8 570.4,2074.4 570.8,2070.1 571.2,2076.3 571.6,2079.8 572.0,2073.5 572.4,2079.4 572.8,2086.2 573.2,2081.8 573.6,2078.8 574.0,2077.1 574.4,2082.1 574.8,2074.3 575.2,2068.9 575.6,2078.5 576.0,2077.3 576.4,2088.5 576.8,2082.7 577.2,2078.8 577.6,2078.5 578.0,2085.0 578.4,2080.4 578.8,2081.5 579.2,2083.6 579.6,2084.4 580.0,2084.7 580.4,2084.9 580.8,2089.4 581.2,2090.9 581.6,2079.2 582.0,2094.3 582.4,2085.8 582.8,2089.8 583.2,2078.8 583.6,2086.8 584.0,2086.5 584.4,2086.2 584.8,2088.9 585.2,2088.2 585.6,2082.6 586.0,2085.7 586.4,2088.7 586.8,2088.6 587.2,2085.1 587.6,2085.4 588.0,2085.9 588.4,2082.7 588.8,2082.1 589.2,2087.5 589.6,2085.2 590.0,2086.9 590.4,2084.1 590.8,2091.0 591.2,2092.6 591.6,2085.9 592.0,2088.5 592.4,2084.2 592.8,2092.7 593.2,2089.9 593.6,2084.0 594.0,2091.0 594.4,2088.1 594.8,2088.3 595.2,2088.1 595.6,2084.6 596.0,2085.1 596.4,2089.0 596.8,2086.8 597.2,2083.8 597.6,2093.8 598.0,2086.3 598.4,2078.9 598.8,2084.7 599.2,2089.4 599.6,2090.3 600.0,2087.9 600.4,2090.0 600.8,2082.0 601.2,2085.8 601.6,2085.5 602.0,2087.1 602.4,2088.8 602.8,2080.3 603.2,2097.6 603.6,2084.2 604.0,2088.3 604.4,2089.9 604.8,2090.0 605.2,2088.0 605.6,2077.5 606.0,2083.6 606.4,2084.5 606.8,2084.1 607.2,2083.7 607.6,2079.3 608.0,2094.5 608.4,2088.9 608.8,2084.2 609.2,2086.8 609.6,2086.9 610.0,2083.5 610.4,2086.3 610.8,2088.1 611.2,2089.1 611.6,2091.5 612.0,2087.3 612.4,2085.7 612.8,2088.6 613.2,2085.2 613.6,2083.1 614.0,2091.1 614.4,2086.0 614.8,2087.7 615.2,2089.4 615.6,2083.6 616.0,2089.4 616.4,2088.8 616.8,2087.0 617.2,2088.6 617.6,2084.8 618.0,2080.0 618.4,2086.4 618.8,2084.3 619.2,2090.2 619.6,2088.2 620.0,2085.6 620.4,2087.5 620.8,2091.9 621.2,2091.2 621.6,2088.6 622.0,2088.8 622.4,2086.5 622.8,2087.0 623.2,2089.4 623.6,2087.0 624.0,2088.4 624.4,2083.7 624.8,2081.9 625.2,2081.8 625.6,2086.0 626.0,2091.9 626.4,2091.4 626.8,2084.2 627.2,2082.3 627.6,2090.1 628.0,2089.0 628.4,2083.0 628.8,2091.0 629.2,2088.1 629.6,2091.9 630.0,2088.6 630.4,2090.5 630.8,2088.6 631.2,2084.4 631.6,2086.8 632.0,2085.3 632.4,2090.3 632.8,2084.3 633.2,2082.5 633.6,2089.8 634.0,2096.6 634.4,2092.3 634.8,2091.2 635.2,2082.6 635.6,2085.3 636.0,2085.8 636.4,2087.5 636.8,2080.5 637.2,2087.6 637.6,2088.5 638.0,2084.5 638.4,2088.0 638.8,2091.5 639.2,2087.8 639.6,2091.1 640.0,2091.0 640.4,2089.0 640.8,2088.9 641.2,2086.4 641.6,2091.7 642.0,2086.1 642.4,2085.4 642.8,2090.0 643.2,2085.3 643.6,2093.1 644.0,2091.2 644.4,2088.0 644.8,2088.0 645.2,2090.7 645.6,2090.2 646.0,2082.6 646.4,2083.4 646.8,2092.1 647.2,2089.0 647.6,2080.9 648.0,2083.3 648.4,2087.8 648.8,2084.5 649.2,2089.3 649.6,2088.0 650.0,2089.4 650.4,2084.0 650.8,2089.9 651.2,2094.3 651.6,2085.3 652.0,2092.2 652.4,2091.2 652.8,2090.1 653.2,2087.8 653.6,2084.2 654.0,2085.2 654.4,2085.3 654.8,2091.3 655.2,2092.1 655.6,2091.3 656.0,2091.1 656.4,2086.8 656.8,2084.3 657.2,2088.9 657.6,2089.9 658.0,2088.6 658.4,2083.5 658.8,2086.7 659.2,2083.7 659.6,2088.9 660.0,2085.1 660.4,2088.0 660.8,2089.6 661.2,2089.0 661.6,2093.0 662.0,2085.1 662.4,2081.6 662.8,2091.7 663.2,2093.2 663.6,2090.1 664.0,2089.7 664.4,2090.5 664.8,2089.2 665.2,2084.7 665.6,2087.0 666.0,2090.5 666.4,2087.1 666.8,2095.0 667.2,2084.1 667.6,2087.6 668.0,2092.5 668.4,2087.1 668.8,2085.5 669.2,2084.8 669.6,2086.8 670.0,2093.9 670.4,2090.5 670.8,2090.8 671.2,2087.6 671.6,2091.9 672.0,2089.6 672.4,2086.4 672.8,2087.9 673.2,2090.0 673.6,2093.1 674.0,2089.2 674.4,2091.0 674.8,2095.8 675.2,2087.0 675.6,2085.6 676.0,2092.6 676.4,2090.9 676.8,2089.3 677.2,2090.4 677.6,2081.0 678.0,2091.2 678.4,2088.6 678.8,2092.2 679.2,2086.1 679.6,2087.2 680.0,2090.1 680.4,2088.3 680.8,2091.9 681.2,2089.7 681.6,2088.2 682.0,2090.5 682.4,2088.2 682.8,2085.1 683.2,2086.4 683.6,2087.5 684.0,2088.5 684.4,2090.3 684.8,2085.6 685.2,2091.7 685.6,2095.5 686.0,2094.0 686.4,2089.5 686.8,2095.2 687.2,2093.7 687.6,2088.7 688.0,2091.1 688.4,2093.5 688.8,2090.9 689.2,2093.3 689.6,2091.4 690.0,2092.3 690.4,2089.2 690.8,2091.4 691.2,2089.1 691.6,2092.3 692.0,2085.1 692.4,2091.3 692.8,2094.1 693.2,2092.0 693.6,2090.2 694.0,2091.9 694.4,2087.7 694.8,2087.7 695.2,2089.1 695.6,2089.8 696.0,2093.2 696.4,2087.5 696.8,2093.3 697.2,2085.4 697.6,2087.8 698.0,2090.0 698.4,2093.7 698.8,2088.2 699.2,2083.5 699.6,2091.3 700.0,2089.9 700.4,2086.6 700.8,2086.7 701.2,2087.8 701.6,2090.2 702.0,2091.9 702.4,2085.2 702.8,2096.8 703.2,2089.5 703.6,2088.4 704.0,2091.6 704.4,2082.8 704.8,2096.6 705.2,2092.6 705.6,2091.6 706.0,2087.5 706.4,2087.0 706.8,2087.2 707.2,2090.2 707.6,2085.6 708.0,2092.6 708.4,2086.4 708.8,2085.5 709.2,2088.4 709.6,2076.6 710.0,2078.7 710.4,2082.4 710.8,2077.3 711.2,2073.7 711.6,2071.1 712.0,2060.8 712.4,2056.2 712.8,2042.1 713.2,2030.4 713.6,2037.2 714.0,2014.8 714.4,2004.8 714.8,2005.1 715.2,1993.0 715.6,1975.7 716.0,1969.3 716.4,1968.2 716.8,1963.5 717.2,1974.1 717.6,1976.9 718.0,1983.6 718.4,1995.2 718.8,2004.1 719.2,2019.7 719.6,2027.6 720.0,2019.6 720.4,2042.4 720.8,2039.7 721.2,2045.4 721.6,2063.2 722.0,2061.7 722.4,2068.4 722.8,2078.6 723.2,2074.5 723.6,2076.4 724.0,2083.3 724.4,2088.3 724.8,2087.1 725.2,2081.0 725.6,2085.0 726.0,2087.4 726.4,2094.7 726.8,2091.8 727.2,2092.0 727.6,2093.4 728.0,2089.0 728.4,2091.6 728.8,2091.8 729.2,2087.5 729.6,2090.5 730.0,2092.3 730.4,2087.2 730.8,2092.9 731.2,2092.6 731.6,2093.2 732.0,2087.4 732.4,2089.7 732.8,2093.6 733.2,2091.0 733.6,2085.2 734.0,2087.8 734.4,2091.2 734.8,2085.3 735.2,2086.0 735.6,2093.1 736.0,2082.9 736.4,2081.8 736.8,2077.7 737.2,2078.4 737.6,2086.2 738.0,2079.7 738.4,2075.5 738.8,2076.7 739.2,2080.7 739.6,2084.2 740.0,2079.2 740.4,2085.5 740.8,2082.0 741.2,2086.0 741.6,2087.5 742.0,2088.8 742.4,2086.2 742.8,2088.0 743.2,2091.0 743.6,2086.2 744.0,2091.4 744.4,2089.2 744.8,2095.0 745.2,2092.3 745.6,2086.8 746.0,2093.6 746.4,2091.4 746.8,2093.1 747.2,2094.9 747.6,2094.7 748.0,2091.3 748.4,2093.3 748.8,2088.6 749.2,2096.3 749.6,2092.7 750.0,2094.7 750.4,2091.1 750.8,2093.7 751.2,2095.0 751.6,2096.4 752.0,2093.2 752.4,2095.7 752.8,2092.9 753.2,2091.0 753.6,2094.3 754.0,2091.9 754.4,2091.7 754.8,2090.2 755.2,2092.6 755.6,2084.6 756.0,2090.8 756.4,2088.1 756.8,2089.1 757.2,2091.4 757.6,2093.7 758.0,2089.2 758.4,2093.3 758.8,2088.2 759.2,2084.0 759.6,2089.1 760.0,2083.1 760.4,2087.0 760.8,2088.6 761.2,2083.0 761.6,2082.9 762.0,2091.6 762.4,2082.4 762.8,2081.5 763.2,2082.6 763.6,2078.0 764.0,2077.0 764.4,2077.8 764.8,2064.8 765.2,2080.0 765.6,2067.9 766.0,2066.4 766.4,2072.5 766.8,2068.8 767.2,2061.4 767.6,2067.0 768.0,2059.0 768.4,2059.7 768.8,2054.1 769.2,2050.6 769.6,2061.1 770.0,2058.3 770.4,2057.9 770.8,2059.8 771.2,2053.3 771.6,2048.7 772.0,2049.5 772.4,2058.5 772.8,2048.7 773.2,2049.0 773.6,2045.7 774.0,2046.3 774.4,2046.1 774.8,2042.6 775.2,2040.5 775.6,2035.7 776.0,2033.7 776.4,2038.7 776.8,2039.1 777.2,2038.6 777.6,2032.4 778.0,2025.9 778.4,2031.2 778.8,2028.0 779.2,2012.8 779.6,2020.1 780.0,2013.1 780.4,2012.1 780.8,1989.7 781.2,1980.8 781.6,1983.4 782.0,1961.4 782.4,1959.6 782.8,1951.5 783.2,1947.6 783.6,1940.9 784.0,1946.0 784.4,1960.6 784.8,1963.7 785.2,1971.7 785.6,1976.9 786.0,2000.9 786.4,2002.6 786.8,2016.0 787.2,2012.4 787.6,2032.1 788.0,2033.0 788.4,2048.9 788.8,2055.1 789.2,2054.2 789.6,2066.1 790.0,2074.9 790.4,2075.3 790.8,2078.4 791.2,2074.8 791.6,2077.5 792.0,2077.4 792.4,2083.2 792.8,2088.0 793.2,2085.9 793.6,2084.9 794.0,2074.6 794.4,2087.2 794.8,2085.2 795.2,2079.7 795.6,2080.5 796.0,2085.3 796.4,2083.5 796.8,2092.2 797.2,2086.7 797.6,2083.1 798.0,2084.9 798.4,2091.9 798.8,2083.2 799.2,2088.9 799.6,2087.7 800.0,2091.0 800.4,2087.7 800.8,2084.2 801.2,2087.2 801.6,2085.4 802.0,2088.3 802.4,2084.3 802.8,2091.3 803.2,2083.5 803.6,2085.0 804.0,2076.0 804.4,2082.9 804.8,2082.0 805.2,2082.0 805.6,2084.2 806.0,2077.9 806.4,2075.9 806.8,2082.8 807.2,2076.3 807.6,2073.6 808.0,2080.1 808.4,2077.3 808.8,2060.7 809.2,2068.9 809.6,2064.7 810.0,2070.3 810.4,2060.9 810.8,2068.2 811.2,2052.0 811.6,2050.2 812.0,2046.5 812.4,2039.1 812.8,2035.5 813.2,2022.9 813.6,2010.8 814.0,2005.8 814.4,1980.2 814.8,1966.3 815.2,1958.1 815.6,1929.1 816.0,1912.0 816.4,1880.0 816.8,1855.6 817.2,1830.2 817.6,1805.1 818.0,1776.4 818.4,1753.7 818.8,1735.3 819.2,1720.2 819.6,1701.6 820.0,1697.7 820.4,1699.2 820.8,1695.3 821.2,1705.5 821.6,1740.4 822.0,1760.8 822.4,1778.6 822.8,1806.2 823.2,1825.9 823.6,1849.9 824.0,1884.2 824.4,1898.7 824.8,1933.7 825.2,1945.7 825.6,1969.4 826.0,1994.6 826.4,2008.8 826.8,2010.0 827.2,2028.1 827.6,2026.3 828.0,2036.6 828.4,2048.4 828.8,2059.4 829.2,2053.8 829.6,2063.6 830.0,2064.6 830.4,2060.9 830.8,2068.8 831.2,2078.2 831.6,2068.1 832.0,2076.9 832.4,2079.6 832.8,2074.4 833.2,2083.4 833.6,2077.4 834.0,2086.6 834.4,2079.1 834.8,2080.2 835.2,2080.5 835.6,2080.4 836.0,2080.6 836.4,2081.6 836.8,2088.5 837.2,2090.5 837.6,2083.7 838.0,2089.1 838.4,2082.5 838.8,2086.0 839.2,2084.2 839.6,2082.5 840.0,2088.3 840.4,2088.7 840.8,2087.4 841.2,2087.3 841.6,2086.2 842.0,2089.1 842.4,2087.9 842.8,2083.1 843.2,2086.5 843.6,2091.1 844.0,2092.1 844.4,2094.5 844.8,2094.0 845.2,2091.7 845.6,2089.2 846.0,2086.0 846.4,2091.5 846.8,2095.8 847.2,2096.6 847.6,2084.7 848.0,2089.9 848.4,2091.2 848.8,2089.4 849.2,2093.0 849.6,2092.7 850.0,2091.2 850.4,2099.9 850.8,2088.4 851.2,2090.2 851.6,2090.6 852.0,2095.6 852.4,2088.7 852.8,2092.7 853.2,2095.5 853.6,2093.3 854.0,2095.7 854.4,2091.8 854.8,2094.8 855.2,2096.1 855.6,2099.8 856.0,2095.8 856.4,2097.7 856.8,2094.0 857.2,2094.3 857.6,2098.2 858.0,2095.7 858.4,2097.9 858.8,2096.1 859.2,2099.9 859.6,2100.6 860.0,2092.2 860.4,2099.3 860.8,2095.6 861.2,2095.7 861.6,2094.2 862.0,2096.4 862.4,2091.7 862.8,2092.8 863.2,2092.7 863.6,2095.5 864.0,2097.1 864.4,2096.7 864.8,2095.7 865.2,2098.8 865.6,2090.3 866.0,2095.9 866.4,2095.3 866.8,2095.8 867.2,2098.6 867.6,2094.5 868.0,2094.4 868.4,2089.0 868.8,2096.4 869.2,2094.8 869.6,2093.1 870.0,2095.9 870.4,2092.3 870.8,2093.6 871.2,2100.0 871.6,2096.8 872.0,2097.3 872.4,2096.8 872.8,2096.5 873.2,2095.3 873.6,2100.6 874.0,2094.5 874.4,2096.5 874.8,2094.0 875.2,2093.5 875.6,2087.9 876.0,2089.1 876.4,2091.7 876.8,2097.7 877.2,2092.2 877.6,2092.9 878.0,2094.2 878.4,2088.9 878.8,2096.2 879.2,2086.5 879.6,2086.0 880.0,2077.2 880.4,2089.9 880.8,2082.2 881.2,2085.6 881.6,2066.9 882.0,2074.0 882.4,2069.3 882.8,2066.3 883.2,2072.6 883.6,2071.0 884.0,2064.3 884.4,2053.7 884.8,2060.6 885.2,2063.9 885.6,2061.3 886.0,2063.5 886.4,2065.7 886.8,2061.9 887.2,2070.5 887.6,2079.6 888.0,2071.3 888.4,2078.7 888.8,2084.2 889.2,2078.3 889.6,2084.9 890.0,2077.9 890.4,2086.8 890.8,2085.7 891.2,2088.4 891.6,2090.5 892.0,2091.9 892.4,2092.7 892.8,2087.3 893.2,2098.3 893.6,2093.7 894.0,2086.0 894.4,2093.3 894.8,2095.9 895.2,2092.7 895.6,2094.3 896.0,2094.3 896.4,2096.9 896.8,2093.8 897.2,2096.9 897.6,2096.7 898.0,2095.6 898.4,2099.0 898.8,2096.1 899.2,2093.3 899.6,2096.9 900.0,2096.5 900.4,2089.3 900.8,2096.9 901.2,2101.9 901.6,2096.9 902.0,2097.5 902.4,2095.8 902.8,2099.5 903.2,2096.3 903.6,2094.6 904.0,2093.6 904.4,2097.7 904.8,2098.3 905.2,2092.7 905.6,2094.8 906.0,2098.0 906.4,2099.0 906.8,2093.4 907.2,2095.6 907.6,2098.5 908.0,2095.3 908.4,2095.5 908.8,2095.3 909.2,2093.5 909.6,2096.7 910.0,2097.3 910.4,2093.3 910.8,2096.8 911.2,2099.2 911.6,2097.1 912.0,2103.3 912.4,2095.3 912.8,2099.8 913.2,2094.7 913.6,2101.0 914.0,2095.5 914.4,2094.9 914.8,2094.5 915.2,2095.6 915.6,2095.4 916.0,2094.9 916.4,2095.8 916.8,2098.1 917.2,2098.6 917.6,2095.7 918.0,2099.5 918.4,2094.2 918.8,2094.1 919.2,2093.9 919.6,2097.9 920.0,2092.8 920.4,2093.2 920.8,2099.5 921.2,2100.5 921.6,2099.7 922.0,2093.0 922.4,2096.5 922.8,2098.4 923.2,2096.7 923.6,2092.6 924.0,2095.6 924.4,2092.4 924.8,2093.5 925.2,2101.5 925.6,2098.0 926.0,2092.9 926.4,2092.8 926.8,2097.5 927.2,2094.9 927.6,2097.8 928.0,2094.8 928.4,2095.9 928.8,2096.9 929.2,2093.9 929.6,2091.8 930.0,2093.5 930.4,2094.7 930.8,2095.8 931.2,2096.2 931.6,2096.1 932.0,2097.5 932.4,2098.2 932.8,2099.6 933.2,2101.1 933.6,2097.1 934.0,2096.7 934.4,2099.2 934.8,2097.8 935.2,2096.7 935.6,2095.8 936.0,2094.4 936.4,2093.4 936.8,2097.8 937.2,2099.0 937.6,2093.6 938.0,2096.0 938.4,2096.7 938.8,2095.1 939.2,2094.3 939.6,2095.2 940.0,2091.4 940.4,2089.0 940.8,2095.4 941.2,2101.2 941.6,2098.3 942.0,2095.2 942.4,2096.0 942.8,2100.2 943.2,2099.9 943.6,2090.1 944.0,2095.7 944.4,2092.5 944.8,2095.2 945.2,2095.6 945.6,2094.2 946.0,2100.2 946.4,2091.4 946.8,2095.6 947.2,2096.9 947.6,2097.0 948.0,2100.0 948.4,2092.5 948.8,2094.1 949.2,2096.1 949.6,2096.2 950.0,2094.9 950.4,2094.0 950.8,2098.5 951.2,2093.3 951.6,2094.4 952.0,2099.3 952.4,2100.1 952.8,2097.9 953.2,2093.7 953.6,2093.7 954.0,2101.0 954.4,2093.0 954.8,2094.7 955.2,2098.9 955.6,2096.3 956.0,2093.9 956.4,2093.8 956.8,2092.8 957.2,2098.7 957.6,2090.7 958.0,2096.3 958.4,2092.1 958.8,2093.0 959.2,2092.0 959.6,2098.0 960.0,2095.4 960.4,2102.4 960.8,2093.0 961.2,2092.9 961.6,2097.0 962.0,2096.9 962.4,2094.8 962.8,2090.5 963.2,2099.1 963.6,2096.9 964.0,2096.5 964.4,2094.0 964.8,2097.0 965.2,2094.1 965.6,2095.5 966.0,2094.9 966.4,2098.5 966.8,2094.2 967.2,2094.5 967.6,2098.1 968.0,2095.9 968.4,2095.3 968.8,2094.7 969.2,2097.7 969.6,2093.7 970.0,2096.5 970.4,2100.3 970.8,2096.3 971.2,2093.3 971.6,2092.2 972.0,2095.6 972.4,2092.1 972.8,2091.2 973.2,2093.3 973.6,2092.4 974.0,2097.4 974.4,2091.5 974.8,2099.1 975.2,2093.2 975.6,2095.4 976.0,2096.8 976.4,2095.7 976.8,2096.9 977.2,2092.6 977.6,2089.4 978.0,2094.6 978.4,2090.9 978.8,2093.6 979.2,2097.5 979.6,2094.6 980.0,2093.6 980.4,2092.2 980.8,2094.3 981.2,2094.6 981.6,2091.1 982.0,2095.8 982.4,2092.4 982.8,2095.6 983.2,2093.9 983.6,2097.6 984.0,2097.2 984.4,2095.1 984.8,2101.2 985.2,2096.2 985.6,2098.5 986.0,2097.8 986.4,2095.5 986.8,2095.9 987.2,2099.1 987.6,2091.0 988.0,2096.5 988.4,2092.8 988.8,2098.5 989.2,2093.9 989.6,2094.8 990.0,2092.4 990.4,2095.2 990.8,2097.1 991.2,2099.4 991.6,2092.0 992.0,2094.1 992.4,2105.0 992.8,2105.1 993.2,2095.2 993.6,2096.5 994.0,2088.5 994.4,2099.3 994.8,2095.6 995.2,2091.6 995.6,2098.2 996.0,2101.1 996.4,2092.6 996.8,2096.5 997.2,2096.2 997.6,2094.1 998.0,2095.0 998.4,2091.8 998.8,2098.3 999.2,2097.5 999.6,2098.5 1000.0,2096.3 1000.4,2096.1 1000.8,2094.2 1001.2,2094.9 1001.6,2092.8 1002.0,2099.6 1002.4,2093.8 1002.8,2096.2 1003.2,2095.2 1003.6,2091.7 1004.0,2100.1 1004.4,2094.2 1004.8,2093.2 1005.2,2095.5 1005.6,2092.9 1006.0,2095.2 1006.4,2092.7 1006.8,2096.6 1007.2,2095.3 1007.6,2086.7 1008.0,2097.8 1008.4,2095.6 1008.8,2092.4 1009.2,2096.1 1009.6,2096.2 1010.0,2099.9 1010.4,2093.0 1010.8,2097.3 1011.2,2094.9 1011.6,2096.7 1012.0,2094.5 1012.4,2095.0 1012.8,2096.4 1013.2,2092.1 1013.6,2089.8 1014.0,2095.1 1014.4,2094.0 1014.8,2095.4 1015.2,2096.8 1015.6,2094.6 1016.0,2098.2 1016.4,2095.0 1016.8,2095.4 1017.2,2097.3 1017.6,2096.6 1018.0,2094.9 1018.4,2095.5 1018.8,2093.2 1019.2,2093.6 1019.6,2088.4 1020.0,2097.2 1020.4,2094.0 1020.8,2097.3 1021.2,2100.1 1021.6,2100.6 1022.0,2095.2 1022.4,2097.8 1022.8,2096.7 1023.2,2097.1 1023.6,2097.3 1024.0,2096.5 1024.4,2097.2 1024.8,2095.6 1025.2,2094.4 1025.6,2095.8 1026.0,2096.4 1026.4,2098.2 1026.8,2096.0 1027.2,2097.0 1027.6,2098.7 1028.0,2092.7 1028.4,2094.4 1028.8,2096.4 1029.2,2091.6 1029.6,2092.5 1030.0,2097.6 1030.4,2094.9 1030.8,2097.9 1031.2,2099.9 1031.6,2091.7 1032.0,2095.0 1032.4,2093.3 1032.8,2095.2 1033.2,2096.4 1033.6,2092.8 1034.0,2094.7 1034.4,2094.6 1034.8,2092.3 1035.2,2097.9 1035.6,2095.3 1036.0,2094.1 1036.4,2093.1 1036.8,2094.0 1037.2,2095.2 1037.6,2093.6 1038.0,2098.0 1038.4,2088.2 1038.8,2089.2 1039.2,2094.1 1039.6,2089.9 1040.0,2094.5 1040.4,2092.9 1040.8,2096.1 1041.2,2095.7 1041.6,2098.0 1042.0,2097.0 1042.4,2097.8 1042.8,2095.9 1043.2,2097.2 1043.6,2095.7 1044.0,2092.8 1044.4,2091.0 1044.8,2091.1 1045.2,2095.5 1045.6,2087.8 1046.0,2094.6 1046.4,2092.0 1046.8,2095.9 1047.2,2094.4 1047.6,2091.8 1048.0,2093.8 1048.4,2087.5 1048.8,2094.3 1049.2,2094.8 1049.6,2088.3 1050.0,2095.6 1050.4,2092.8 1050.8,2093.5 1051.2,2088.9 1051.6,2094.4 1052.0,2094.2 1052.4,2092.4 1052.8,2089.4 1053.2,2094.3 1053.6,2095.5 1054.0,2092.8 1054.4,2094.4 1054.8,2089.5 1055.2,2091.5 1055.6,2092.0 1056.0,2091.0 1056.4,2099.0 1056.8,2091.4 1057.2,2088.1 1057.6,2092.2 1058.0,2085.9 1058.4,2096.8 1058.8,2091.2 1059.2,2086.8 1059.6,2087.1 1060.0,2084.7 1060.4,2084.7 1060.8,2084.9 1061.2,2092.7 1061.6,2088.7 1062.0,2085.4 1062.4,2080.9 1062.8,2092.6 1063.2,2089.8 1063.6,2086.5 1064.0,2085.2 1064.4,2084.7 1064.8,2082.0 1065.2,2090.3 1065.6,2083.8 1066.0,2077.3 1066.4,2079.8 1066.8,2072.1 1067.2,2084.1 1067.6,2084.1 1068.0,2087.7 1068.4,2088.6 1068.8,2077.0 1069.2,2081.4 1069.6,2083.2 1070.0,2081.9 1070.4,2076.2 1070.8,2081.0 1071.2,2079.2 1071.6,2082.2 1072.0,2075.6 1072.4,2073.9 1072.8,2071.9 1073.2,2071.5 1073.6,2068.8 1074.0,2069.5 1074.4,2072.2 1074.8,2070.6 1075.2,2073.2 1075.6,2070.5 1076.0,2066.3 1076.4,2055.0 1076.8,2061.6 1077.2,2062.2 1077.6,2046.2 1078.0,2044.3 1078.4,2042.1 1078.8,2038.5 1079.2,2039.3 1079.6,2032.7 1080.0,2033.7 1080.4,2025.4 1080.8,2028.8 1081.2,2024.7 1081.6,2020.6 1082.0,2030.3 1082.4,2024.6 1082.8,2027.7 1083.2,2024.2 1083.6,2037.0 1084.0,2033.9 1084.4,2032.9 1084.8,2027.7 1085.2,2045.4 1085.6,2048.6 1086.0,2049.8 1086.4,2054.1 1086.8,2064.8 1087.2,2061.1 1087.6,2058.3 1088.0,2066.2 1088.4,2070.7 1088.8,2068.9 1089.2,2069.6 1089.6,2083.7 1090.0,2079.9 1090.4,2077.5 1090.8,2077.9 1091.2,2070.5 1091.6,2076.0 1092.0,2081.1 1092.4,2087.2 1092.8,2075.0 1093.2,2080.3 1093.6,2090.1 1094.0,2085.5 1094.4,2084.5 1094.8,2087.4 1095.2,2082.5 1095.6,2082.2 1096.0,2080.3 1096.4,2085.9 1096.8,2078.7 1097.2,2088.4 1097.6,2076.2 1098.0,2074.7 1098.4,2094.2 1098.8,2080.9 1099.2,2085.3 1099.6,2079.2 1100.0,2081.8 1100.4,2080.3 1100.8,2081.5 1101.2,2085.3 1101.6,2089.3 1102.0,2086.0 1102.4,2088.4 1102.8,2080.5 1103.2,2087.6 1103.6,2084.0 1104.0,2086.7 1104.4,2079.5 1104.8,2079.8 1105.2,2085.6 1105.6,2082.1 1106.0,2079.6 1106.4,2075.9 1106.8,2077.8 1107.2,2079.7 1107.6,2080.2 1108.0,2074.5 1108.4,2075.0 1108.8,2078.0 1109.2,2071.3 1109.6,2079.8 1110.0,2075.8 1110.4,2075.4 1110.8,2066.0 1111.2,2069.8 1111.6,2068.2 1112.0,2074.9 1112.4,2073.4 1112.8,2080.0 1113.2,2079.6 1113.6,2078.8 1114.0,2072.6 1114.4,2086.6 1114.8,2080.9 1115.2,2084.9 1115.6,2080.9 1116.0,2084.0 1116.4,2079.7 1116.8,2086.1 1117.2,2089.2 1117.6,2085.8 1118.0,2093.6 1118.4,2081.1 1118.8,2086.0 1119.2,2091.4 1119.6,2087.8 1120.0,2087.5 1120.4,2083.6 1120.8,2093.2 1121.2,2083.8 1121.6,2091.5 1122.0,2090.7 1122.4,2092.9 1122.8,2094.8 1123.2,2088.4 1123.6,2088.2 1124.0,2089.8 1124.4,2085.7 1124.8,2093.3 1125.2,2089.7 1125.6,2091.4 1126.0,2087.7 1126.4,2091.1 1126.8,2089.2 1127.2,2090.9 1127.6,2087.9 1128.0,2094.2 1128.4,2089.2 1128.8,2083.6 1129.2,2093.1 1129.6,2090.3 1130.0,2088.6 1130.4,2098.6 1130.8,2091.1 1131.2,2087.4 1131.6,2089.5 1132.0,2092.5 1132.4,2090.7 1132.8,2095.0 1133.2,2094.5 1133.6,2089.1 1134.0,2091.6 1134.4,2093.4 1134.8,2090.3 1135.2,2090.2 1135.6,2094.1 1136.0,2092.9 1136.4,2087.5 1136.8,2090.0 1137.2,2090.4 1137.6,2091.3 1138.0,2089.6 1138.4,2095.6 1138.8,2088.9 1139.2,2088.6 1139.6,2092.4 1140.0,2085.3 1140.4,2088.8 1140.8,2093.6 1141.2,2088.0 1141.6,2089.4 1142.0,2095.0 1142.4,2093.2 1142.8,2092.1 1143.2,2092.6 1143.6,2083.8 1144.0,2092.8 1144.4,2091.4 1144.8,2099.1 1145.2,2093.5 1145.6,2091.0 1146.0,2091.9 1146.4,2092.2 1146.8,2088.1 1147.2,2089.7 1147.6,2096.4 1148.0,2088.1 1148.4,2090.4 1148.8,2095.0 1149.2,2096.4 1149.6,2089.2 1150.0,2096.3 1150.4,2091.1 1150.8,2096.9 1151.2,2093.6 1151.6,2085.9 1152.0,2094.3 1152.4,2093.8 1152.8,2090.0 1153.2,2098.3 1153.6,2091.2 1154.0,2095.5 1154.4,2090.8 1154.8,2087.0 1155.2,2089.0 1155.6,2091.9 1156.0,2094.1 1156.4,2097.2 1156.8,2092.4 1157.2,2091.4 1157.6,2088.7 1158.0,2092.0 1158.4,2093.0 1158.8,2085.8 1159.2,2095.9 1159.6,2095.4 1160.0,2098.6 1160.4,2089.5 1160.8,2092.2 1161.2,2092.1 1161.6,2088.2 1162.0,2089.5 1162.4,2089.1 1162.8,2093.3 1163.2,2093.1 1163.6,2095.7 1164.0,2090.5 1164.4,2087.5 1164.8,2092.8 1165.2,2092.5 1165.6,2093.3 1166.0,2094.8 1166.4,2089.2 1166.8,2093.2 1167.2,2087.5 1167.6,2084.8 1168.0,2091.9 1168.4,2088.8 1168.8,2083.3 1169.2,2083.1 1169.6,2084.5 1170.0,2086.0 1170.4,2079.7 1170.8,2079.2 1171.2,2089.9 1171.6,2079.3 1172.0,2072.4 1172.4,2068.7 1172.8,2076.8 1173.2,2054.3 1173.6,2063.0 1174.0,2065.2 1174.4,2056.6 1174.8,2060.4 1175.2,2050.7 1175.6,2055.6 1176.0,2056.1 1176.4,2056.7 1176.8,2058.6 1177.2,2059.8 1177.6,2067.4 1178.0,2062.7 1178.4,2063.6 1178.8,2067.6 1179.2,2065.6 1179.6,2067.2 1180.0,2068.1 1180.4,2072.8 1180.8,2081.2 1181.2,2079.4 1181.6,2082.0 1182.0,2094.8 1182.4,2089.8 1182.8,2086.3 1183.2,2085.9 1183.6,2093.0 1184.0,2086.8 1184.4,2093.5 1184.8,2092.0 1185.2,2094.7 1185.6,2088.7 1186.0,2093.7 1186.4,2086.0 1186.8,2091.0 1187.2,2094.7 1187.6,2093.7 1188.0,2086.6 1188.4,2093.9 1188.8,2093.3 1189.2,2092.0 1189.6,2090.2 1190.0,2087.6 1190.4,2095.3 1190.8,2095.1 1191.2,2093.8 1191.6,2095.5 1192.0,2094.5 1192.4,2089.1 1192.8,2089.6 1193.2,2098.6 1193.6,2089.7 1194.0,2093.6 1194.4,2090.7 1194.8,2090.5 1195.2,2093.5 1195.6,2095.5 1196.0,2095.1 1196.4,2094.3 1196.8,2095.6 1197.2,2088.7 1197.6,2095.3 1198.0,2094.2 1198.4,2092.7 1198.8,2093.2 1199.2,2090.9 1199.6,2096.4 1200.0,2091.2 1200.4,2089.3 1200.8,2093.3 1201.2,2091.8 1201.6,2093.2 1202.0,2097.5 1202.4,2093.0 1202.8,2093.8 1203.2,2099.5 1203.6,2089.7 1204.0,2094.5 1204.4,2096.6 1204.8,2097.6 1205.2,2099.6 1205.6,2091.8 1206.0,2095.2 1206.4,2093.4 1206.8,2092.4 1207.2,2091.7 1207.6,2089.8 1208.0,2094.6 1208.4,2095.7 1208.8,2090.9 1209.2,2095.8 1209.6,2092.3 1210.0,2091.1 1210.4,2086.8 1210.8,2096.7 1211.2,2095.7 1211.6,2093.0 1212.0,2092.8 1212.4,2090.4 1212.8,2095.3 1213.2,2093.8 1213.6,2095.4 1214.0,2094.4 1214.4,2090.3 1214.8,2089.9 1215.2,2095.1 1215.6,2089.6 1216.0,2087.6 1216.4,2096.5 1216.8,2090.7 1217.2,2095.9 1217.6,2094.2 1218.0,2095.6 1218.4,2092.5 1218.8,2094.2 1219.2,2095.3 1219.6,2099.0 1220.0,2096.2 1220.4,2095.6 1220.8,2090.9 1221.2,2095.2 1221.6,2092.6 1222.0,2094.2 1222.4,2095.1 1222.8,2097.0 1223.2,2096.0 1223.6,2094.9 1224.0,2094.3 1224.4,2098.0 1224.8,2092.2 1225.2,2094.6 1225.6,2098.1 1226.0,2094.0 1226.4,2096.7 1226.8,2096.9 1227.2,2099.7 1227.6,2097.5 1228.0,2090.3 1228.4,2094.6 1228.8,2095.4 1229.2,2096.8 1229.6,2095.7 1230.0,2099.5 1230.4,2097.5 1230.8,2091.6 1231.2,2093.0 1231.6,2089.3 1232.0,2099.1 1232.4,2094.3 1232.8,2094.3 1233.2,2090.6 1233.6,2093.5 1234.0,2095.7 1234.4,2093.6 1234.8,2093.6 1235.2,2093.0 1235.6,2099.7 1236.0,2093.2 1236.4,2090.8 1236.8,2093.2 1237.2,2093.7 1237.6,2094.3 1238.0,2093.9 1238.4,2091.7 1238.8,2094.0 1239.2,2095.5 1239.6,2090.9 1240.0,2099.6 1240.4,2098.9 1240.8,2089.9 1241.2,2093.6 1241.6,2097.2 1242.0,2098.0 1242.4,2099.2 1242.8,2089.8 1243.2,2091.7 1243.6,2093.3 1244.0,2096.0 1244.4,2091.9 1244.8,2095.8 1245.2,2102.7 1245.6,2096.5 1246.0,2091.4 1246.4,2095.2 1246.8,2094.9 1247.2,2093.7 1247.6,2098.1 1248.0,2094.0 1248.4,2098.5 1248.8,2093.3 1249.2,2099.2 1249.6,2099.1 1250.0,2092.7 1250.4,2095.7 1250.8,2095.7 1251.2,2092.4 1251.6,2096.9 1252.0,2096.4 1252.4,2092.7 1252.8,2095.2 1253.2,2097.2 1253.6,2094.5 1254.0,2093.1 1254.4,2099.2 1254.8,2092.4 1255.2,2095.8 1255.6,2097.9 1256.0,2097.0 1256.4,2090.3 1256.8,2094.2 1257.2,2094.7 1257.6,2094.5 1258.0,2096.6 1258.4,2096.4 1258.8,2095.4 1259.2,2095.7 1259.6,2097.7 1260.0,2098.3 1260.4,2090.2 1260.8,2100.7 1261.2,2093.7 1261.6,2097.1 1262.0,2090.9 1262.4,2093.8 1262.8,2091.8 1263.2,2097.9 1263.6,2091.5 1264.0,2095.1 1264.4,2094.6 1264.8,2096.0 1265.2,2092.6 1265.6,2093.5 1266.0,2093.0 1266.4,2097.1 1266.8,2095.1 1267.2,2091.7 1267.6,2095.9 1268.0,2096.3 1268.4,2098.5 1268.8,2093.5 1269.2,2095.9 1269.6,2100.3 1270.0,2094.0 1270.4,2093.9 1270.8,2096.1 1271.2,2093.4 1271.6,2094.7 1272.0,2093.4 1272.4,2092.6 1272.8,2096.9 1273.2,2093.5 1273.6,2091.8 1274.0,2093.6 1274.4,2094.0 1274.8,2095.0 1275.2,2096.6 1275.6,2098.8 1276.0,2090.6 1276.4,2093.1 1276.8,2088.6 1277.2,2093.9 1277.6,2094.5 1278.0,2090.8 1278.4,2083.8 1278.8,2088.7 1279.2,2086.4 1279.6,2092.0 1280.0,2095.1 1280.4,2084.0 1280.8,2091.9 1281.2,2084.2 1281.6,2077.5 1282.0,2082.8 1282.4,2081.4 1282.8,2077.6 1283.2,2072.2 1283.6,2078.5 1284.0,2067.1 1284.4,2069.4 1284.8,2067.7 1285.2,2058.6 1285.6,2053.0 1286.0,2053.6 1286.4,2060.9 1286.8,2065.8 1287.2,2056.6 1287.6,2063.7 1288.0,2076.4 1288.4,2063.1 1288.8,2075.5 1289.2,2077.2 1289.6,2081.1 1290.0,2074.0 1290.4,2083.0 1290.8,2078.4 1291.2,2089.8 1291.6,2083.6 1292.0,2089.0 1292.4,2086.3 1292.8,2090.2 1293.2,2085.9 1293.6,2092.1 1294.0,2093.5 1294.4,2092.2 1294.8,2097.2 1295.2,2094.0 1295.6,2095.4 1296.0,2094.8 1296.4,2098.7 1296.8,2092.0 1297.2,2093.2 1297.6,2093.5 1298.0,2095.8 1298.4,2094.9 1298.8,2096.5 1299.2,2095.2 1299.6,2093.1 1300.0,2094.4 1300.4,2095.7 1300.8,2088.7 1301.2,2098.3 1301.6,2093.3 1302.0,2093.8 1302.4,2095.5 1302.8,2094.2 1303.2,2091.1 1303.6,2094.3 1304.0,2105.2 1304.4,2097.7 1304.8,2098.2 1305.2,2093.6 1305.6,2100.5 1306.0,2097.8 1306.4,2098.9 1306.8,2101.9 1307.2,2092.7 1307.6,2090.3 1308.0,2098.9 1308.4,2091.4 1308.8,2096.4 1309.2,2097.6 1309.6,2103.6 1310.0,2095.8 1310.4,2095.1 1310.8,2096.6 1311.2,2096.7 1311.6,2098.9 1312.0,2097.2 1312.4,2093.5 1312.8,2090.1 1313.2,2096.3 1313.6,2093.8 1314.0,2099.1 1314.4,2092.2 1314.8,2096.1 1315.2,2093.7 1315.6,2093.3 1316.0,2099.8 1316.4,2096.0 1316.8,2095.1 1317.2,2097.5 1317.6,2093.6 1318.0,2094.7 1318.4,2094.0 1318.8,2100.7 1319.2,2096.5 1319.6,2097.2 1320.0,2098.5 1320.4,2095.2 1320.8,2095.3 1321.2,2091.5 1321.6,2096.9 1322.0,2096.3 1322.4,2094.6 1322.8,2098.8 1323.2,2091.1 1323.6,2096.8 1324.0,2092.2 1324.4,2092.8 1324.8,2095.2 1325.2,2099.1 1325.6,2092.7 1326.0,2093.2 1326.4,2092.7 1326.8,2100.9 1327.2,2097.1 1327.6,2096.8 1328.0,2101.0 1328.4,2096.4 1328.8,2090.4 1329.2,2094.5 1329.6,2092.7 1330.0,2100.9 1330.4,2092.2 1330.8,2096.6 1331.2,2094.5 1331.6,2094.7 1332.0,2095.9 1332.4,2095.5 1332.8,2094.1 1333.2,2092.7 1333.6,2094.2 1334.0,2093.2 1334.4,2093.5 1334.8,2096.1 1335.2,2095.4 1335.6,2097.0 1336.0,2095.2 1336.4,2100.7 1336.8,2094.0 1337.2,2093.3 1337.6,2098.4 1338.0,2094.0 1338.4,2096.2 1338.8,2098.3 1339.2,2095.6 1339.6,2094.9 1340.0,2098.3 1340.4,2096.7 1340.8,2094.5 1341.2,2092.8 1341.6,2094.9 1342.0,2091.6 1342.4,2093.6 1342.8,2093.0 1343.2,2096.5 1343.6,2097.7 1344.0,2094.1 1344.4,2094.6 1344.8,2092.9 1345.2,2092.2 1345.6,2094.6 1346.0,2097.1 1346.4,2096.8 1346.8,2097.1 1347.2,2094.9 1347.6,2088.5 1348.0,2097.9 1348.4,2098.8 1348.8,2097.7 1349.2,2097.6 1349.6,2098.0 1350.0,2102.1 1350.4,2095.8 1350.8,2099.0 1351.2,2096.9 1351.6,2096.4 1352.0,2094.0 1352.4,2093.3 1352.8,2090.9 1353.2,2095.4 1353.6,2092.7 1354.0,2093.8 1354.4,2090.9 1354.8,2089.4 1355.2,2097.2 1355.6,2091.6 1356.0,2092.4 1356.4,2088.1 1356.8,2088.4 1357.2,2094.5 1357.6,2090.3 1358.0,2091.5 1358.4,2096.4 1358.8,2097.0 1359.2,2092.5 1359.6,2091.8 1360.0,2091.0 1360.4,2089.3 1360.8,2096.6 1361.2,2086.5 1361.6,2090.1 1362.0,2084.6 1362.4,2086.8 1362.8,2092.2 1363.2,2092.6 1363.6,2092.5 1364.0,2090.7 1364.4,2089.9 1364.8,2090.6 1365.2,2091.4 1365.6,2096.0 1366.0,2097.2 1366.4,2094.6 1366.8,2092.0 1367.2,2091.2 1367.6,2094.9 1368.0,2093.6 1368.4,2089.5 1368.8,2098.3 1369.2,2094.7 1369.6,2094.1 1370.0,2092.8 1370.4,2092.9 1370.8,2097.6 1371.2,2092.9 1371.6,2095.7 1372.0,2097.2 1372.4,2100.4 1372.8,2097.2 1373.2,2095.7 1373.6,2094.7 1374.0,2098.0 1374.4,2098.4 1374.8,2094.8 1375.2,2097.4 1375.6,2095.6 1376.0,2091.8 1376.4,2093.4 1376.8,2098.0 1377.2,2099.6 1377.6,2097.7 1378.0,2095.5 1378.4,2094.2 1378.8,2097.3 1379.2,2096.8 1379.6,2091.9 1380.0,2097.6 1380.4,2094.2 1380.8,2097.7 1381.2,2097.3 1381.6,2097.8 1382.0,2098.6 1382.4,2097.7 1382.8,2093.2 1383.2,2093.2 1383.6,2098.4 1384.0,2096.9 1384.4,2091.6 1384.8,2090.3 1385.2,2097.7 1385.6,2101.1 1386.0,2097.3 1386.4,2094.2 1386.8,2095.3 1387.2,2086.8 1387.6,2091.1 1388.0,2096.3 1388.4,2095.4 1388.8,2086.1 1389.2,2095.3 1389.6,2092.7 1390.0,2093.3 1390.4,2088.9 1390.8,2088.7 1391.2,2084.3 1391.6,2088.2 1392.0,2089.5 1392.4,2082.3 1392.8,2086.4 1393.2,2082.7 1393.6,2088.2 1394.0,2087.9 1394.4,2075.6 1394.8,2079.0 1395.2,2088.7 1395.6,2083.6 1396.0,2085.5 1396.4,2086.4 1396.8,2083.8 1397.2,2088.1 1397.6,2094.4 1398.0,2091.6 1398.4,2095.5 1398.8,2094.5 1399.2,2095.6 1399.6,2092.9 1400.0,2095.3 1400.4,2099.1 1400.8,2097.9 1401.2,2094.9 1401.6,2092.4 1402.0,2091.9 1402.4,2095.2 1402.8,2095.8 1403.2,2089.8 1403.6,2095.4 1404.0,2095.7 1404.4,2095.6 1404.8,2093.3 1405.2,2100.9 1405.6,2097.0 1406.0,2090.9 1406.4,2092.6 1406.8,2096.6 1407.2,2095.8 1407.6,2094.7 1408.0,2094.1 1408.4,2093.5 1408.8,2092.8 1409.2,2091.0 1409.6,2095.4 1410.0,2085.8 1410.4,2091.4 1410.8,2096.9 1411.2,2091.0 1411.6,2089.6 1412.0,2098.3 1412.4,2095.7 1412.8,2092.1 1413.2,2090.7 1413.6,2091.5 1414.0,2091.0 1414.4,2091.1 1414.8,2089.4 1415.2,2093.1 1415.6,2089.6 1416.0,2085.5 1416.4,2086.9 1416.8,2090.6 1417.2,2087.2 1417.6,2082.4 1418.0,2094.7 1418.4,2091.3 1418.8,2088.0 1419.2,2087.6 1419.6,2090.7 1420.0,2093.3 1420.4,2086.5 1420.8,2093.6 1421.2,2081.0 1421.6,2089.0 1422.0,2083.8 1422.4,2081.2 1422.8,2087.5 1423.2,2086.8 1423.6,2089.3 1424.0,2084.2 1424.4,2091.1 1424.8,2086.5 1425.2,2091.4 1425.6,2084.5 1426.0,2090.9 1426.4,2085.1 1426.8,2085.7 1427.2,2088.5 1427.6,2078.4 1428.0,2080.7 1428.4,2091.2 1428.8,2078.8 1429.2,2082.3 1429.6,2086.1 1430.0,2089.3 1430.4,2081.9 1430.8,2084.2 1431.2,2079.3 1431.6,2082.0 1432.0,2087.2 1432.4,2084.5 1432.8,2083.2 1433.2,2085.1 1433.6,2084.2 1434.0,2084.6 1434.4,2083.0 1434.8,2081.0 1435.2,2087.3 1435.6,2080.8 1436.0,2088.7 1436.4,2092.6 1436.8,2090.1 1437.2,2092.5 1437.6,2078.9 1438.0,2082.3 1438.4,2076.0 1438.8,2073.7 1439.2,2066.0 1439.6,2064.2 1440.0,2070.1 1440.4,2064.9 1440.8,2063.0 1441.2,2057.7 1441.6,2051.2 1442.0,2038.5 1442.4,2039.4 1442.8,2042.6 1443.2,2045.5 1443.6,2037.9 1444.0,2039.6 1444.4,2043.2 1444.8,2058.3 1445.2,2056.9 1445.6,2056.5 1446.0,2058.7 1446.4,2069.2 1446.8,2063.2 1447.2,2073.8 1447.6,2075.7 1448.0,2078.8 1448.4,2084.4 1448.8,2087.3 1449.2,2098.0 1449.6,2089.5 1450.0,2092.6 1450.4,2089.1 1450.8,2087.5 1451.2,2096.2 1451.6,2099.0 1452.0,2091.2 1452.4,2094.1 1452.8,2097.6 1453.2,2095.1 1453.6,2084.6 1454.0,2097.9 1454.4,2095.1 1454.8,2097.4 1455.2,2093.2 1455.6,2090.8 1456.0,2098.5 1456.4,2094.2 1456.8,2097.3 1457.2,2094.6 1457.6,2095.0 1458.0,2094.1 1458.4,2101.5 1458.8,2094.8 1459.2,2099.4 1459.6,2096.0 1460.0,2093.9 1460.4,2100.0 1460.8,2098.0 1461.2,2091.8 1461.6,2096.7 1462.0,2098.5 1462.4,2096.7 1462.8,2094.7 1463.2,2097.2 1463.6,2097.3 1464.0,2097.4 1464.4,2092.7 1464.8,2093.0 1465.2,2097.8 1465.6,2095.3 1466.0,2096.5 1466.4,2098.3 1466.8,2097.4 1467.2,2095.7 1467.6,2099.1 1468.0,2097.2 1468.4,2099.5 1468.8,2100.2 1469.2,2096.5 1469.6,2094.9 1470.0,2097.6 1470.4,2099.3 1470.8,2098.2 1471.2,2088.1 1471.6,2093.6 1472.0,2095.3 1472.4,2095.3 1472.8,2099.0 1473.2,2097.7 1473.6,2099.6 1474.0,2097.4 1474.4,2101.4 1474.8,2097.7 1475.2,2098.9 1475.6,2096.7 1476.0,2098.7 1476.4,2100.2 1476.8,2099.5 1477.2,2100.6 1477.6,2096.3 1478.0,2098.8 1478.4,2101.6 1478.8,2098.3 1479.2,2097.4 1479.6,2097.3 1480.0,2096.6 1480.4,2098.1 1480.8,2101.0 1481.2,2098.9 1481.6,2097.8 1482.0,2096.1 1482.4,2095.3 1482.8,2103.2 1483.2,2096.8 1483.6,2098.1 1484.0,2096.8 1484.4,2098.3 1484.8,2096.9 1485.2,2098.1 1485.6,2101.2 1486.0,2096.3 1486.4,2099.1 1486.8,2097.8 1487.2,2099.5 1487.6,2096.4 1488.0,2098.8 1488.4,2101.5 1488.8,2093.9 1489.2,2095.0 1489.6,2095.8 1490.0,2095.4 1490.4,2097.2 1490.8,2100.4 1491.2,2095.4 1491.6,2098.9 1492.0,2098.3 1492.4,2100.4 1492.8,2095.9 1493.2,2098.9 1493.6,2099.0 1494.0,2090.3 1494.4,2097.6 1494.8,2097.9 1495.2,2095.1 1495.6,2098.2 1496.0,2098.6 1496.4,2101.8 1496.8,2095.2 1497.2,2096.0 1497.6,2098.1 1498.0,2096.7 1498.4,2097.1 1498.8,2098.0 1499.2,2097.3 1499.6,2097.9 1500.0,2098.9 1500.4,2094.4 1500.8,2099.2 1501.2,2093.1 1501.6,2101.7 1502.0,2100.0 1502.4,2096.7 1502.8,2100.2 1503.2,2097.7 1503.6,2099.0 1504.0,2099.7 1504.4,2098.8 1504.8,2098.0 1505.2,2099.4 1505.6,2097.6 1506.0,2097.2 1506.4,2096.0 1506.8,2094.1 1507.2,2101.5 1507.6,2099.7 1508.0,2095.0 1508.4,2098.9 1508.8,2098.5 1509.2,2093.3 1509.6,2096.2 1510.0,2097.8 1510.4,2101.8 1510.8,2100.4 1511.2,2100.8 1511.6,2091.3 1512.0,2100.2 1512.4,2095.5 1512.8,2099.4 1513.2,2099.7 1513.6,2095.3 1514.0,2098.6 1514.4,2101.4 1514.8,2102.3 1515.2,2101.2 1515.6,2096.6 1516.0,2097.9 1516.4,2097.0 1516.8,2100.8 1517.2,2096.3 1517.6,2095.8 1518.0,2094.6 1518.4,2098.5 1518.8,2099.1 1519.2,2101.8 1519.6,2096.5 1520.0,2097.7 1520.4,2101.0 1520.8,2095.2 1521.2,2098.0 1521.6,2098.6 1522.0,2098.9 1522.4,2100.8 1522.8,2099.9 1523.2,2098.7 1523.6,2101.3 1524.0,2100.6 1524.4,2098.7 1524.8,2098.6 1525.2,2095.5 1525.6,2098.4 1526.0,2096.4 1526.4,2095.6 1526.8,2097.5 1527.2,2094.3 1527.6,2096.1 1528.0,2096.9 1528.4,2098.8 1528.8,2097.3 1529.2,2098.9 1529.6,2101.4 1530.0,2099.8 1530.4,2095.4 1530.8,2094.0 1531.2,2095.9 1531.6,2096.0 1532.0,2093.5 1532.4,2094.1 1532.8,2094.1 1533.2,2096.5 1533.6,2100.9 1534.0,2101.5 1534.4,2095.5 1534.8,2096.7 1535.2,2094.6 1535.6,2094.0 1536.0,2097.4 1536.4,2097.7 1536.8,2096.1 1537.2,2098.9 1537.6,2096.7 1538.0,2091.9 1538.4,2096.2 1538.8,2092.1 1539.2,2096.8 1539.6,2097.5 1540.0,2098.6 1540.4,2094.1 1540.8,2095.4 1541.2,2096.9 1541.6,2096.3 1542.0,2097.5 1542.4,2095.0 1542.8,2093.7 1543.2,2096.4 1543.6,2097.2 1544.0,2094.6 1544.4,2099.2 1544.8,2097.9 1545.2,2098.1 1545.6,2097.8 1546.0,2093.6 1546.4,2094.7 1546.8,2093.5 1547.2,2095.9 1547.6,2096.4 1548.0,2094.9 1548.4,2093.9 1548.8,2090.3 1549.2,2090.5 1549.6,2090.6 1550.0,2093.2 1550.4,2085.2 1550.8,2087.8 1551.2,2084.8 1551.6,2081.0 1552.0,2075.6 1552.4,2074.2 1552.8,2063.7 1553.2,2068.7 1553.6,2066.4 1554.0,2058.9 1554.4,2061.4 1554.8,2057.8 1555.2,2050.4 1555.6,2057.7 1556.0,2050.2 1556.4,2066.4 1556.8,2049.2 1557.2,2052.1 1557.6,2055.1 1558.0,2062.1 1558.4,2069.3 1558.8,2066.5 1559.2,2066.8 1559.6,2079.9 1560.0,2078.2 1560.4,2074.7 1560.8,2077.5 1561.2,2073.7 1561.6,2081.5 1562.0,2089.2 1562.4,2079.8 1562.8,2080.0 1563.2,2086.2 1563.6,2078.3 1564.0,2091.7 1564.4,2082.4 1564.8,2085.4 1565.2,2087.5 1565.6,2092.1 1566.0,2089.6 1566.4,2082.3 1566.8,2083.1 1567.2,2089.2 1567.6,2081.9 1568.0,2087.7 1568.4,2086.0 1568.8,2091.1 1569.2,2092.3 1569.6,2080.2 1570.0,2089.5 1570.4,2089.9 1570.8,2084.8 1571.2,2084.8 1571.6,2082.1 1572.0,2084.2 1572.4,2085.8 1572.8,2088.1 1573.2,2087.4 1573.6,2079.5 1574.0,2075.7 1574.4,2081.6 1574.8,2064.3 1575.2,2068.4 1575.6,2075.9 1576.0,2077.8 1576.4,2067.7 1576.8,2071.4 1577.2,2066.1 1577.6,2071.4 1578.0,2072.4 1578.4,2070.7 1578.8,2077.1 1579.2,2076.3 1579.6,2080.8 1580.0,2079.7 1580.4,2077.8 1580.8,2084.5 1581.2,2088.5 1581.6,2084.5 1582.0,2092.8 1582.4,2091.1 1582.8,2089.8 1583.2,2092.0 1583.6,2091.6 1584.0,2091.0 1584.4,2096.6 1584.8,2097.0 1585.2,2094.0 1585.6,2095.1 1586.0,2095.4 1586.4,2097.8 1586.8,2099.9 1587.2,2095.1 1587.6,2097.5 1588.0,2096.9 1588.4,2098.3 1588.8,2100.5 1589.2,2095.3 1589.6,2092.7 1590.0,2097.1 1590.4,2093.9 1590.8,2101.3 1591.2,2096.1 1591.6,2097.1 1592.0,2098.3 1592.4,2098.3 1592.8,2096.9 1593.2,2097.9 1593.6,2100.0 1594.0,2097.3 1594.4,2102.0 1594.8,2098.8 1595.2,2093.0 1595.6,2100.0 1596.0,2094.3 1596.4,2098.9 1596.8,2103.1 1597.2,2100.5 1597.6,2095.8 1598.0,2096.5 1598.4,2098.3 1598.8,2101.4 1599.2,2096.8 1599.6,2100.7 1600.0,2099.0 1600.4,2098.2 1600.8,2098.0 1601.2,2102.0 1601.6,2095.2 1602.0,2088.8 1602.4,2100.4 1602.8,2100.6 1603.2,2095.7 1603.6,2096.6 1604.0,2096.1 1604.4,2099.7 1604.8,2097.1 1605.2,2101.5 1605.6,2100.2 1606.0,2099.1 1606.4,2099.0 1606.8,2099.7 1607.2,2100.4 1607.6,2098.6 1608.0,2099.1 1608.4,2100.3 1608.8,2098.5 1609.2,2100.7 1609.6,2098.4 1610.0,2097.0 1610.4,2099.1 1610.8,2102.1 1611.2,2101.8 1611.6,2095.3 1612.0,2099.3 1612.4,2097.7 1612.8,2098.0 1613.2,2098.0 1613.6,2098.2 1614.0,2097.6 1614.4,2098.1 1614.8,2099.2 1615.2,2096.2 1615.6,2096.2 1616.0,2096.4 1616.4,2096.4 1616.8,2100.0 1617.2,2099.6 1617.6,2098.6 1618.0,2098.9 1618.4,2100.2 1618.8,2098.8 1619.2,2100.9 1619.6,2098.6 1620.0,2099.3 1620.4,2100.3 1620.8,2095.8 1621.2,2099.6 1621.6,2101.9 1622.0,2099.0 1622.4,2098.3 1622.8,2102.7 1623.2,2099.0 1623.6,2101.4 1624.0,2094.0 1624.4,2095.5 1624.8,2097.8 1625.2,2099.7 1625.6,2101.3 1626.0,2098.6 1626.4,2098.4 1626.8,2093.1 1627.2,2100.5 1627.6,2101.6 1628.0,2099.2 1628.4,2097.9 1628.8,2099.7 1629.2,2101.0 1629.6,2100.3 1630.0,2103.2 1630.4,2097.8 1630.8,2096.2 1631.2,2100.0 1631.6,2101.6 1632.0,2098.0 1632.4,2099.0 1632.8,2097.7 1633.2,2096.4 1633.6,2097.5 1634.0,2094.8 1634.4,2099.6 1634.8,2099.9 1635.2,2100.8 1635.6,2090.9 1636.0,2097.7 1636.4,2095.6 1636.8,2096.1" fill="none" stroke="#ff0000" stroke-width="2.6" stroke-linejoin="round"/>
</g>
<text x="156.2" y="2266.5" font-family="Liberation Sans, Arial, sans-serif" font-size="89.5">10</text>
<text x="360.3" y="2266.5" font-family="Liberation Sans, Arial, sans-serif" font-size="89.5">20</text>
<text x="565.9" y="2266.5" font-family="Liberation Sans, Arial, sans-serif" font-size="89.5">30</text>
<text x="769.7" y="2266.5" font-family="Liberation Sans, Arial, sans-serif" font-size="89.5">40</text>
<text x="976.1" y="2266.5" font-family="Liberation Sans, Arial, sans-serif" font-size="89.5">50</text>
<text x="1179.5" y="2266.5" font-family="Liberation Sans, Arial, sans-serif" font-size="89.5">60</text>
<text x="1383.1" y="2266.5" font-family="Liberation Sans, Arial, sans-serif" font-size="89.5">70</text>
<text x="1590.1" y="2266.5" font-family="Liberation Sans, Arial, sans-serif" font-size="89.5">80</text>
<text transform="translate(797,2434) scale(1.08,1)" font-family="Liberation Serif, Times New Roman, serif" font-size="107">2θ</text>
<text x="932" y="2434" font-family="Liberation Serif, Times New Roman, serif" font-size="107">(°)</text>
<text transform="translate(115.4,1101.5) rotate(-90)" font-family="Liberation Sans, Arial, sans-serif" font-size="105" text-anchor="middle">Inteisnty (arb. units)</text>
<text x="257.7" y="161" font-family="Liberation Sans, Arial, sans-serif" font-size="106" font-weight="bold">(a)</text>
<text x="258.5" y="874.3" font-family="Liberation Sans, Arial, sans-serif" font-size="106" font-weight="bold">(b)</text>
<text x="259.5" y="1578.6" font-family="Liberation Sans, Arial, sans-serif" font-size="106" font-weight="bold">(c)</text>
<line x1="985" y1="117.4" x2="1150" y2="117.4" stroke="#000" stroke-width="3"/>
<text transform="translate(1168,140.8) scale(1,1.05)" font-family="Liberation Sans, Arial, sans-serif" font-size="73.9">As-deposited</text>
<ellipse cx="1336.3" cy="214.4" rx="13.7" ry="12.4" fill="#ff0000"/>
<text x="1364" y="239.8" font-family="Liberation Sans, Arial, sans-serif" font-size="59.3">Substrate</text>
<line x1="1012" y1="824.5" x2="1177" y2="824.5" stroke="#0000ff" stroke-width="3"/>
<text transform="translate(1196,846.8) scale(1,1.03)" font-family="Liberation Sans, Arial, sans-serif" font-size="74.3">50 mV/mm<tspan dy="-30" font-size="46">2</tspan></text>
<line x1="1004" y1="1536" x2="1166" y2="1536" stroke="#ff0000" stroke-width="3"/>
<text transform="translate(1185,1559.8) scale(1,1.03)" font-family="Liberation Sans, Arial, sans-serif" font-size="74.3">70 mV/mm<tspan dy="-30" font-size="46">2</tspan></text>
<ellipse cx="524.1" cy="600.0" rx="12.35" ry="13.85" fill="#ff0000"/>
<ellipse cx="786.8" cy="517.7" rx="13.80" ry="13.80" fill="#ff0000"/>
<ellipse cx="892.4" cy="586.4" rx="13.75" ry="13.15" fill="#ff0000"/>
<ellipse cx="1081.0" cy="557.6" rx="13.75" ry="13.15" fill="#ff0000"/>
<ellipse cx="1284.3" cy="579.4" rx="13.70" ry="12.38" fill="#ff0000"/>
<ellipse cx="1441.2" cy="611.0" rx="13.75" ry="13.15" fill="#ff0000"/>
<ellipse cx="1554.0" cy="579.5" rx="13.85" ry="12.45" fill="#ff0000"/>
<ellipse cx="1581.4" cy="605.8" rx="13.75" ry="13.85" fill="#ff0000"/>
<ellipse cx="524.0" cy="1323.5" rx="12.30" ry="13.80" fill="#ff0000"/>
<ellipse cx="786.7" cy="1242.5" rx="13.60" ry="12.35" fill="#ff0000"/>
<ellipse cx="892.6" cy="1319.4" rx="12.50" ry="12.40" fill="#ff0000"/>
<ellipse cx="1081.0" cy="1290.2" rx="13.75" ry="13.15" fill="#ff0000"/>
<ellipse cx="1284.3" cy="1312.6" rx="13.75" ry="13.15" fill="#ff0000"/>
<ellipse cx="1441.2" cy="1323.9" rx="13.75" ry="13.15" fill="#ff0000"/>
<ellipse cx="1554.0" cy="1312.6" rx="13.75" ry="13.15" fill="#ff0000"/>
<ellipse cx="1581.3" cy="1338.4" rx="13.75" ry="13.15" fill="#ff0000"/>
<ellipse cx="524.0" cy="2024.7" rx="12.30" ry="13.95" fill="#ff0000"/>
<ellipse cx="786.8" cy="1913.6" rx="13.75" ry="13.15" fill="#ff0000"/>
<ellipse cx="892.6" cy="2022.1" rx="13.75" ry="13.15" fill="#ff0000"/>
<ellipse cx="1081.0" cy="1991.5" rx="13.75" ry="13.15" fill="#ff0000"/>
<ellipse cx="1284.3" cy="2013.8" rx="13.75" ry="13.15" fill="#ff0000"/>
<ellipse cx="1441.2" cy="2016.8" rx="13.75" ry="13.15" fill="#ff0000"/>
<ellipse cx="1554.0" cy="2013.8" rx="13.75" ry="13.15" fill="#ff0000"/>
<ellipse cx="1581.3" cy="2040.2" rx="13.75" ry="13.15" fill="#ff0000"/>
<text transform="translate(583.7,568.9) rotate(-90) scale(0.90,1)" font-family="Liberation Sans, Arial, sans-serif" font-size="48.0" textLength="221.1" lengthAdjust="spacing" fill="#000" stroke="#fff" stroke-width="1.6">IrO<tspan font-size="31.5" dy="8.8" dx="-3" stroke-width="0.9">2</tspan><tspan dy="-8.8"> (110)</tspan></text>
<text transform="translate(737.7,481.2) rotate(-90) scale(0.90,1)" font-family="Liberation Sans, Arial, sans-serif" font-size="48.0" textLength="221.1" lengthAdjust="spacing" fill="#000" stroke="#fff" stroke-width="1.6">IrO<tspan font-size="31.5" dy="8.8" dx="-3" stroke-width="0.9">2</tspan><tspan dy="-8.8"> (101)</tspan></text>
<text transform="translate(877.2,420.0) rotate(-90) scale(0.90,1)" font-family="Liberation Sans, Arial, sans-serif" font-size="48.0" textLength="221.1" lengthAdjust="spacing" fill="#000" stroke="#fff" stroke-width="1.6">IrO<tspan font-size="31.5" dy="8.8" dx="-3" stroke-width="0.9">2</tspan><tspan dy="-8.8"> (221)</tspan></text>
<text transform="translate(1191.7,581.7) rotate(-90) scale(0.90,1)" font-family="Liberation Sans, Arial, sans-serif" font-size="48.0" textLength="221.1" lengthAdjust="spacing" fill="#000" stroke="#fff" stroke-width="1.6">IrO<tspan font-size="31.5" dy="8.8" dx="-3" stroke-width="0.9">2</tspan><tspan dy="-8.8"> (112)</tspan></text>
<text transform="translate(583.7,1261.7) rotate(-90) scale(0.90,1)" font-family="Liberation Sans, Arial, sans-serif" font-size="48.0" textLength="221.1" lengthAdjust="spacing" fill="#000" stroke="#fff" stroke-width="1.6">IrO<tspan font-size="31.5" dy="8.8" dx="-3" stroke-width="0.9">2</tspan><tspan dy="-8.8"> (110)</tspan></text>
<text transform="translate(737.7,1174.0) rotate(-90) scale(0.90,1)" font-family="Liberation Sans, Arial, sans-serif" font-size="48.0" textLength="221.1" lengthAdjust="spacing" fill="#000" stroke="#fff" stroke-width="1.6">IrO<tspan font-size="31.5" dy="8.8" dx="-3" stroke-width="0.9">2</tspan><tspan dy="-8.8"> (101)</tspan></text>
<text transform="translate(877.7,1112.9) rotate(-90) scale(0.90,1)" font-family="Liberation Sans, Arial, sans-serif" font-size="48.0" textLength="221.1" lengthAdjust="spacing" fill="#000" stroke="#fff" stroke-width="1.6">IrO<tspan font-size="31.5" dy="8.8" dx="-3" stroke-width="0.9">2</tspan><tspan dy="-8.8"> (221)</tspan></text>
<text transform="translate(1191.7,1275.2) rotate(-90) scale(0.90,1)" font-family="Liberation Sans, Arial, sans-serif" font-size="48.0" textLength="221.1" lengthAdjust="spacing" fill="#000" stroke="#fff" stroke-width="1.6">IrO<tspan font-size="31.5" dy="8.8" dx="-3" stroke-width="0.9">2</tspan><tspan dy="-8.8"> (112)</tspan></text>
<text transform="translate(583.7,2016.6) rotate(-90) scale(0.90,1)" font-family="Liberation Sans, Arial, sans-serif" font-size="48.0" textLength="221.1" lengthAdjust="spacing" fill="#000" stroke="#fff" stroke-width="1.6">IrO<tspan font-size="31.5" dy="8.8" dx="-3" stroke-width="0.9">2</tspan><tspan dy="-8.8"> (110)</tspan></text>
<text transform="translate(737.7,1928.5) rotate(-90) scale(0.90,1)" font-family="Liberation Sans, Arial, sans-serif" font-size="48.0" textLength="221.1" lengthAdjust="spacing" fill="#000" stroke="#fff" stroke-width="1.6">IrO<tspan font-size="31.5" dy="8.8" dx="-3" stroke-width="0.9">2</tspan><tspan dy="-8.8"> (101)</tspan></text>
<text transform="translate(877.7,1870.5) rotate(-90) scale(0.90,1)" font-family="Liberation Sans, Arial, sans-serif" font-size="48.0" textLength="221.1" lengthAdjust="spacing" fill="#000" stroke="#fff" stroke-width="1.6">IrO<tspan font-size="31.5" dy="8.8" dx="-3" stroke-width="0.9">2</tspan><tspan dy="-8.8"> (221)</tspan></text>
<text transform="translate(1191.7,2030.5) rotate(-90) scale(0.90,1)" font-family="Liberation Sans, Arial, sans-serif" font-size="48.0" textLength="221.1" lengthAdjust="spacing" fill="#000" stroke="#fff" stroke-width="1.6">IrO<tspan font-size="31.5" dy="8.8" dx="-3" stroke-width="0.9">2</tspan><tspan dy="-8.8"> (112)</tspan></text>
</svg>
</body></html>
